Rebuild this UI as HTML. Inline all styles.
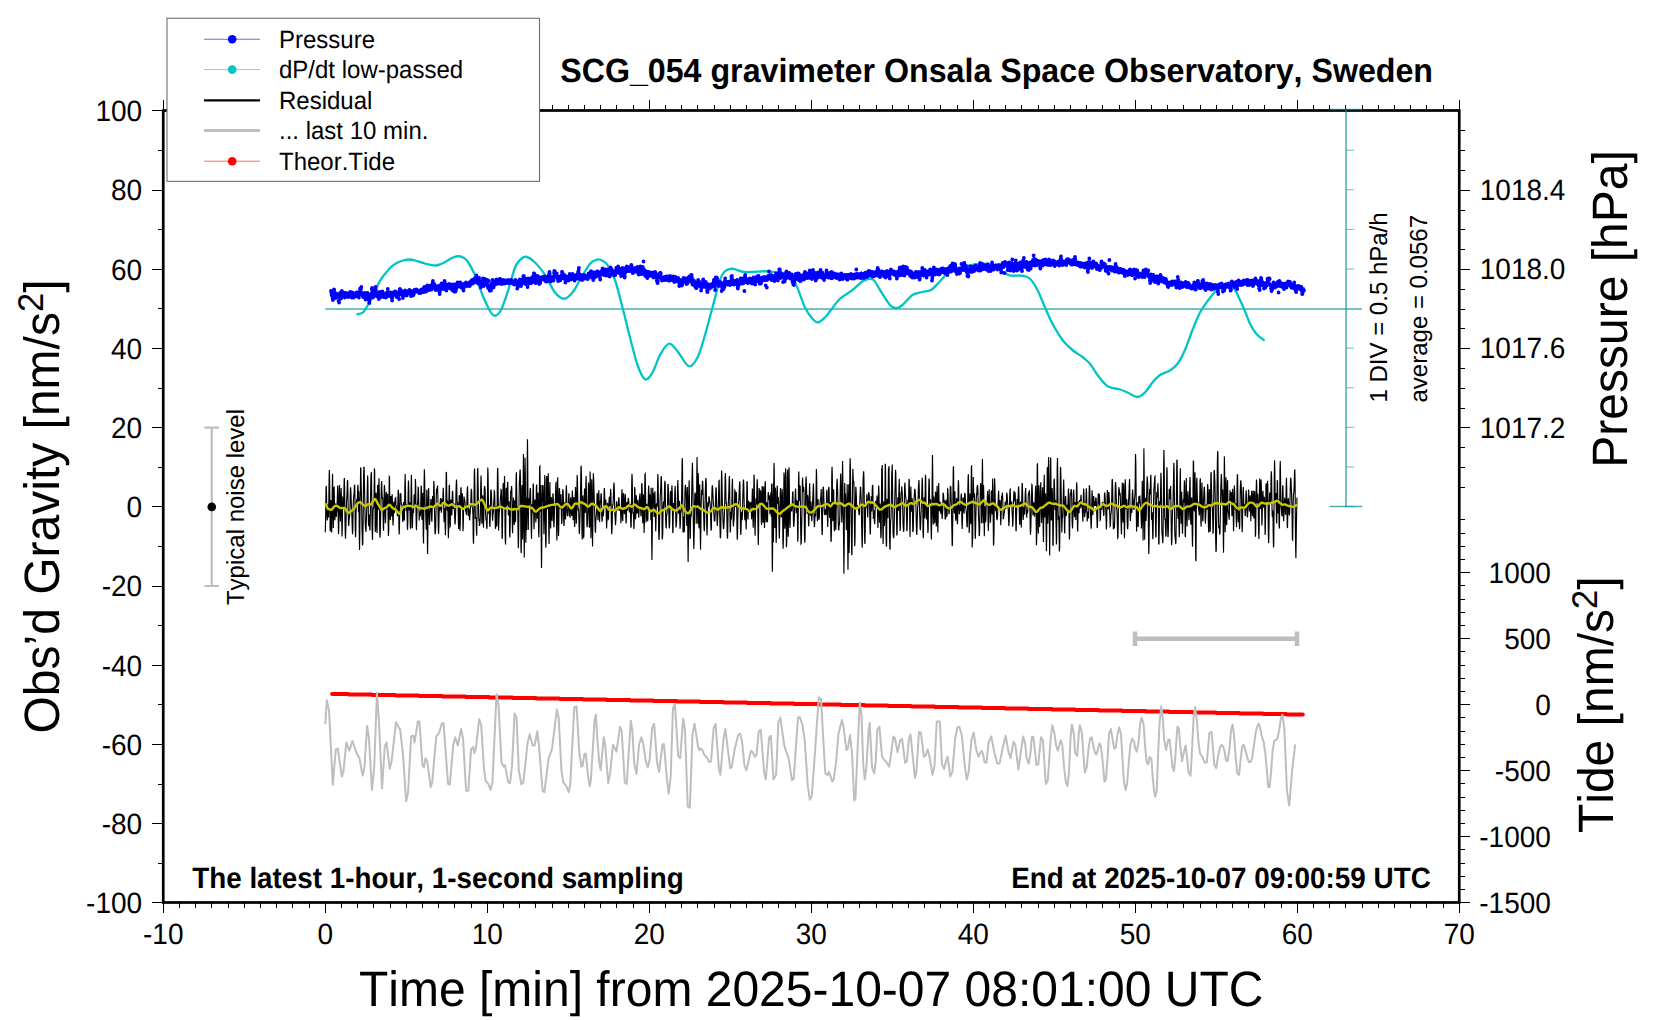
<!DOCTYPE html>
<html lang="en"><head><meta charset="utf-8"><title>SCG_054 gravimeter Onsala Space Observatory, Sweden</title>
<style>html,body{margin:0;padding:0;background:#fff;overflow:hidden}svg{display:block}text{font-family:"Liberation Sans", sans-serif;fill:#000;font-kerning:none;font-variant-ligatures:none;text-rendering:geometricPrecision}</style></head><body>
<svg width="1660" height="1020" viewBox="0 0 1660 1020" role="img" aria-label="SCG_054 gravimeter, latest 1-hour plot">
<rect width="1660" height="1020" fill="#fff"/>
<path d="M325.25,309H1362" stroke="#008b8b" stroke-opacity="0.7" stroke-width="1.5" fill="none"/>
<path d="M357.5,314.2C358,314.08 359.5,313.87 360.5,313.5C361.5,313.13 362.38,313.23 363.5,312C364.62,310.77 366.08,307.93 367.2,306.1C368.32,304.27 369.2,302.8 370.2,301C371.2,299.2 372.2,297.35 373.2,295.3C374.2,293.25 375.2,290.88 376.2,288.7C377.2,286.52 378.2,284.07 379.2,282.2C380.2,280.33 381.2,278.9 382.2,277.5C383.2,276.1 383.9,275.38 385.2,273.8C386.5,272.22 388.37,269.65 390,268C391.63,266.35 392.83,265.15 395,263.9C397.17,262.65 400.5,261.23 403,260.5C405.5,259.77 408,259.5 410,259.5C412,259.5 412.5,259.83 415,260.5C417.5,261.17 421.67,262.67 425,263.5C428.33,264.33 432.33,265.42 435,265.5C437.67,265.58 438.92,264.83 441,264C443.08,263.17 445.5,261.58 447.5,260.5C449.5,259.42 451.12,258.21 453,257.5C454.88,256.79 457.08,256.25 458.75,256.25C460.42,256.25 461.54,256.67 463,257.5C464.46,258.33 465.5,258.33 467.5,261.25C469.5,264.17 472.5,269.38 475,275C477.5,280.62 480,289 482.5,295C485,301 487.92,307.54 490,311C492.08,314.46 493.17,315.92 495,315.75C496.83,315.58 498.92,313.88 501,310C503.08,306.12 505.17,299.58 507.5,292.5C509.83,285.42 512.92,272.92 515,267.5C517.08,262.08 518.17,261.79 520,260C521.83,258.21 523.5,256.33 526,256.75C528.5,257.17 531.83,259.46 535,262.5C538.17,265.54 541.67,270 545,275C548.33,280 551.83,288.54 555,292.5C558.17,296.46 561.08,298.75 564,298.75C566.92,298.75 569.83,295.62 572.5,292.5C575.17,289.38 577.08,284.79 580,280C582.92,275.21 587.08,267.17 590,263.75C592.92,260.33 595.33,259.96 597.5,259.5C599.67,259.04 601.33,260.08 603,261C604.67,261.92 605.5,261.83 607.5,265C609.5,268.17 612.5,272.92 615,280C617.5,287.08 620,297.92 622.5,307.5C625,317.08 627.5,327.92 630,337.5C632.5,347.08 635,358.04 637.5,365C640,371.96 642.5,378 645,379.25C647.5,380.5 650,376.54 652.5,372.5C655,368.46 657.29,359.79 660,355C662.71,350.21 665.83,344.38 668.75,343.75C671.67,343.12 674.17,347.5 677.5,351.25C680.83,355 685.42,365.21 688.75,366.25C692.08,367.29 694.79,362.71 697.5,357.5C700.21,352.29 702.5,343.33 705,335C707.5,326.67 710,316.67 712.5,307.5C715,298.33 717.92,286.04 720,280C722.08,273.96 722.92,273.12 725,271.25C727.08,269.38 729.17,268.62 732.5,268.75C735.83,268.88 739.58,271.58 745,272C750.42,272.42 760,271.25 765,271.25C770,271.25 771.67,271.58 775,272C778.33,272.42 781.67,272 785,273.75C788.33,275.5 791.67,276.88 795,282.5C798.33,288.12 802.08,301.46 805,307.5C807.92,313.54 810.33,316.25 812.5,318.75C814.67,321.25 815.92,322.71 818,322.5C820.08,322.29 823,319.38 825,317.5C827,315.62 827.5,314.38 830,311.25C832.5,308.12 836.25,302.29 840,298.75C843.75,295.21 848.75,292.92 852.5,290C856.25,287.08 859.92,283.08 862.5,281.25C865.08,279.42 866.12,279.21 868,279C869.88,278.79 871.75,278.17 873.75,280C875.75,281.83 877.29,285.83 880,290C882.71,294.17 887.33,301.96 890,305C892.67,308.04 893.92,308.25 896,308.25C898.08,308.25 899.75,307.21 902.5,305C905.25,302.79 909.17,297.17 912.5,295C915.83,292.83 919.42,292.83 922.5,292C925.58,291.17 928.08,291.79 931,290C933.92,288.21 937.25,283.96 940,281.25C942.75,278.54 944.17,275.96 947.5,273.75C950.83,271.54 955.42,269.54 960,268C964.58,266.46 970.42,265.21 975,264.5C979.58,263.79 984.17,263.42 987.5,263.75C990.83,264.08 992.5,265.25 995,266.5C997.5,267.75 1000,269.75 1002.5,271.25C1005,272.75 1006.67,274.75 1010,275.5C1013.33,276.25 1019.17,275.21 1022.5,275.75C1025.83,276.29 1027.5,276.38 1030,278.75C1032.5,281.12 1035,285.21 1037.5,290C1040,294.79 1042.5,301.88 1045,307.5C1047.5,313.12 1049.58,318.33 1052.5,323.75C1055.42,329.17 1059.17,335.62 1062.5,340C1065.83,344.38 1069.17,347.17 1072.5,350C1075.83,352.83 1079.58,354.71 1082.5,357C1085.42,359.29 1087.5,360.75 1090,363.75C1092.5,366.75 1094.83,371.46 1097.5,375C1100.17,378.54 1103.5,382.83 1106,385C1108.5,387.17 1110.17,387.25 1112.5,388C1114.83,388.75 1117.5,388.75 1120,389.5C1122.5,390.25 1124.58,391.25 1127.5,392.5C1130.42,393.75 1134.58,397 1137.5,397C1140.42,397 1142.5,394.92 1145,392.5C1147.5,390.08 1150,385.42 1152.5,382.5C1155,379.58 1157.08,377 1160,375C1162.92,373 1167.08,372.38 1170,370.5C1172.92,368.62 1175,367.17 1177.5,363.75C1180,360.33 1182.5,355.62 1185,350C1187.5,344.38 1190,336.25 1192.5,330C1195,323.75 1197.5,317.29 1200,312.5C1202.5,307.71 1204.58,305.21 1207.5,301.25C1210.42,297.29 1214.75,291.54 1217.5,288.75C1220.25,285.96 1222.08,285.21 1224,284.5C1225.92,283.79 1227.17,283.58 1229,284.5C1230.83,285.42 1233.17,287.42 1235,290C1236.83,292.58 1238.33,296.46 1240,300C1241.67,303.54 1243.33,307.29 1245,311.25C1246.67,315.21 1248.12,320 1250,323.75C1251.88,327.5 1253.96,331.04 1256.25,333.75C1258.54,336.46 1262.5,338.96 1263.75,340" fill="none" stroke="#00c5c5" stroke-width="2.3" stroke-linejoin="round" stroke-linecap="round"/>
<path d="M331,291h.01M331.27,292h.01M331.54,295h.01M331.81,295h.01M332.08,294h.01M332.35,296h.01M332.62,298h.01M332.89,300h.01M333.16,296h.01M333.43,297h.01M333.7,296h.01M333.97,289.5h.01M334.24,290h.01M334.51,293.5h.01M334.78,294h.01M335.06,294.5h.01M335.33,294h.01M335.6,298h.01M335.87,296.5h.01M336.14,293.5h.01M336.41,294.5h.01M336.68,296.5h.01M336.95,296h.01M337.22,296.5h.01M337.49,296h.01M337.76,296h.01M338.03,295h.01M338.3,297h.01M338.57,301h.01M338.84,301.5h.01M339.11,302.5h.01M339.38,296h.01M339.65,294h.01M339.92,293h.01M340.19,296h.01M340.46,296.5h.01M340.73,296.5h.01M341,298.5h.01M341.27,297.5h.01M341.54,295.5h.01M341.81,291h.01M342.08,293h.01M342.35,293h.01M342.63,295h.01M342.9,295.5h.01M343.17,294h.01M343.44,292.5h.01M343.71,293h.01M343.98,296h.01M344.25,296.5h.01M344.52,296.5h.01M344.79,297.5h.01M345.06,294h.01M345.33,294h.01M345.6,293.5h.01M345.87,296h.01M346.14,293h.01M346.41,296.5h.01M346.68,296h.01M346.95,294.5h.01M347.22,295.5h.01M347.49,295h.01M347.76,293.5h.01M348.03,296.5h.01M348.3,297h.01M348.57,296.5h.01M348.84,293.5h.01M349.11,295.5h.01M349.38,296h.01M349.65,295h.01M349.92,292.5h.01M350.2,292h.01M350.47,293h.01M350.74,296.5h.01M351.01,295h.01M351.28,294h.01M351.55,297h.01M351.82,297.5h.01M352.09,292.5h.01M352.36,296.5h.01M352.63,294.5h.01M352.9,295.5h.01M353.17,297h.01M353.44,294.5h.01M353.71,297.5h.01M353.98,296h.01M354.25,293.5h.01M354.52,295.5h.01M354.79,295.5h.01M355.06,294.5h.01M355.33,295.5h.01M355.6,295h.01M355.87,293.5h.01M356.14,296h.01M356.41,293h.01M356.68,292.5h.01M356.95,293h.01M357.22,292.5h.01M357.49,293h.01M357.76,296.5h.01M358.04,294h.01M358.31,296.5h.01M358.58,293.5h.01M358.85,297.5h.01M359.12,292.5h.01M359.39,294h.01M359.66,294.5h.01M359.93,289h.01M360.2,288.5h.01M360.47,290.5h.01M360.74,288.5h.01M361.01,289h.01M361.28,287h.01M361.55,293h.01M361.82,294.5h.01M362.09,293h.01M362.36,295.5h.01M362.63,294h.01M362.9,296.5h.01M363.17,297h.01M363.44,293.5h.01M363.71,293.5h.01M363.98,295h.01M364.25,297h.01M364.52,293h.01M364.79,297.5h.01M365.06,295.5h.01M365.33,295.5h.01M365.61,299.5h.01M365.88,295h.01M366.15,296h.01M366.42,295.5h.01M366.69,296.5h.01M366.96,296.5h.01M367.23,293h.01M367.5,293h.01M367.77,294.5h.01M368.04,296.5h.01M368.31,297.5h.01M368.58,297h.01M368.85,299.5h.01M369.12,302.5h.01M369.39,303h.01M369.66,300h.01M369.93,296h.01M370.2,295.5h.01M370.47,294.5h.01M370.74,295h.01M371.01,296.5h.01M371.28,293.5h.01M371.55,293.5h.01M371.82,289h.01M372.09,288h.01M372.36,291h.01M372.63,293h.01M372.9,297.5h.01M373.18,293h.01M373.45,295h.01M373.72,296.5h.01M373.99,294.5h.01M374.26,295.5h.01M374.53,295h.01M374.8,293.5h.01M375.07,291h.01M375.34,290h.01M375.61,287h.01M375.88,290h.01M376.15,292h.01M376.42,295h.01M376.69,293.5h.01M376.96,295.5h.01M377.23,296.5h.01M377.5,295h.01M377.77,295.5h.01M378.04,296h.01M378.31,297h.01M378.58,295.5h.01M378.85,299h.01M379.12,296.5h.01M379.39,293.5h.01M379.66,292h.01M379.93,294h.01M380.2,295.5h.01M380.47,294h.01M380.74,297h.01M381.02,296h.01M381.29,296h.01M381.56,295h.01M381.83,293h.01M382.1,294.5h.01M382.37,291.5h.01M382.64,292.5h.01M382.91,296.5h.01M383.18,293.5h.01M383.45,295.5h.01M383.72,297h.01M383.99,294.5h.01M384.26,296h.01M384.53,294h.01M384.8,296h.01M385.07,295.5h.01M385.34,295h.01M385.61,293.5h.01M385.88,297.5h.01M386.15,295.5h.01M386.42,296h.01M386.69,293.5h.01M386.96,295h.01M387.23,292.5h.01M387.5,294.5h.01M387.77,289h.01M388.04,295.5h.01M388.31,296h.01M388.59,295h.01M388.86,293.5h.01M389.13,292.5h.01M389.4,293h.01M389.67,295h.01M389.94,293.5h.01M390.21,292.5h.01M390.48,292.5h.01M390.75,294h.01M391.02,294.5h.01M391.29,293.5h.01M391.56,297.5h.01M391.83,296.5h.01M392.1,300.5h.01M392.37,298h.01M392.64,293h.01M392.91,295h.01M393.18,294.5h.01M393.45,295h.01M393.72,295h.01M393.99,293.5h.01M394.26,292h.01M394.53,293.5h.01M394.8,293.5h.01M395.07,291.5h.01M395.34,291.5h.01M395.61,292h.01M395.88,294h.01M396.16,293h.01M396.43,293h.01M396.7,297h.01M396.97,297h.01M397.24,295h.01M397.51,295h.01M397.78,294h.01M398.05,297h.01M398.32,295h.01M398.59,294h.01M398.86,292h.01M399.13,299h.01M399.4,294.5h.01M399.67,289.5h.01M399.94,289h.01M400.21,289.5h.01M400.48,293.5h.01M400.75,293h.01M401.02,294.5h.01M401.29,291.5h.01M401.56,291h.01M401.83,293h.01M402.1,293.5h.01M402.37,293h.01M402.64,296h.01M402.91,298h.01M403.18,296.5h.01M403.45,292h.01M403.72,293.5h.01M404,292.5h.01M404.27,294h.01M404.54,293.5h.01M404.81,293h.01M405.08,290.5h.01M405.35,294.5h.01M405.62,294h.01M405.89,291.5h.01M406.16,292h.01M406.43,295h.01M406.7,295.5h.01M406.97,292.5h.01M407.24,294h.01M407.51,292h.01M407.78,292h.01M408.05,293h.01M408.32,293h.01M408.59,292h.01M408.86,290.5h.01M409.13,291h.01M409.4,290h.01M409.67,292h.01M409.94,293h.01M410.21,290.5h.01M410.48,291h.01M410.75,295h.01M411.02,296h.01M411.29,294h.01M411.57,293h.01M411.84,291.5h.01M412.11,294h.01M412.38,293.5h.01M412.65,295.5h.01M412.92,295h.01M413.19,295h.01M413.46,295h.01M413.73,291h.01M414,293.5h.01M414.27,290h.01M414.54,291h.01M414.81,290h.01M415.08,291.5h.01M415.35,291.5h.01M415.62,290h.01M415.89,291h.01M416.16,289.5h.01M416.43,291h.01M416.7,290.5h.01M416.97,291.5h.01M417.24,291.5h.01M417.51,291h.01M417.78,290.5h.01M418.05,292h.01M418.32,292h.01M418.59,292h.01M418.86,291h.01M419.14,293h.01M419.41,292.5h.01M419.68,292h.01M419.95,290.5h.01M420.22,292.5h.01M420.49,293h.01M420.76,291h.01M421.03,290h.01M421.3,292h.01M421.57,289.5h.01M421.84,292h.01M422.11,292h.01M422.38,289.5h.01M422.65,292h.01M422.92,289h.01M423.19,292h.01M423.46,292h.01M423.73,292h.01M424,288.5h.01M424.27,287h.01M424.54,288h.01M424.81,287.5h.01M425.08,288.5h.01M425.35,288.5h.01M425.62,291h.01M425.89,291.5h.01M426.16,291.5h.01M426.43,290h.01M426.7,287h.01M426.98,288h.01M427.25,285.5h.01M427.52,287h.01M427.79,288.5h.01M428.06,289.5h.01M428.33,289.5h.01M428.6,289.5h.01M428.87,288h.01M429.14,290h.01M429.41,288.5h.01M429.68,287.5h.01M429.95,287h.01M430.22,286h.01M430.49,285.5h.01M430.76,287h.01M431.03,289h.01M431.3,289.5h.01M431.57,289.5h.01M431.84,285h.01M432.11,287h.01M432.38,284.5h.01M432.65,283h.01M432.92,281h.01M433.19,283.5h.01M433.46,287.5h.01M433.73,284.5h.01M434,286h.01M434.27,284h.01M434.55,285h.01M434.82,286h.01M435.09,287h.01M435.36,286h.01M435.63,290h.01M435.9,288.5h.01M436.17,287h.01M436.44,287h.01M436.71,288.5h.01M436.98,287h.01M437.25,287h.01M437.52,286.5h.01M437.79,289.5h.01M438.06,288.5h.01M438.33,286.5h.01M438.6,286h.01M438.87,289h.01M439.14,288h.01M439.41,292h.01M439.68,294h.01M439.95,291.5h.01M440.22,289h.01M440.49,287.5h.01M440.76,285h.01M441.03,288.5h.01M441.3,285h.01M441.57,283.5h.01M441.84,285h.01M442.12,285.5h.01M442.39,285.5h.01M442.66,287h.01M442.93,287h.01M443.2,289h.01M443.47,285h.01M443.74,287h.01M444.01,285h.01M444.28,285.5h.01M444.55,281h.01M444.82,282h.01M445.09,285.5h.01M445.36,286h.01M445.63,287.5h.01M445.9,284.5h.01M446.17,285.5h.01M446.44,290.5h.01M446.71,285h.01M446.98,287.5h.01M447.25,285h.01M447.52,287h.01M447.79,285.5h.01M448.06,288h.01M448.33,286h.01M448.6,286h.01M448.87,286h.01M449.14,284h.01M449.41,287h.01M449.68,288h.01M449.96,287h.01M450.23,285h.01M450.5,284.5h.01M450.77,286h.01M451.04,285.5h.01M451.31,287.5h.01M451.58,285.5h.01M451.85,289.5h.01M452.12,290h.01M452.39,287h.01M452.66,285.5h.01M452.93,284.5h.01M453.2,285.5h.01M453.47,290h.01M453.74,289h.01M454.01,291.5h.01M454.28,289.5h.01M454.55,287.5h.01M454.82,284.5h.01M455.09,285h.01M455.36,291.5h.01M455.63,289h.01M455.9,290.5h.01M456.17,288.5h.01M456.44,285.5h.01M456.71,286h.01M456.98,284h.01M457.25,284.5h.01M457.53,282.5h.01M457.8,283.5h.01M458.07,284.5h.01M458.34,283h.01M458.61,286.5h.01M458.88,284h.01M459.15,284.5h.01M459.42,286h.01M459.69,285h.01M459.96,282.5h.01M460.23,282.5h.01M460.5,284h.01M460.77,284h.01M461.04,285h.01M461.31,287.5h.01M461.58,284h.01M461.85,284h.01M462.12,284.5h.01M462.39,286.5h.01M462.66,284.5h.01M462.93,288h.01M463.2,289h.01M463.47,290.5h.01M463.74,288h.01M464.01,286h.01M464.28,284h.01M464.55,286h.01M464.82,283.5h.01M465.1,284.5h.01M465.37,284h.01M465.64,283.5h.01M465.91,282.5h.01M466.18,284.5h.01M466.45,283h.01M466.72,284.5h.01M466.99,284h.01M467.26,286h.01M467.53,283.5h.01M467.8,284h.01M468.07,285h.01M468.34,284.5h.01M468.61,284h.01M468.88,285.5h.01M469.15,285h.01M469.42,283h.01M469.69,286h.01M469.96,282h.01M470.23,285h.01M470.5,284h.01M470.77,282h.01M471.04,281.5h.01M471.31,283h.01M471.58,280.5h.01M471.85,282.5h.01M472.12,280h.01M472.39,283h.01M472.66,281h.01M472.94,283.5h.01M473.21,282.5h.01M473.48,282.5h.01M473.75,281h.01M474.02,282.5h.01M474.29,279.5h.01M474.56,278.5h.01M474.83,281.5h.01M475.1,281h.01M475.37,281h.01M475.64,280.5h.01M475.91,280.5h.01M476.18,278h.01M476.45,275.5h.01M476.72,277.5h.01M476.99,282h.01M477.26,282.5h.01M477.53,282.5h.01M477.8,280.5h.01M478.07,283.5h.01M478.34,281h.01M478.61,279h.01M478.88,280h.01M479.15,278h.01M479.42,281.5h.01M479.69,281h.01M479.96,283.5h.01M480.23,284.5h.01M480.51,285.5h.01M480.78,287.5h.01M481.05,286.5h.01M481.32,285.5h.01M481.59,284h.01M481.86,283h.01M482.13,281h.01M482.4,281.5h.01M482.67,280.5h.01M482.94,278.5h.01M483.21,281h.01M483.48,285h.01M483.75,286h.01M484.02,285.5h.01M484.29,280.5h.01M484.56,281h.01M484.83,279h.01M485.1,279.5h.01M485.37,283h.01M485.64,281h.01M485.91,284.5h.01M486.18,283.5h.01M486.45,280.5h.01M486.72,281.5h.01M486.99,284h.01M487.26,280h.01M487.53,281.5h.01M487.8,286.5h.01M488.08,288h.01M488.35,285.5h.01M488.62,285.5h.01M488.89,281h.01M489.16,285.5h.01M489.43,286h.01M489.7,290.5h.01M489.97,290.5h.01M490.24,288h.01M490.51,287h.01M490.78,286.5h.01M491.05,290.5h.01M491.32,288h.01M491.59,284h.01M491.86,285.5h.01M492.13,283.5h.01M492.4,285h.01M492.67,280h.01M492.94,284.5h.01M493.21,287.5h.01M493.48,287.5h.01M493.75,286.5h.01M494.02,285h.01M494.29,282h.01M494.56,284h.01M494.83,281.5h.01M495.1,284.5h.01M495.37,283.5h.01M495.64,282.5h.01M495.92,281.5h.01M496.19,284h.01M496.46,279.5h.01M496.73,282.5h.01M497,281.5h.01M497.27,280h.01M497.54,281.5h.01M497.81,283h.01M498.08,282.5h.01M498.35,283.5h.01M498.62,283.5h.01M498.89,282.5h.01M499.16,283h.01M499.43,283h.01M499.7,279h.01M499.97,282h.01M500.24,279h.01M500.51,280h.01M500.78,283.5h.01M501.05,281.5h.01M501.32,283h.01M501.59,284h.01M501.86,282.5h.01M502.13,282.5h.01M502.4,282h.01M502.67,281h.01M502.94,283.5h.01M503.21,280h.01M503.49,282h.01M503.76,282h.01M504.03,283h.01M504.3,283.5h.01M504.57,280.5h.01M504.84,280.5h.01M505.11,282.5h.01M505.38,282h.01M505.65,283h.01M505.92,281h.01M506.19,283h.01M506.46,281h.01M506.73,280.5h.01M507,280.5h.01M507.27,280.5h.01M507.54,280.5h.01M507.81,282h.01M508.08,280h.01M508.35,283h.01M508.62,282h.01M508.89,282h.01M509.16,281.5h.01M509.43,283h.01M509.7,281.5h.01M509.97,282.5h.01M510.24,281.5h.01M510.51,282h.01M510.78,281.5h.01M511.06,280h.01M511.33,281.5h.01M511.6,283h.01M511.87,282h.01M512.14,281.5h.01M512.41,282.5h.01M512.68,283h.01M512.95,281.5h.01M513.22,283h.01M513.49,281.5h.01M513.76,282.5h.01M514.03,284.5h.01M514.3,283h.01M514.57,284h.01M514.84,281.5h.01M515.11,282h.01M515.38,280h.01M515.65,283h.01M515.92,283.5h.01M516.19,281h.01M516.46,282.5h.01M516.73,282h.01M517,282.5h.01M517.27,288.5h.01M517.54,286h.01M517.81,287h.01M518.08,286h.01M518.35,284h.01M518.62,284h.01M518.9,283h.01M519.17,281h.01M519.44,283h.01M519.71,279.5h.01M519.98,281h.01M520.25,281.5h.01M520.52,284h.01M520.79,280.5h.01M521.06,286h.01M521.33,284h.01M521.6,283h.01M521.87,284h.01M522.14,281.5h.01M522.41,281h.01M522.68,279.5h.01M522.95,281.5h.01M523.22,276.5h.01M523.49,279h.01M523.76,276h.01M524.03,277.5h.01M524.3,282h.01M524.57,281.5h.01M524.84,283h.01M525.11,282.5h.01M525.38,279.5h.01M525.65,284h.01M525.92,281.5h.01M526.19,279h.01M526.47,280.5h.01M526.74,280h.01M527.01,279h.01M527.28,279.5h.01M527.55,287h.01M527.82,282h.01M528.09,278.5h.01M528.36,280h.01M528.63,280h.01M528.9,283.5h.01M529.17,283.5h.01M529.44,281.5h.01M529.71,279.5h.01M529.98,282.5h.01M530.25,282.5h.01M530.52,282h.01M530.79,279.5h.01M531.06,282.5h.01M531.33,283h.01M531.6,278h.01M531.87,278.5h.01M532.14,279h.01M532.41,277.5h.01M532.68,282h.01M532.95,276.5h.01M533.22,279.5h.01M533.49,279h.01M533.76,273.5h.01M534.04,273.5h.01M534.31,275h.01M534.58,274h.01M534.85,277.5h.01M535.12,281.5h.01M535.39,280.5h.01M535.66,283h.01M535.93,280h.01M536.2,277.5h.01M536.47,280.5h.01M536.74,278h.01M537.01,278h.01M537.28,277.5h.01M537.55,276h.01M537.82,279h.01M538.09,276.5h.01M538.36,281h.01M538.63,280h.01M538.9,280.5h.01M539.17,284h.01M539.44,281.5h.01M539.71,280h.01M539.98,280h.01M540.25,283h.01M540.52,280.5h.01M540.79,278h.01M541.06,277.5h.01M541.33,277.5h.01M541.6,278.5h.01M541.88,277.5h.01M542.15,277.5h.01M542.42,277.5h.01M542.69,277h.01M542.96,278.5h.01M543.23,279h.01M543.5,279h.01M543.77,279.5h.01M544.04,277.5h.01M544.31,280h.01M544.58,279.5h.01M544.85,276.5h.01M545.12,277h.01M545.39,277.5h.01M545.66,280h.01M545.93,281.5h.01M546.2,280h.01M546.47,281h.01M546.74,281.5h.01M547.01,279h.01M547.28,277h.01M547.55,278h.01M547.82,277.5h.01M548.09,277h.01M548.36,277h.01M548.63,277.5h.01M548.9,274.5h.01M549.17,274h.01M549.45,272h.01M549.72,274h.01M549.99,277.5h.01M550.26,281h.01M550.53,281.5h.01M550.8,279h.01M551.07,278.5h.01M551.34,279h.01M551.61,278h.01M551.88,277.5h.01M552.15,278.5h.01M552.42,277h.01M552.69,279.5h.01M552.96,280.5h.01M553.23,278h.01M553.5,280.5h.01M553.77,276.5h.01M554.04,273h.01M554.31,271h.01M554.58,275h.01M554.85,271.5h.01M555.12,274h.01M555.39,274.5h.01M555.66,275h.01M555.93,275.5h.01M556.2,276h.01M556.47,275.5h.01M556.74,273.5h.01M557.02,278h.01M557.29,277.5h.01M557.56,279h.01M557.83,277.5h.01M558.1,281h.01M558.37,279.5h.01M558.64,280.5h.01M558.91,277.5h.01M559.18,278.5h.01M559.45,280.5h.01M559.72,276.5h.01M559.99,277.5h.01M560.26,276.5h.01M560.53,280h.01M560.8,278.5h.01M561.07,278.5h.01M561.34,278h.01M561.61,275.5h.01M561.88,272h.01M562.15,272h.01M562.42,272.5h.01M562.69,278h.01M562.96,278h.01M563.23,276.5h.01M563.5,277h.01M563.77,275h.01M564.04,278.5h.01M564.31,275h.01M564.58,278h.01M564.86,278.5h.01M565.13,279.5h.01M565.4,282.5h.01M565.67,280h.01M565.94,278.5h.01M566.21,279h.01M566.48,276.5h.01M566.75,279h.01M567.02,280h.01M567.29,278.5h.01M567.56,280h.01M567.83,277h.01M568.1,277h.01M568.37,280.5h.01M568.64,276.5h.01M568.91,276.5h.01M569.18,278.5h.01M569.45,276h.01M569.72,274h.01M569.99,277h.01M570.26,279h.01M570.53,276.5h.01M570.8,279h.01M571.07,279.5h.01M571.34,274.5h.01M571.61,276.5h.01M571.88,275.5h.01M572.15,278h.01M572.43,275h.01M572.7,274h.01M572.97,276.5h.01M573.24,277.5h.01M573.51,277h.01M573.78,277.5h.01M574.05,277h.01M574.32,276h.01M574.59,280.5h.01M574.86,280h.01M575.13,278.5h.01M575.4,277.5h.01M575.67,276h.01M575.94,275.5h.01M576.21,277h.01M576.48,278h.01M576.75,277.5h.01M577.02,274.5h.01M577.29,278.5h.01M577.56,276h.01M577.83,276h.01M578.1,272h.01M578.37,272h.01M578.64,270.5h.01M578.91,268h.01M579.18,276h.01M579.45,274h.01M579.72,279h.01M579.99,278h.01M580.27,276h.01M580.54,277h.01M580.81,275h.01M581.08,276h.01M581.35,277h.01M581.62,279h.01M581.89,275.5h.01M582.16,280h.01M582.43,278.5h.01M582.7,279h.01M582.97,279h.01M583.24,275.5h.01M583.51,275h.01M583.78,275h.01M584.05,275h.01M584.32,276h.01M584.59,276h.01M584.86,275.5h.01M585.13,275.5h.01M585.4,278h.01M585.67,278.5h.01M585.94,277h.01M586.21,277.5h.01M586.48,278.5h.01M586.75,278.5h.01M587.02,277.5h.01M587.29,277.5h.01M587.56,278h.01M587.84,279h.01M588.11,277.5h.01M588.38,275h.01M588.65,273.5h.01M588.92,275h.01M589.19,276h.01M589.46,274.5h.01M589.73,274.5h.01M590,274.5h.01M590.27,274.5h.01M590.54,275.5h.01M590.81,271.5h.01M591.08,271.5h.01M591.35,271.5h.01M591.62,277.5h.01M591.89,274h.01M592.16,275h.01M592.43,277h.01M592.7,278h.01M592.97,275.5h.01M593.24,280h.01M593.51,278.5h.01M593.78,278h.01M594.05,275h.01M594.32,272.5h.01M594.59,274h.01M594.86,277.5h.01M595.13,275h.01M595.41,273h.01M595.68,276.5h.01M595.95,276.5h.01M596.22,272.5h.01M596.49,276h.01M596.76,275h.01M597.03,273.5h.01M597.3,271.5h.01M597.57,271.5h.01M597.84,273h.01M598.11,275.5h.01M598.38,273.5h.01M598.65,275h.01M598.92,273.5h.01M599.19,275h.01M599.46,275.5h.01M599.73,275h.01M600,278.5h.01M600.27,279.5h.01M600.54,275h.01M600.81,273h.01M601.08,271.5h.01M601.35,274.5h.01M601.62,273h.01M601.89,272h.01M602.16,272.5h.01M602.43,269h.01M602.7,268.5h.01M602.97,272.5h.01M603.25,270h.01M603.52,271.5h.01M603.79,274.5h.01M604.06,275h.01M604.33,274h.01M604.6,275h.01M604.87,273.5h.01M605.14,272.5h.01M605.41,273.5h.01M605.68,271h.01M605.95,269.5h.01M606.22,272h.01M606.49,275.5h.01M606.76,271.5h.01M607.03,273.5h.01M607.3,271.5h.01M607.57,271.5h.01M607.84,270.5h.01M608.11,275h.01M608.38,275.5h.01M608.65,274.5h.01M608.92,269.5h.01M609.19,270.5h.01M609.46,270.5h.01M609.73,276.5h.01M610,276h.01M610.27,270.5h.01M610.54,267.5h.01M610.82,269.5h.01M611.09,269.5h.01M611.36,269h.01M611.63,269.5h.01M611.9,273.5h.01M612.17,271h.01M612.44,273.5h.01M612.71,273.5h.01M612.98,271.5h.01M613.25,272.5h.01M613.52,274h.01M613.79,273.5h.01M614.06,273h.01M614.33,275.5h.01M614.6,275h.01M614.87,273.5h.01M615.14,271h.01M615.41,275h.01M615.68,271.5h.01M615.95,273h.01M616.22,268h.01M616.49,268h.01M616.76,270h.01M617.03,269h.01M617.3,270h.01M617.57,269h.01M617.84,267.5h.01M618.11,266.5h.01M618.39,269h.01M618.66,269.5h.01M618.93,271.5h.01M619.2,273h.01M619.47,271h.01M619.74,270h.01M620.01,270.5h.01M620.28,269h.01M620.55,273h.01M620.82,273h.01M621.09,276h.01M621.36,271.5h.01M621.63,274h.01M621.9,269.5h.01M622.17,268.5h.01M622.44,268h.01M622.71,269.5h.01M622.98,269.5h.01M623.25,271.5h.01M623.52,269.5h.01M623.79,269.5h.01M624.06,275.5h.01M624.33,276h.01M624.6,277.5h.01M624.87,276.5h.01M625.14,273h.01M625.41,270.5h.01M625.68,268h.01M625.95,268h.01M626.23,269h.01M626.5,267.5h.01M626.77,266.5h.01M627.04,269h.01M627.31,271h.01M627.58,268.5h.01M627.85,268.5h.01M628.12,267.5h.01M628.39,269.5h.01M628.66,270.5h.01M628.93,271h.01M629.2,268.5h.01M629.47,271h.01M629.74,267h.01M630.01,269.5h.01M630.28,268h.01M630.55,270.5h.01M630.82,268h.01M631.09,270h.01M631.36,265h.01M631.63,266h.01M631.9,268h.01M632.17,271h.01M632.44,271h.01M632.71,273h.01M632.98,273h.01M633.25,271.5h.01M633.52,271.5h.01M633.8,271.5h.01M634.07,271h.01M634.34,272h.01M634.61,269h.01M634.88,270h.01M635.15,268h.01M635.42,271h.01M635.69,270.5h.01M635.96,269.5h.01M636.23,269.5h.01M636.5,271.5h.01M636.77,271h.01M637.04,269.5h.01M637.31,269h.01M637.58,267h.01M637.85,269.5h.01M638.12,270.5h.01M638.39,273.5h.01M638.66,274.5h.01M638.93,272.5h.01M639.2,272.5h.01M639.47,271h.01M639.74,271.5h.01M640.01,270.5h.01M640.28,269.5h.01M640.55,266.5h.01M640.82,268h.01M641.09,273.5h.01M641.37,274h.01M641.64,274h.01M641.91,272.5h.01M642.18,273.5h.01M642.45,269h.01M642.72,267h.01M642.99,268h.01M643.26,268.5h.01M643.53,261.5h.01M643.8,269.5h.01M644.07,271.5h.01M644.34,270h.01M644.61,270.5h.01M644.88,275h.01M645.15,275.5h.01M645.42,276h.01M645.69,274.5h.01M645.96,274h.01M646.23,271.5h.01M646.5,275h.01M646.77,273.5h.01M647.04,274.5h.01M647.31,278h.01M647.58,276.5h.01M647.85,273h.01M648.12,275h.01M648.39,273.5h.01M648.66,272h.01M648.93,276h.01M649.21,274h.01M649.48,275h.01M649.75,272.5h.01M650.02,274.5h.01M650.29,275h.01M650.56,274.5h.01M650.83,275h.01M651.1,275.5h.01M651.37,275.5h.01M651.64,274h.01M651.91,275h.01M652.18,275h.01M652.45,272.5h.01M652.72,275h.01M652.99,274.5h.01M653.26,276.5h.01M653.53,277.5h.01M653.8,276.5h.01M654.07,277h.01M654.34,276h.01M654.61,274h.01M654.88,276h.01M655.15,272h.01M655.42,272.5h.01M655.69,274.5h.01M655.96,273.5h.01M656.23,275.5h.01M656.5,277.5h.01M656.78,280.5h.01M657.05,280.5h.01M657.32,282.5h.01M657.59,283h.01M657.86,281h.01M658.13,277h.01M658.4,276h.01M658.67,275h.01M658.94,274.5h.01M659.21,276.5h.01M659.48,277h.01M659.75,273.5h.01M660.02,273h.01M660.29,274.5h.01M660.56,273h.01M660.83,273.5h.01M661.1,278.5h.01M661.37,279h.01M661.64,278h.01M661.91,280.5h.01M662.18,280h.01M662.45,279.5h.01M662.72,277.5h.01M662.99,278.5h.01M663.26,279h.01M663.53,279h.01M663.8,280h.01M664.07,277.5h.01M664.35,277h.01M664.62,277.5h.01M664.89,277.5h.01M665.16,277h.01M665.43,277h.01M665.7,280h.01M665.97,277.5h.01M666.24,279.5h.01M666.51,276.5h.01M666.78,278h.01M667.05,279h.01M667.32,276.5h.01M667.59,278h.01M667.86,277.5h.01M668.13,278.5h.01M668.4,279.5h.01M668.67,280.5h.01M668.94,279h.01M669.21,280.5h.01M669.48,278h.01M669.75,280.5h.01M670.02,276h.01M670.29,278h.01M670.56,276.5h.01M670.83,277h.01M671.1,277h.01M671.37,278.5h.01M671.64,277.5h.01M671.91,279h.01M672.19,277.5h.01M672.46,279.5h.01M672.73,279.5h.01M673,280.5h.01M673.27,276.5h.01M673.54,277.5h.01M673.81,277.5h.01M674.08,279.5h.01M674.35,282h.01M674.62,281.5h.01M674.89,281h.01M675.16,280h.01M675.43,277h.01M675.7,278h.01M675.97,279.5h.01M676.24,279.5h.01M676.51,280.5h.01M676.78,279h.01M677.05,278.5h.01M677.32,279h.01M677.59,281.5h.01M677.86,280.5h.01M678.13,278h.01M678.4,279.5h.01M678.67,280.5h.01M678.94,282h.01M679.21,286h.01M679.48,284h.01M679.76,285h.01M680.03,280h.01M680.3,281h.01M680.57,282.5h.01M680.84,283h.01M681.11,283h.01M681.38,284.5h.01M681.65,285.5h.01M681.92,284.5h.01M682.19,285h.01M682.46,281.5h.01M682.73,282h.01M683,280h.01M683.27,282h.01M683.54,278h.01M683.81,280h.01M684.08,279.5h.01M684.35,278.5h.01M684.62,279.5h.01M684.89,281.5h.01M685.16,279h.01M685.43,279.5h.01M685.7,281h.01M685.97,278.5h.01M686.24,283h.01M686.51,284h.01M686.78,280.5h.01M687.05,282.5h.01M687.33,283.5h.01M687.6,282.5h.01M687.87,281h.01M688.14,279.5h.01M688.41,279.5h.01M688.68,277.5h.01M688.95,277h.01M689.22,280.5h.01M689.49,276.5h.01M689.76,281h.01M690.03,281.5h.01M690.3,281h.01M690.57,280h.01M690.84,279.5h.01M691.11,275h.01M691.38,275h.01M691.65,275h.01M691.92,277.5h.01M692.19,282h.01M692.46,284.5h.01M692.73,284h.01M693,284.5h.01M693.27,282h.01M693.54,282h.01M693.81,280.5h.01M694.08,281h.01M694.35,282.5h.01M694.62,282h.01M694.89,286h.01M695.17,283h.01M695.44,282.5h.01M695.71,284h.01M695.98,288h.01M696.25,288h.01M696.52,288h.01M696.79,287h.01M697.06,286h.01M697.33,284h.01M697.6,284h.01M697.87,282h.01M698.14,280h.01M698.41,283.5h.01M698.68,282.5h.01M698.95,283h.01M699.22,285h.01M699.49,282h.01M699.76,282.5h.01M700.03,286h.01M700.3,285h.01M700.57,286.5h.01M700.84,287h.01M701.11,290.5h.01M701.38,286h.01M701.65,285h.01M701.92,287.5h.01M702.19,286.5h.01M702.46,284.5h.01M702.74,284.5h.01M703.01,280.5h.01M703.28,279.5h.01M703.55,282.5h.01M703.82,284h.01M704.09,285.5h.01M704.36,286.5h.01M704.63,286.5h.01M704.9,283h.01M705.17,284h.01M705.44,287h.01M705.71,282h.01M705.98,282.5h.01M706.25,284h.01M706.52,286.5h.01M706.79,286h.01M707.06,290.5h.01M707.33,292h.01M707.6,292h.01M707.87,287.5h.01M708.14,288.5h.01M708.41,287.5h.01M708.68,284.5h.01M708.95,287.5h.01M709.22,285.5h.01M709.49,288h.01M709.76,288.5h.01M710.03,286h.01M710.31,286h.01M710.58,286h.01M710.85,285h.01M711.12,287.5h.01M711.39,286.5h.01M711.66,286.5h.01M711.93,284h.01M712.2,284.5h.01M712.47,285h.01M712.74,285h.01M713.01,284.5h.01M713.28,286h.01M713.55,282.5h.01M713.82,280h.01M714.09,282.5h.01M714.36,283.5h.01M714.63,286.5h.01M714.9,286.5h.01M715.17,290h.01M715.44,282.5h.01M715.71,277.5h.01M715.98,281.5h.01M716.25,278h.01M716.52,277.5h.01M716.79,280h.01M717.06,278h.01M717.33,282.5h.01M717.6,283.5h.01M717.87,284.5h.01M718.15,282h.01M718.42,282h.01M718.69,286h.01M718.96,282h.01M719.23,283h.01M719.5,281.5h.01M719.77,283.5h.01M720.04,282.5h.01M720.31,282.5h.01M720.58,284.5h.01M720.85,285.5h.01M721.12,282.5h.01M721.39,284h.01M721.66,291h.01M721.93,286.5h.01M722.2,288h.01M722.47,287.5h.01M722.74,287h.01M723.01,284h.01M723.28,285h.01M723.55,289h.01M723.82,287h.01M724.09,286.5h.01M724.36,287h.01M724.63,284h.01M724.9,281h.01M725.17,278.5h.01M725.44,281.5h.01M725.72,282h.01M725.99,281.5h.01M726.26,282.5h.01M726.53,282.5h.01M726.8,283.5h.01M727.07,283h.01M727.34,284.5h.01M727.61,284.5h.01M727.88,282h.01M728.15,284h.01M728.42,282.5h.01M728.69,284.5h.01M728.96,284h.01M729.23,283.5h.01M729.5,284h.01M729.77,281.5h.01M730.04,285h.01M730.31,282h.01M730.58,284h.01M730.85,283h.01M731.12,282.5h.01M731.39,276.5h.01M731.66,278.5h.01M731.93,276h.01M732.2,279h.01M732.47,281.5h.01M732.74,283h.01M733.01,282h.01M733.29,283h.01M733.56,284.5h.01M733.83,284.5h.01M734.1,281h.01M734.37,281.5h.01M734.64,281h.01M734.91,282h.01M735.18,284h.01M735.45,283h.01M735.72,283.5h.01M735.99,281.5h.01M736.26,284h.01M736.53,282h.01M736.8,280.5h.01M737.07,280h.01M737.34,282.5h.01M737.61,287.5h.01M737.88,288.5h.01M738.15,286.5h.01M738.42,286h.01M738.69,282h.01M738.96,281h.01M739.23,282.5h.01M739.5,284h.01M739.77,282.5h.01M740.04,283.5h.01M740.31,281h.01M740.58,278.5h.01M740.85,283h.01M741.13,281h.01M741.4,280h.01M741.67,282.5h.01M741.94,278.5h.01M742.21,279.5h.01M742.48,283.5h.01M742.75,279h.01M743.02,280.5h.01M743.29,281.5h.01M743.56,283h.01M743.83,279.5h.01M744.1,279.5h.01M744.37,291h.01M744.64,278h.01M744.91,276h.01M745.18,275h.01M745.45,277.5h.01M745.72,282h.01M745.99,279.5h.01M746.26,279.5h.01M746.53,280h.01M746.8,280.5h.01M747.07,282h.01M747.34,281.5h.01M747.61,283h.01M747.88,280h.01M748.15,279.5h.01M748.42,282h.01M748.7,281h.01M748.97,282.5h.01M749.24,279h.01M749.51,281h.01M749.78,278.5h.01M750.05,280.5h.01M750.32,279.5h.01M750.59,279h.01M750.86,279h.01M751.13,279.5h.01M751.4,280.5h.01M751.67,282.5h.01M751.94,283.5h.01M752.21,283.5h.01M752.48,281h.01M752.75,278.5h.01M753.02,278.5h.01M753.29,279h.01M753.56,277.5h.01M753.83,279.5h.01M754.1,279h.01M754.37,278h.01M754.64,281h.01M754.91,282.5h.01M755.18,284.5h.01M755.45,279.5h.01M755.72,280.5h.01M755.99,280.5h.01M756.27,278.5h.01M756.54,277h.01M756.81,277.5h.01M757.08,281h.01M757.35,279h.01M757.62,278.5h.01M757.89,277.5h.01M758.16,276h.01M758.43,276h.01M758.7,277h.01M758.97,278h.01M759.24,279h.01M759.51,283.5h.01M759.78,282h.01M760.05,283.5h.01M760.32,283h.01M760.59,282h.01M760.86,283.5h.01M761.13,281.5h.01M761.4,282h.01M761.67,280h.01M761.94,279h.01M762.21,277.5h.01M762.48,279.5h.01M762.75,280h.01M763.02,278.5h.01M763.29,279.5h.01M763.56,280h.01M763.83,279.5h.01M764.11,277.5h.01M764.38,277.5h.01M764.65,277h.01M764.92,280h.01M765.19,279h.01M765.46,280h.01M765.73,285.5h.01M766,278h.01M766.27,278h.01M766.54,278h.01M766.81,287.5h.01M767.08,280h.01M767.35,279h.01M767.62,277h.01M767.89,278h.01M768.16,276h.01M768.43,276h.01M768.7,278h.01M768.97,271.5h.01M769.24,278.5h.01M769.51,276.5h.01M769.78,275.5h.01M770.05,276.5h.01M770.32,275.5h.01M770.59,275.5h.01M770.86,277.5h.01M771.13,275h.01M771.4,276.5h.01M771.68,280h.01M771.95,278.5h.01M772.22,277.5h.01M772.49,276h.01M772.76,276.5h.01M773.03,279h.01M773.3,278.5h.01M773.57,278h.01M773.84,278h.01M774.11,280h.01M774.38,281h.01M774.65,279.5h.01M774.92,280h.01M775.19,279h.01M775.46,278h.01M775.73,274.5h.01M776,273.5h.01M776.27,278h.01M776.54,276.5h.01M776.81,279h.01M777.08,280h.01M777.35,279h.01M777.62,277h.01M777.89,280.5h.01M778.16,277h.01M778.43,275.5h.01M778.7,278h.01M778.97,273.5h.01M779.25,269.5h.01M779.52,271h.01M779.79,269.5h.01M780.06,272.5h.01M780.33,273h.01M780.6,278h.01M780.87,276h.01M781.14,277h.01M781.41,276.5h.01M781.68,274h.01M781.95,276h.01M782.22,275h.01M782.49,276.5h.01M782.76,276h.01M783.03,282h.01M783.3,276h.01M783.57,275h.01M783.84,274.5h.01M784.11,278h.01M784.38,278.5h.01M784.65,281.5h.01M784.92,280h.01M785.19,278h.01M785.46,278.5h.01M785.73,277.5h.01M786,272.5h.01M786.27,272h.01M786.54,271.5h.01M786.81,276h.01M787.09,277h.01M787.36,277.5h.01M787.63,276h.01M787.9,276h.01M788.17,276.5h.01M788.44,277.5h.01M788.71,276.5h.01M788.98,274h.01M789.25,273h.01M789.52,273.5h.01M789.79,275h.01M790.06,277h.01M790.33,278.5h.01M790.6,278.5h.01M790.87,276.5h.01M791.14,277.5h.01M791.41,277.5h.01M791.68,275h.01M791.95,274.5h.01M792.22,276.5h.01M792.49,282h.01M792.76,281h.01M793.03,282.5h.01M793.3,284.5h.01M793.57,284.5h.01M793.84,285h.01M794.11,281.5h.01M794.38,282h.01M794.66,279.5h.01M794.93,276.5h.01M795.2,277.5h.01M795.47,276.5h.01M795.74,274h.01M796.01,277.5h.01M796.28,277.5h.01M796.55,278h.01M796.82,275.5h.01M797.09,274h.01M797.36,274h.01M797.63,273.5h.01M797.9,279.5h.01M798.17,276.5h.01M798.44,273.5h.01M798.71,277h.01M798.98,274h.01M799.25,275h.01M799.52,277.5h.01M799.79,279.5h.01M800.06,281h.01M800.33,281h.01M800.6,281h.01M800.87,276.5h.01M801.14,278.5h.01M801.41,278h.01M801.68,279h.01M801.95,275.5h.01M802.23,279h.01M802.5,277.5h.01M802.77,278.5h.01M803.04,278h.01M803.31,276h.01M803.58,278.5h.01M803.85,279.5h.01M804.12,278.5h.01M804.39,274.5h.01M804.66,273h.01M804.93,272h.01M805.2,275h.01M805.47,275.5h.01M805.74,278h.01M806.01,277.5h.01M806.28,274h.01M806.55,274h.01M806.82,273.5h.01M807.09,277h.01M807.36,276h.01M807.63,278h.01M807.9,276h.01M808.17,276.5h.01M808.44,275.5h.01M808.71,277.5h.01M808.98,277h.01M809.25,273h.01M809.52,274.5h.01M809.79,270.5h.01M810.07,273h.01M810.34,277.5h.01M810.61,278h.01M810.88,275.5h.01M811.15,278h.01M811.42,276h.01M811.69,277.5h.01M811.96,279h.01M812.23,276h.01M812.5,273.5h.01M812.77,273h.01M813.04,270h.01M813.31,273.5h.01M813.58,273.5h.01M813.85,275h.01M814.12,274.5h.01M814.39,275.5h.01M814.66,277h.01M814.93,273h.01M815.2,276h.01M815.47,278.5h.01M815.74,280.5h.01M816.01,279.5h.01M816.28,279.5h.01M816.55,279h.01M816.82,277h.01M817.09,275.5h.01M817.36,274.5h.01M817.64,276.5h.01M817.91,272.5h.01M818.18,275h.01M818.45,277h.01M818.72,276h.01M818.99,275.5h.01M819.26,276.5h.01M819.53,273h.01M819.8,276.5h.01M820.07,273.5h.01M820.34,275h.01M820.61,270h.01M820.88,275h.01M821.15,272.5h.01M821.42,277.5h.01M821.69,275h.01M821.96,272.5h.01M822.23,272.5h.01M822.5,274.5h.01M822.77,276.5h.01M823.04,278h.01M823.31,276.5h.01M823.58,275.5h.01M823.85,278.5h.01M824.12,280h.01M824.39,277h.01M824.66,276.5h.01M824.93,275h.01M825.21,276.5h.01M825.48,277h.01M825.75,276h.01M826.02,275h.01M826.29,272.5h.01M826.56,270.5h.01M826.83,274h.01M827.1,275.5h.01M827.37,275.5h.01M827.64,276.5h.01M827.91,276h.01M828.18,277.5h.01M828.45,277h.01M828.72,273.5h.01M828.99,274.5h.01M829.26,276.5h.01M829.53,273h.01M829.8,273.5h.01M830.07,277h.01M830.34,277h.01M830.61,276h.01M830.88,278h.01M831.15,273.5h.01M831.42,273h.01M831.69,272h.01M831.96,275h.01M832.23,278h.01M832.5,274.5h.01M832.77,275h.01M833.05,275.5h.01M833.32,275h.01M833.59,274.5h.01M833.86,275h.01M834.13,276.5h.01M834.4,273.5h.01M834.67,277h.01M834.94,274.5h.01M835.21,277h.01M835.48,274h.01M835.75,274.5h.01M836.02,277h.01M836.29,275h.01M836.56,278h.01M836.83,274.5h.01M837.1,276.5h.01M837.37,276h.01M837.64,274.5h.01M837.91,274.5h.01M838.18,278h.01M838.45,275.5h.01M838.72,276h.01M838.99,274.5h.01M839.26,278.5h.01M839.53,279.5h.01M839.8,278h.01M840.07,275h.01M840.34,276.5h.01M840.62,278h.01M840.89,275.5h.01M841.16,278h.01M841.43,273.5h.01M841.7,278h.01M841.97,278h.01M842.24,278h.01M842.51,279h.01M842.78,278h.01M843.05,276h.01M843.32,278h.01M843.59,277h.01M843.86,278h.01M844.13,276.5h.01M844.4,275h.01M844.67,275h.01M844.94,277h.01M845.21,275.5h.01M845.48,277h.01M845.75,276.5h.01M846.02,275h.01M846.29,278h.01M846.56,278h.01M846.83,279h.01M847.1,279.5h.01M847.37,277.5h.01M847.64,279.5h.01M847.91,278h.01M848.19,275h.01M848.46,275h.01M848.73,278h.01M849,277h.01M849.27,278h.01M849.54,276h.01M849.81,275h.01M850.08,276h.01M850.35,276.5h.01M850.62,276h.01M850.89,274h.01M851.16,276h.01M851.43,274.5h.01M851.7,276h.01M851.97,278.5h.01M852.24,275h.01M852.51,277h.01M852.78,278h.01M853.05,275h.01M853.32,275h.01M853.59,278h.01M853.86,278h.01M854.13,278.5h.01M854.4,274.5h.01M854.67,275h.01M854.94,275h.01M855.21,277h.01M855.48,276.5h.01M855.75,277.5h.01M856.03,275.5h.01M856.3,269.5h.01M856.57,274h.01M856.84,276h.01M857.11,277.5h.01M857.38,274h.01M857.65,274h.01M857.92,275h.01M858.19,274.5h.01M858.46,276.5h.01M858.73,277.5h.01M859,276h.01M859.27,276h.01M859.54,274.5h.01M859.81,275.5h.01M860.08,275.5h.01M860.35,276h.01M860.62,275.5h.01M860.89,278h.01M861.16,273.5h.01M861.43,273.5h.01M861.7,277h.01M861.97,277.5h.01M862.24,274h.01M862.51,277h.01M862.78,276h.01M863.05,277h.01M863.32,275h.01M863.6,278h.01M863.87,278h.01M864.14,277h.01M864.41,273.5h.01M864.68,274h.01M864.95,275h.01M865.22,273.5h.01M865.49,273.5h.01M865.76,272.5h.01M866.03,276h.01M866.3,275h.01M866.57,277h.01M866.84,275h.01M867.11,274.5h.01M867.38,274h.01M867.65,276.5h.01M867.92,273.5h.01M868.19,275h.01M868.46,273.5h.01M868.73,271h.01M869,271.5h.01M869.27,274.5h.01M869.54,275h.01M869.81,274h.01M870.08,274h.01M870.35,271.5h.01M870.62,272.5h.01M870.89,275.5h.01M871.17,272h.01M871.44,275h.01M871.71,272.5h.01M871.98,273.5h.01M872.25,272h.01M872.52,276.5h.01M872.79,274h.01M873.06,276.5h.01M873.33,276h.01M873.6,274h.01M873.87,272.5h.01M874.14,272.5h.01M874.41,276h.01M874.68,273.5h.01M874.95,274.5h.01M875.22,275h.01M875.49,275.5h.01M875.76,275h.01M876.03,274.5h.01M876.3,272.5h.01M876.57,271.5h.01M876.84,272.5h.01M877.11,275h.01M877.38,270h.01M877.65,268h.01M877.92,270h.01M878.19,269.5h.01M878.46,271.5h.01M878.73,273h.01M879.01,276h.01M879.28,276.5h.01M879.55,274h.01M879.82,273.5h.01M880.09,277h.01M880.36,272h.01M880.63,275h.01M880.9,274h.01M881.17,272.5h.01M881.44,271.5h.01M881.71,274.5h.01M881.98,271.5h.01M882.25,273h.01M882.52,272.5h.01M882.79,273.5h.01M883.06,274h.01M883.33,273.5h.01M883.6,273h.01M883.87,275h.01M884.14,276.5h.01M884.41,275h.01M884.68,272.5h.01M884.95,272h.01M885.22,273h.01M885.49,276h.01M885.76,277.5h.01M886.03,277h.01M886.3,274h.01M886.58,272h.01M886.85,272h.01M887.12,271h.01M887.39,272.5h.01M887.66,271.5h.01M887.93,274.5h.01M888.2,274.5h.01M888.47,275.5h.01M888.74,276h.01M889.01,276h.01M889.28,272h.01M889.55,276h.01M889.82,278.5h.01M890.09,274h.01M890.36,272h.01M890.63,272h.01M890.9,269.5h.01M891.17,270.5h.01M891.44,271.5h.01M891.71,271h.01M891.98,272.5h.01M892.25,271.5h.01M892.52,271.5h.01M892.79,272.5h.01M893.06,273.5h.01M893.33,272.5h.01M893.6,273.5h.01M893.87,274.5h.01M894.15,271.5h.01M894.42,274h.01M894.69,272.5h.01M894.96,274h.01M895.23,274.5h.01M895.5,273h.01M895.77,275.5h.01M896.04,275h.01M896.31,274h.01M896.58,274.5h.01M896.85,278.5h.01M897.12,276.5h.01M897.39,272h.01M897.66,274h.01M897.93,271.5h.01M898.2,274.5h.01M898.47,271.5h.01M898.74,272h.01M899.01,275.5h.01M899.28,271h.01M899.55,268h.01M899.82,269.5h.01M900.09,267.5h.01M900.36,271.5h.01M900.63,271.5h.01M900.9,273.5h.01M901.17,274h.01M901.44,275h.01M901.71,273.5h.01M901.99,272h.01M902.26,272h.01M902.53,271.5h.01M902.8,270h.01M903.07,266.5h.01M903.34,270h.01M903.61,271h.01M903.88,273.5h.01M904.15,272.5h.01M904.42,275.5h.01M904.69,274.5h.01M904.96,271h.01M905.23,268h.01M905.5,267h.01M905.77,267.5h.01M906.04,270h.01M906.31,268h.01M906.58,272.5h.01M906.85,267.5h.01M907.12,271h.01M907.39,269h.01M907.66,271.5h.01M907.93,273.5h.01M908.2,272h.01M908.47,273h.01M908.74,271h.01M909.01,272.5h.01M909.28,273.5h.01M909.56,274h.01M909.83,273h.01M910.1,275.5h.01M910.37,276h.01M910.64,273.5h.01M910.91,271.5h.01M911.18,275h.01M911.45,272.5h.01M911.72,276h.01M911.99,274.5h.01M912.26,277.5h.01M912.53,274.5h.01M912.8,277h.01M913.07,277h.01M913.34,276.5h.01M913.61,274h.01M913.88,273.5h.01M914.15,275h.01M914.42,274.5h.01M914.69,277.5h.01M914.96,276h.01M915.23,273h.01M915.5,274h.01M915.77,272h.01M916.04,272h.01M916.31,273.5h.01M916.58,274.5h.01M916.85,274h.01M917.13,273h.01M917.4,273.5h.01M917.67,277h.01M917.94,276.5h.01M918.21,273h.01M918.48,273h.01M918.75,272h.01M919.02,274h.01M919.29,276h.01M919.56,279.5h.01M919.83,278.5h.01M920.1,276h.01M920.37,275.5h.01M920.64,274h.01M920.91,273.5h.01M921.18,274.5h.01M921.45,273.5h.01M921.72,273.5h.01M921.99,271h.01M922.26,268h.01M922.53,272h.01M922.8,274h.01M923.07,273.5h.01M923.34,274h.01M923.61,275.5h.01M923.88,271.5h.01M924.15,271.5h.01M924.42,271h.01M924.69,270h.01M924.97,273h.01M925.24,271.5h.01M925.51,274h.01M925.78,272h.01M926.05,273h.01M926.32,273.5h.01M926.59,277.5h.01M926.86,274.5h.01M927.13,274h.01M927.4,271.5h.01M927.67,272h.01M927.94,273.5h.01M928.21,272.5h.01M928.48,274.5h.01M928.75,271h.01M929.02,274h.01M929.29,274.5h.01M929.56,273.5h.01M929.83,271h.01M930.1,269.5h.01M930.37,270h.01M930.64,272.5h.01M930.91,272h.01M931.18,272.5h.01M931.45,272h.01M931.72,275h.01M931.99,280.5h.01M932.26,278.5h.01M932.54,276h.01M932.81,271.5h.01M933.08,273.5h.01M933.35,271h.01M933.62,268.5h.01M933.89,267.5h.01M934.16,270h.01M934.43,272h.01M934.7,274.5h.01M934.97,273h.01M935.24,274h.01M935.51,274h.01M935.78,274h.01M936.05,270.5h.01M936.32,270h.01M936.59,271.5h.01M936.86,269.5h.01M937.13,272h.01M937.4,274h.01M937.67,272.5h.01M937.94,270h.01M938.21,271.5h.01M938.48,272.5h.01M938.75,274.5h.01M939.02,274h.01M939.29,273.5h.01M939.56,272h.01M939.83,274h.01M940.11,273h.01M940.38,270h.01M940.65,272.5h.01M940.92,269h.01M941.19,269.5h.01M941.46,271.5h.01M941.73,269.5h.01M942,270h.01M942.27,268.5h.01M942.54,271h.01M942.81,268.5h.01M943.08,271h.01M943.35,269.5h.01M943.62,272.5h.01M943.89,272.5h.01M944.16,272h.01M944.43,272h.01M944.7,273h.01M944.97,271h.01M945.24,272h.01M945.51,271.5h.01M945.78,269h.01M946.05,270.5h.01M946.32,271h.01M946.59,271h.01M946.86,272h.01M947.13,274.5h.01M947.4,275h.01M947.67,272h.01M947.95,271.5h.01M948.22,270h.01M948.49,269h.01M948.76,268h.01M949.03,268.5h.01M949.3,271.5h.01M949.57,270.5h.01M949.84,267.5h.01M950.11,270.5h.01M950.38,266h.01M950.65,271h.01M950.92,271.5h.01M951.19,268h.01M951.46,270h.01M951.73,268h.01M952,269.5h.01M952.27,264.5h.01M952.54,263.5h.01M952.81,265.5h.01M953.08,270.5h.01M953.35,266h.01M953.62,269.5h.01M953.89,267h.01M954.16,264.5h.01M954.43,265.5h.01M954.7,264h.01M954.97,264.5h.01M955.24,264.5h.01M955.52,267h.01M955.79,271.5h.01M956.06,270.5h.01M956.33,271.5h.01M956.6,270h.01M956.87,274h.01M957.14,269.5h.01M957.41,273.5h.01M957.68,269.5h.01M957.95,270h.01M958.22,273h.01M958.49,273h.01M958.76,272.5h.01M959.03,272.5h.01M959.3,273.5h.01M959.57,268.5h.01M959.84,273h.01M960.11,273h.01M960.38,269h.01M960.65,269h.01M960.92,269.5h.01M961.19,268.5h.01M961.46,264h.01M961.73,268h.01M962,269.5h.01M962.27,269.5h.01M962.54,270h.01M962.81,266.5h.01M963.09,269h.01M963.36,264.5h.01M963.63,267h.01M963.9,265h.01M964.17,263h.01M964.44,263h.01M964.71,270h.01M964.98,269.5h.01M965.25,269h.01M965.52,266.5h.01M965.79,266.5h.01M966.06,266h.01M966.33,268.5h.01M966.6,272h.01M966.87,269h.01M967.14,271h.01M967.41,276h.01M967.68,274.5h.01M967.95,275.5h.01M968.22,276.5h.01M968.49,276h.01M968.76,272h.01M969.03,271h.01M969.3,271h.01M969.57,270.5h.01M969.84,269.5h.01M970.11,266.5h.01M970.38,267h.01M970.65,268.5h.01M970.93,269.5h.01M971.2,271h.01M971.47,269h.01M971.74,272h.01M972.01,270h.01M972.28,270h.01M972.55,267h.01M972.82,267h.01M973.09,271h.01M973.36,271h.01M973.63,271h.01M973.9,268.5h.01M974.17,271h.01M974.44,270h.01M974.71,268.5h.01M974.98,269.5h.01M975.25,266.5h.01M975.52,265.5h.01M975.79,268h.01M976.06,268h.01M976.33,268h.01M976.6,268h.01M976.87,269.5h.01M977.14,267h.01M977.41,269.5h.01M977.68,270h.01M977.95,269.5h.01M978.22,268h.01M978.5,270h.01M978.77,270.5h.01M979.04,268.5h.01M979.31,267.5h.01M979.58,265h.01M979.85,268.5h.01M980.12,263h.01M980.39,270.5h.01M980.66,268h.01M980.93,269.5h.01M981.2,269.5h.01M981.47,267h.01M981.74,269.5h.01M982.01,267.5h.01M982.28,264h.01M982.55,264.5h.01M982.82,264.5h.01M983.09,267.5h.01M983.36,269h.01M983.63,268.5h.01M983.9,266.5h.01M984.17,266h.01M984.44,267.5h.01M984.71,265.5h.01M984.98,268.5h.01M985.25,266.5h.01M985.52,267h.01M985.79,266.5h.01M986.07,267.5h.01M986.34,269.5h.01M986.61,265.5h.01M986.88,265.5h.01M987.15,266.5h.01M987.42,266.5h.01M987.69,264.5h.01M987.96,269.5h.01M988.23,270h.01M988.5,271h.01M988.77,269.5h.01M989.04,267.5h.01M989.31,267.5h.01M989.58,266.5h.01M989.85,267h.01M990.12,268.5h.01M990.39,268.5h.01M990.66,271h.01M990.93,270.5h.01M991.2,269.5h.01M991.47,265.5h.01M991.74,265h.01M992.01,262.5h.01M992.28,264.5h.01M992.55,266h.01M992.82,268.5h.01M993.09,268.5h.01M993.36,268h.01M993.63,269.5h.01M993.91,269.5h.01M994.18,268h.01M994.45,266h.01M994.72,266h.01M994.99,266h.01M995.26,265.5h.01M995.53,267.5h.01M995.8,265.5h.01M996.07,267h.01M996.34,267h.01M996.61,266.5h.01M996.88,266.5h.01M997.15,265.5h.01M997.42,267h.01M997.69,269.5h.01M997.96,267.5h.01M998.23,268.5h.01M998.5,267h.01M998.77,265h.01M999.04,266h.01M999.31,265.5h.01M999.58,267h.01M999.85,267h.01M1000.12,268.5h.01M1000.39,266.5h.01M1000.66,266.5h.01M1000.93,270h.01M1001.2,272.5h.01M1001.48,268h.01M1001.75,265h.01M1002.02,267.5h.01M1002.29,265.5h.01M1002.56,263.5h.01M1002.83,263h.01M1003.1,263.5h.01M1003.37,266.5h.01M1003.64,267h.01M1003.91,265h.01M1004.18,265.5h.01M1004.45,273h.01M1004.72,263.5h.01M1004.99,262h.01M1005.26,265h.01M1005.53,262.5h.01M1005.8,264.5h.01M1006.07,263h.01M1006.34,265h.01M1006.61,265h.01M1006.88,264.5h.01M1007.15,265.5h.01M1007.42,266.5h.01M1007.69,270h.01M1007.96,264h.01M1008.23,266.5h.01M1008.5,266.5h.01M1008.77,263.5h.01M1009.05,262.5h.01M1009.32,268h.01M1009.59,267h.01M1009.86,270h.01M1010.13,270.5h.01M1010.4,264.5h.01M1010.67,264.5h.01M1010.94,263h.01M1011.21,266h.01M1011.48,266.5h.01M1011.75,263h.01M1012.02,267h.01M1012.29,259.5h.01M1012.56,265h.01M1012.83,264h.01M1013.1,266.5h.01M1013.37,270.5h.01M1013.64,271h.01M1013.91,269.5h.01M1014.18,269.5h.01M1014.45,268h.01M1014.72,265h.01M1014.99,265h.01M1015.26,264h.01M1015.53,263h.01M1015.8,260.5h.01M1016.07,263.5h.01M1016.34,266h.01M1016.61,266h.01M1016.89,270.5h.01M1017.16,268h.01M1017.43,269.5h.01M1017.7,270h.01M1017.97,268h.01M1018.24,269.5h.01M1018.51,267.5h.01M1018.78,265.5h.01M1019.05,263.5h.01M1019.32,264h.01M1019.59,264h.01M1019.86,264h.01M1020.13,262.5h.01M1020.4,266h.01M1020.67,267.5h.01M1020.94,266h.01M1021.21,268.5h.01M1021.48,265h.01M1021.75,268.5h.01M1022.02,271h.01M1022.29,266.5h.01M1022.56,265.5h.01M1022.83,263h.01M1023.1,260.5h.01M1023.37,261.5h.01M1023.64,261.5h.01M1023.91,258h.01M1024.18,262.5h.01M1024.46,264h.01M1024.73,263.5h.01M1025,264h.01M1025.27,267h.01M1025.54,266h.01M1025.81,265h.01M1026.08,264h.01M1026.35,262h.01M1026.62,262h.01M1026.89,264.5h.01M1027.16,264.5h.01M1027.43,267h.01M1027.7,269.5h.01M1027.97,267.5h.01M1028.24,266.5h.01M1028.51,266h.01M1028.78,270h.01M1029.05,266.5h.01M1029.32,266h.01M1029.59,265.5h.01M1029.86,264h.01M1030.13,262.5h.01M1030.4,268.5h.01M1030.67,268.5h.01M1030.94,262.5h.01M1031.21,264.5h.01M1031.48,263h.01M1031.75,263h.01M1032.03,265.5h.01M1032.3,261.5h.01M1032.57,263h.01M1032.84,264h.01M1033.11,260h.01M1033.38,261h.01M1033.65,255.5h.01M1033.92,259.5h.01M1034.19,259h.01M1034.46,262.5h.01M1034.73,262h.01M1035,265.5h.01M1035.27,261.5h.01M1035.54,259.5h.01M1035.81,260h.01M1036.08,263h.01M1036.35,264.5h.01M1036.62,265h.01M1036.89,263.5h.01M1037.16,263.5h.01M1037.43,261.5h.01M1037.7,262h.01M1037.97,262h.01M1038.24,261h.01M1038.51,261.5h.01M1038.78,263.5h.01M1039.05,262.5h.01M1039.32,263h.01M1039.59,264.5h.01M1039.87,264.5h.01M1040.14,267.5h.01M1040.41,268.5h.01M1040.68,264.5h.01M1040.95,263.5h.01M1041.22,264h.01M1041.49,263h.01M1041.76,261h.01M1042.03,261h.01M1042.3,262h.01M1042.57,261.5h.01M1042.84,265.5h.01M1043.11,265h.01M1043.38,264.5h.01M1043.65,260h.01M1043.92,262h.01M1044.19,260h.01M1044.46,262h.01M1044.73,262h.01M1045,261h.01M1045.27,260h.01M1045.54,259.5h.01M1045.81,262.5h.01M1046.08,262.5h.01M1046.35,264.5h.01M1046.62,264.5h.01M1046.89,263h.01M1047.16,261.5h.01M1047.44,261h.01M1047.71,261.5h.01M1047.98,261h.01M1048.25,265h.01M1048.52,263.5h.01M1048.79,262h.01M1049.06,259.5h.01M1049.33,260.5h.01M1049.6,261h.01M1049.87,262h.01M1050.14,265h.01M1050.41,262.5h.01M1050.68,264h.01M1050.95,265h.01M1051.22,262h.01M1051.49,262h.01M1051.76,264h.01M1052.03,261h.01M1052.3,261.5h.01M1052.57,262.5h.01M1052.84,261.5h.01M1053.11,260.5h.01M1053.38,264h.01M1053.65,262.5h.01M1053.92,261h.01M1054.19,264h.01M1054.46,264h.01M1054.73,266h.01M1055.01,264.5h.01M1055.28,262h.01M1055.55,263.5h.01M1055.82,263.5h.01M1056.09,264h.01M1056.36,263.5h.01M1056.63,263.5h.01M1056.9,263.5h.01M1057.17,264h.01M1057.44,263h.01M1057.71,262h.01M1057.98,262h.01M1058.25,264.5h.01M1058.52,262.5h.01M1058.79,261.5h.01M1059.06,265.5h.01M1059.33,262.5h.01M1059.6,264.5h.01M1059.87,264h.01M1060.14,264h.01M1060.41,261h.01M1060.68,259h.01M1060.95,256.5h.01M1061.22,261.5h.01M1061.49,259.5h.01M1061.76,263.5h.01M1062.03,261.5h.01M1062.3,265h.01M1062.57,262.5h.01M1062.85,262h.01M1063.12,264.5h.01M1063.39,264.5h.01M1063.66,263.5h.01M1063.93,262h.01M1064.2,262.5h.01M1064.47,262.5h.01M1064.74,261.5h.01M1065.01,263.5h.01M1065.28,261.5h.01M1065.55,262h.01M1065.82,263h.01M1066.09,264h.01M1066.36,265h.01M1066.63,264h.01M1066.9,259.5h.01M1067.17,259.5h.01M1067.44,260h.01M1067.71,259.5h.01M1067.98,260.5h.01M1068.25,259.5h.01M1068.52,259.5h.01M1068.79,262h.01M1069.06,261h.01M1069.33,260.5h.01M1069.6,262.5h.01M1069.87,260.5h.01M1070.14,262h.01M1070.42,262.5h.01M1070.69,263.5h.01M1070.96,262.5h.01M1071.23,264.5h.01M1071.5,261.5h.01M1071.77,260.5h.01M1072.04,260.5h.01M1072.31,260.5h.01M1072.58,261.5h.01M1072.85,261.5h.01M1073.12,264.5h.01M1073.39,260h.01M1073.66,261.5h.01M1073.93,259.5h.01M1074.2,261.5h.01M1074.47,259.5h.01M1074.74,259h.01M1075.01,257h.01M1075.28,259h.01M1075.55,262h.01M1075.82,262h.01M1076.09,264.5h.01M1076.36,263.5h.01M1076.63,263.5h.01M1076.9,264h.01M1077.17,264.5h.01M1077.44,263.5h.01M1077.71,264h.01M1077.98,262.5h.01M1078.26,264.5h.01M1078.53,264h.01M1078.8,265.5h.01M1079.07,263.5h.01M1079.34,264h.01M1079.61,264.5h.01M1079.88,263h.01M1080.15,263h.01M1080.42,266.5h.01M1080.69,265h.01M1080.96,265.5h.01M1081.23,265.5h.01M1081.5,263.5h.01M1081.77,266.5h.01M1082.04,264.5h.01M1082.31,263.5h.01M1082.58,265.5h.01M1082.85,264.5h.01M1083.12,264h.01M1083.39,266h.01M1083.66,264h.01M1083.93,266h.01M1084.2,265h.01M1084.47,266.5h.01M1084.74,267.5h.01M1085.01,264h.01M1085.28,263.5h.01M1085.55,264h.01M1085.83,266h.01M1086.1,266.5h.01M1086.37,266.5h.01M1086.64,263h.01M1086.91,266h.01M1087.18,267h.01M1087.45,265.5h.01M1087.72,270.5h.01M1087.99,272h.01M1088.26,269h.01M1088.53,267h.01M1088.8,262h.01M1089.07,262h.01M1089.34,258.5h.01M1089.61,264.5h.01M1089.88,266h.01M1090.15,264h.01M1090.42,265h.01M1090.69,266.5h.01M1090.96,262.5h.01M1091.23,265.5h.01M1091.5,266h.01M1091.77,267h.01M1092.04,268h.01M1092.31,265h.01M1092.58,264h.01M1092.85,265h.01M1093.12,263.5h.01M1093.4,261.5h.01M1093.67,262.5h.01M1093.94,266.5h.01M1094.21,266.5h.01M1094.48,265.5h.01M1094.75,263.5h.01M1095.02,265.5h.01M1095.29,263.5h.01M1095.56,265h.01M1095.83,263.5h.01M1096.1,263.5h.01M1096.37,264.5h.01M1096.64,265.5h.01M1096.91,269h.01M1097.18,265.5h.01M1097.45,267.5h.01M1097.72,267.5h.01M1097.99,265.5h.01M1098.26,267.5h.01M1098.53,267.5h.01M1098.8,267.5h.01M1099.07,266.5h.01M1099.34,269.5h.01M1099.61,270h.01M1099.88,270h.01M1100.15,267h.01M1100.42,268.5h.01M1100.69,267.5h.01M1100.96,266h.01M1101.24,262.5h.01M1101.51,261.5h.01M1101.78,264h.01M1102.05,267.5h.01M1102.32,267h.01M1102.59,266.5h.01M1102.86,265.5h.01M1103.13,265h.01M1103.4,266.5h.01M1103.67,264.5h.01M1103.94,263.5h.01M1104.21,265h.01M1104.48,265.5h.01M1104.75,265.5h.01M1105.02,264.5h.01M1105.29,267h.01M1105.56,270.5h.01M1105.83,268.5h.01M1106.1,271h.01M1106.37,269h.01M1106.64,270.5h.01M1106.91,270.5h.01M1107.18,268h.01M1107.45,268h.01M1107.72,267h.01M1107.99,269.5h.01M1108.26,269.5h.01M1108.53,273.5h.01M1108.81,269.5h.01M1109.08,267h.01M1109.35,260h.01M1109.62,267h.01M1109.89,268h.01M1110.16,268h.01M1110.43,267h.01M1110.7,269.5h.01M1110.97,268h.01M1111.24,268.5h.01M1111.51,267.5h.01M1111.78,270.5h.01M1112.05,270h.01M1112.32,268.5h.01M1112.59,269h.01M1112.86,270h.01M1113.13,267.5h.01M1113.4,268h.01M1113.67,268h.01M1113.94,270.5h.01M1114.21,270.5h.01M1114.48,271.5h.01M1114.75,270.5h.01M1115.02,270h.01M1115.29,268h.01M1115.56,264h.01M1115.83,266h.01M1116.1,266.5h.01M1116.38,269.5h.01M1116.65,271.5h.01M1116.92,269.5h.01M1117.19,269h.01M1117.46,269h.01M1117.73,270.5h.01M1118,268.5h.01M1118.27,268.5h.01M1118.54,270h.01M1118.81,272.5h.01M1119.08,269.5h.01M1119.35,272.5h.01M1119.62,270.5h.01M1119.89,271h.01M1120.16,271h.01M1120.43,269h.01M1120.7,270.5h.01M1120.97,270.5h.01M1121.24,270h.01M1121.51,272h.01M1121.78,269.5h.01M1122.05,269.5h.01M1122.32,272h.01M1122.59,272.5h.01M1122.86,270h.01M1123.13,273h.01M1123.4,270.5h.01M1123.67,270h.01M1123.94,271h.01M1124.22,270.5h.01M1124.49,271.5h.01M1124.76,276h.01M1125.03,271h.01M1125.3,273h.01M1125.57,274h.01M1125.84,274h.01M1126.11,271.5h.01M1126.38,271.5h.01M1126.65,273.5h.01M1126.92,272h.01M1127.19,273.5h.01M1127.46,274.5h.01M1127.73,275h.01M1128,273.5h.01M1128.27,271.5h.01M1128.54,273h.01M1128.81,273.5h.01M1129.08,272.5h.01M1129.35,273.5h.01M1129.62,270h.01M1129.89,270.5h.01M1130.16,269.5h.01M1130.43,270.5h.01M1130.7,272.5h.01M1130.97,274.5h.01M1131.24,273h.01M1131.51,273h.01M1131.79,275h.01M1132.06,272h.01M1132.33,273.5h.01M1132.6,273h.01M1132.87,275h.01M1133.14,272.5h.01M1133.41,274.5h.01M1133.68,271h.01M1133.95,269.5h.01M1134.22,271.5h.01M1134.49,273.5h.01M1134.76,273h.01M1135.03,278.5h.01M1135.3,273h.01M1135.57,274.5h.01M1135.84,273h.01M1136.11,270h.01M1136.38,271.5h.01M1136.65,271.5h.01M1136.92,272h.01M1137.19,270.5h.01M1137.46,272.5h.01M1137.73,276.5h.01M1138,275.5h.01M1138.27,275h.01M1138.54,277h.01M1138.81,277h.01M1139.08,276h.01M1139.36,273.5h.01M1139.63,276.5h.01M1139.9,274.5h.01M1140.17,274h.01M1140.44,275.5h.01M1140.71,275.5h.01M1140.98,274.5h.01M1141.25,275h.01M1141.52,275.5h.01M1141.79,276.5h.01M1142.06,274.5h.01M1142.33,277h.01M1142.6,274.5h.01M1142.87,276h.01M1143.14,272h.01M1143.41,270.5h.01M1143.68,272.5h.01M1143.95,274h.01M1144.22,275.5h.01M1144.49,276.5h.01M1144.76,277h.01M1145.03,275h.01M1145.3,273.5h.01M1145.57,274.5h.01M1145.84,269.5h.01M1146.11,271.5h.01M1146.38,271.5h.01M1146.65,273.5h.01M1146.92,273.5h.01M1147.2,274.5h.01M1147.47,275h.01M1147.74,272.5h.01M1148.01,271h.01M1148.28,270.5h.01M1148.55,275.5h.01M1148.82,276.5h.01M1149.09,275h.01M1149.36,275h.01M1149.63,278h.01M1149.9,280.5h.01M1150.17,283h.01M1150.44,282.5h.01M1150.71,275h.01M1150.98,274.5h.01M1151.25,275h.01M1151.52,276.5h.01M1151.79,275.5h.01M1152.06,276h.01M1152.33,279h.01M1152.6,276h.01M1152.87,276.5h.01M1153.14,275h.01M1153.41,275h.01M1153.68,277h.01M1153.95,281h.01M1154.22,278.5h.01M1154.49,278h.01M1154.77,278.5h.01M1155.04,282h.01M1155.31,279h.01M1155.58,281h.01M1155.85,280h.01M1156.12,278.5h.01M1156.39,277.5h.01M1156.66,276.5h.01M1156.93,278h.01M1157.2,276.5h.01M1157.47,279.5h.01M1157.74,282h.01M1158.01,282.5h.01M1158.28,283.5h.01M1158.55,280.5h.01M1158.82,279.5h.01M1159.09,277.5h.01M1159.36,279.5h.01M1159.63,280.5h.01M1159.9,279.5h.01M1160.17,276h.01M1160.44,275h.01M1160.71,277h.01M1160.98,276.5h.01M1161.25,280h.01M1161.52,277.5h.01M1161.79,281.5h.01M1162.06,281h.01M1162.34,279h.01M1162.61,278h.01M1162.88,280h.01M1163.15,279h.01M1163.42,281.5h.01M1163.69,278.5h.01M1163.96,280h.01M1164.23,278.5h.01M1164.5,282.5h.01M1164.77,282.5h.01M1165.04,279h.01M1165.31,281h.01M1165.58,282h.01M1165.85,279h.01M1166.12,280h.01M1166.39,283.5h.01M1166.66,282.5h.01M1166.93,284h.01M1167.2,282h.01M1167.47,282.5h.01M1167.74,286.5h.01M1168.01,283.5h.01M1168.28,287h.01M1168.55,284.5h.01M1168.82,285.5h.01M1169.09,284h.01M1169.36,283.5h.01M1169.63,284h.01M1169.9,282.5h.01M1170.18,283.5h.01M1170.45,283h.01M1170.72,283.5h.01M1170.99,283.5h.01M1171.26,283h.01M1171.53,284.5h.01M1171.8,285h.01M1172.07,281.5h.01M1172.34,282.5h.01M1172.61,282.5h.01M1172.88,283h.01M1173.15,283.5h.01M1173.42,284h.01M1173.69,284h.01M1173.96,283h.01M1174.23,281.5h.01M1174.5,282h.01M1174.77,283h.01M1175.04,281.5h.01M1175.31,282.5h.01M1175.58,285h.01M1175.85,284h.01M1176.12,285.5h.01M1176.39,287.5h.01M1176.66,285h.01M1176.93,282.5h.01M1177.2,282.5h.01M1177.47,281h.01M1177.75,277h.01M1178.02,282h.01M1178.29,280h.01M1178.56,284.5h.01M1178.83,284h.01M1179.1,285.5h.01M1179.37,286h.01M1179.64,288h.01M1179.91,287.5h.01M1180.18,284h.01M1180.45,286h.01M1180.72,283.5h.01M1180.99,284.5h.01M1181.26,282.5h.01M1181.53,285h.01M1181.8,283h.01M1182.07,285.5h.01M1182.34,287h.01M1182.61,286.5h.01M1182.88,286h.01M1183.15,285.5h.01M1183.42,285.5h.01M1183.69,286h.01M1183.96,284.5h.01M1184.23,285h.01M1184.5,283h.01M1184.77,284h.01M1185.04,283.5h.01M1185.32,284h.01M1185.59,282h.01M1185.86,283h.01M1186.13,283.5h.01M1186.4,287h.01M1186.67,285h.01M1186.94,284h.01M1187.21,284h.01M1187.48,286.5h.01M1187.75,283h.01M1188.02,283.5h.01M1188.29,283h.01M1188.56,284.5h.01M1188.83,284h.01M1189.1,284.5h.01M1189.37,287.5h.01M1189.64,287h.01M1189.91,286.5h.01M1190.18,286h.01M1190.45,286h.01M1190.72,287.5h.01M1190.99,287.5h.01M1191.26,287.5h.01M1191.53,288.5h.01M1191.8,288.5h.01M1192.07,287h.01M1192.34,287.5h.01M1192.61,286.5h.01M1192.88,286h.01M1193.16,288h.01M1193.43,285h.01M1193.7,285.5h.01M1193.97,286h.01M1194.24,282.5h.01M1194.51,286.5h.01M1194.78,284.5h.01M1195.05,286.5h.01M1195.32,289.5h.01M1195.59,287.5h.01M1195.86,289.5h.01M1196.13,287.5h.01M1196.4,284.5h.01M1196.67,286.5h.01M1196.94,286.5h.01M1197.21,284h.01M1197.48,283.5h.01M1197.75,281h.01M1198.02,281h.01M1198.29,285.5h.01M1198.56,283.5h.01M1198.83,284h.01M1199.1,284h.01M1199.37,286h.01M1199.64,288h.01M1199.91,284.5h.01M1200.18,286.5h.01M1200.45,285.5h.01M1200.73,288h.01M1201,286.5h.01M1201.27,287.5h.01M1201.54,286h.01M1201.81,285.5h.01M1202.08,284h.01M1202.35,281h.01M1202.62,286.5h.01M1202.89,281h.01M1203.16,280h.01M1203.43,282h.01M1203.7,282.5h.01M1203.97,287.5h.01M1204.24,287.5h.01M1204.51,287h.01M1204.78,288.5h.01M1205.05,285.5h.01M1205.32,289.5h.01M1205.59,290h.01M1205.86,286.5h.01M1206.13,288.5h.01M1206.4,285.5h.01M1206.67,288h.01M1206.94,283.5h.01M1207.21,285.5h.01M1207.48,285h.01M1207.75,287.5h.01M1208.02,285.5h.01M1208.3,285h.01M1208.57,288.5h.01M1208.84,287h.01M1209.11,286.5h.01M1209.38,284.5h.01M1209.65,288h.01M1209.92,287h.01M1210.19,284h.01M1210.46,288.5h.01M1210.73,288h.01M1211,288h.01M1211.27,289.5h.01M1211.54,289h.01M1211.81,289h.01M1212.08,286.5h.01M1212.35,289h.01M1212.62,285h.01M1212.89,285h.01M1213.16,286.5h.01M1213.43,287.5h.01M1213.7,288.5h.01M1213.97,288.5h.01M1214.24,287.5h.01M1214.51,286.5h.01M1214.78,287h.01M1215.05,286h.01M1215.32,287.5h.01M1215.59,285h.01M1215.86,287h.01M1216.14,287h.01M1216.41,287.5h.01M1216.68,286h.01M1216.95,288h.01M1217.22,286.5h.01M1217.49,287.5h.01M1217.76,292h.01M1218.03,291h.01M1218.3,294h.01M1218.57,287h.01M1218.84,286h.01M1219.11,284.5h.01M1219.38,284.5h.01M1219.65,287.5h.01M1219.92,285.5h.01M1220.19,285h.01M1220.46,285h.01M1220.73,287h.01M1221,285h.01M1221.27,286h.01M1221.54,283.5h.01M1221.81,287.5h.01M1222.08,287h.01M1222.35,286.5h.01M1222.62,286.5h.01M1222.89,291.5h.01M1223.16,290h.01M1223.43,288.5h.01M1223.71,285.5h.01M1223.98,287h.01M1224.25,290.5h.01M1224.52,286h.01M1224.79,285h.01M1225.06,288h.01M1225.33,286h.01M1225.6,285h.01M1225.87,284.5h.01M1226.14,284.5h.01M1226.41,286.5h.01M1226.68,284.5h.01M1226.95,285.5h.01M1227.22,285h.01M1227.49,284h.01M1227.76,285.5h.01M1228.03,285.5h.01M1228.3,286h.01M1228.57,287h.01M1228.84,283.5h.01M1229.11,285h.01M1229.38,285.5h.01M1229.65,285h.01M1229.92,284h.01M1230.19,287.5h.01M1230.46,290.5h.01M1230.73,290.5h.01M1231,289.5h.01M1231.28,284.5h.01M1231.55,283.5h.01M1231.82,281.5h.01M1232.09,284.5h.01M1232.36,284h.01M1232.63,285h.01M1232.9,282.5h.01M1233.17,285.5h.01M1233.44,285.5h.01M1233.71,286h.01M1233.98,284.5h.01M1234.25,286h.01M1234.52,287h.01M1234.79,285.5h.01M1235.06,284.5h.01M1235.33,283.5h.01M1235.6,285h.01M1235.87,284h.01M1236.14,282h.01M1236.41,282.5h.01M1236.68,285.5h.01M1236.95,283.5h.01M1237.22,289h.01M1237.49,286h.01M1237.76,285.5h.01M1238.03,283h.01M1238.3,281h.01M1238.57,280.5h.01M1238.84,282.5h.01M1239.12,284.5h.01M1239.39,284h.01M1239.66,282.5h.01M1239.93,281.5h.01M1240.2,284h.01M1240.47,282h.01M1240.74,282.5h.01M1241.01,285h.01M1241.28,282h.01M1241.55,283h.01M1241.82,282.5h.01M1242.09,283h.01M1242.36,283h.01M1242.63,282h.01M1242.9,283h.01M1243.17,284.5h.01M1243.44,283.5h.01M1243.71,280.5h.01M1243.98,281h.01M1244.25,282.5h.01M1244.52,281.5h.01M1244.79,283h.01M1245.06,282.5h.01M1245.33,281h.01M1245.6,283.5h.01M1245.87,282h.01M1246.14,282.5h.01M1246.41,282.5h.01M1246.69,280h.01M1246.96,280.5h.01M1247.23,280.5h.01M1247.5,285h.01M1247.77,280h.01M1248.04,281h.01M1248.31,283.5h.01M1248.58,284h.01M1248.85,284.5h.01M1249.12,285h.01M1249.39,282h.01M1249.66,283.5h.01M1249.93,284h.01M1250.2,281h.01M1250.47,284h.01M1250.74,282h.01M1251.01,284h.01M1251.28,281.5h.01M1251.55,284h.01M1251.82,281h.01M1252.09,280.5h.01M1252.36,282.5h.01M1252.63,283h.01M1252.9,286h.01M1253.17,285.5h.01M1253.44,282.5h.01M1253.71,281.5h.01M1253.98,282h.01M1254.26,283.5h.01M1254.53,282.5h.01M1254.8,281h.01M1255.07,280.5h.01M1255.34,278.5h.01M1255.61,279h.01M1255.88,280h.01M1256.15,283.5h.01M1256.42,281h.01M1256.69,283h.01M1256.96,283h.01M1257.23,282h.01M1257.5,281h.01M1257.77,284h.01M1258.04,283h.01M1258.31,281.5h.01M1258.58,285.5h.01M1258.85,286h.01M1259.12,288.5h.01M1259.39,286.5h.01M1259.66,290h.01M1259.93,286h.01M1260.2,284h.01M1260.47,281.5h.01M1260.74,280.5h.01M1261.01,278h.01M1261.28,278.5h.01M1261.55,280.5h.01M1261.82,282h.01M1262.1,283.5h.01M1262.37,282.5h.01M1262.64,285h.01M1262.91,282.5h.01M1263.18,284h.01M1263.45,285h.01M1263.72,286h.01M1263.99,288.5h.01M1264.26,287h.01M1264.53,287.5h.01M1264.8,287.5h.01M1265.07,286h.01M1265.34,287.5h.01M1265.61,286.5h.01M1265.88,284h.01M1266.15,283h.01M1266.42,285h.01M1266.69,285.5h.01M1266.96,284h.01M1267.23,282.5h.01M1267.5,279h.01M1267.77,281h.01M1268.04,278.5h.01M1268.31,281.5h.01M1268.58,283h.01M1268.85,280h.01M1269.12,279h.01M1269.39,278.5h.01M1269.67,279h.01M1269.94,284.5h.01M1270.21,285h.01M1270.48,285h.01M1270.75,286h.01M1271.02,288.5h.01M1271.29,289h.01M1271.56,291h.01M1271.83,288h.01M1272.1,289.5h.01M1272.37,287.5h.01M1272.64,285h.01M1272.91,286.5h.01M1273.18,285.5h.01M1273.45,282.5h.01M1273.72,284h.01M1273.99,284h.01M1274.26,285.5h.01M1274.53,286.5h.01M1274.8,287.5h.01M1275.07,286h.01M1275.34,285h.01M1275.61,283.5h.01M1275.88,285h.01M1276.15,286h.01M1276.42,286h.01M1276.69,286.5h.01M1276.96,283h.01M1277.24,285.5h.01M1277.51,285.5h.01M1277.78,282h.01M1278.05,284h.01M1278.32,285h.01M1278.59,292.5h.01M1278.86,285h.01M1279.13,285h.01M1279.4,281h.01M1279.67,284.5h.01M1279.94,286h.01M1280.21,285h.01M1280.48,283.5h.01M1280.75,283h.01M1281.02,283.5h.01M1281.29,286h.01M1281.56,286.5h.01M1281.83,285h.01M1282.1,283.5h.01M1282.37,284.5h.01M1282.64,287h.01M1282.91,286.5h.01M1283.18,286h.01M1283.45,287h.01M1283.72,284.5h.01M1283.99,289h.01M1284.26,287h.01M1284.53,285.5h.01M1284.8,285h.01M1285.08,283.5h.01M1285.35,284h.01M1285.62,284.5h.01M1285.89,287h.01M1286.16,285.5h.01M1286.43,287.5h.01M1286.7,286h.01M1286.97,284.5h.01M1287.24,285.5h.01M1287.51,284.5h.01M1287.78,283h.01M1288.05,281.5h.01M1288.32,282.5h.01M1288.59,283.5h.01M1288.86,282.5h.01M1289.13,283.5h.01M1289.4,283.5h.01M1289.67,282h.01M1289.94,282h.01M1290.21,284.5h.01M1290.48,286h.01M1290.75,285.5h.01M1291.02,285.5h.01M1291.29,287.5h.01M1291.56,286h.01M1291.83,285.5h.01M1292.1,285.5h.01M1292.37,284.5h.01M1292.65,286h.01M1292.92,287h.01M1293.19,288h.01M1293.46,286.5h.01M1293.73,287.5h.01M1294,288h.01M1294.27,282.5h.01M1294.54,285.5h.01M1294.81,286.5h.01M1295.08,286h.01M1295.35,288h.01M1295.62,291h.01M1295.89,291h.01M1296.16,292h.01M1296.43,288h.01M1296.7,287.5h.01M1296.97,288.5h.01M1297.24,287.5h.01M1297.51,288h.01M1297.78,286h.01M1298.05,288.5h.01M1298.32,287h.01M1298.59,288h.01M1298.86,288h.01M1299.13,286.5h.01M1299.4,286.5h.01M1299.67,286.5h.01M1299.94,289h.01M1300.22,287.5h.01M1300.49,288.5h.01M1300.76,289h.01M1301.03,288.5h.01M1301.3,287h.01M1301.57,290.5h.01M1301.84,291h.01M1302.11,294h.01M1302.38,294h.01M1302.65,292.5h.01M1302.92,291.5h.01M1303.19,289h.01M1303.46,290h.01M1303.73,290.5h.01M1304,290.5h.01" fill="none" stroke="#0000ff" stroke-width="3.8" stroke-linecap="round"/>
<path d="M325.25,532.35L325.52,523.65L325.79,503.95L326.06,487.57L326.33,485.83L326.6,497.19L326.87,515.34L327.14,520.45L327.41,518.39L327.68,505.64L327.95,504.59L328.22,514.24L328.49,517.51L328.76,507.94L329.03,483.36L329.3,470L329.57,477.5L329.84,504.28L330.11,529.75L330.38,531.4L330.65,512.63L330.92,499.9L331.19,510.33L331.46,525.62L331.73,532.58L332,513.15L332.27,487.55L332.54,473.65L332.81,488.87L333.08,516.72L333.35,528.06L333.62,509L333.89,487.71L334.16,487.45L334.43,503.32L334.7,518.92L334.97,520.34L335.24,510.35L335.51,505.73L335.78,503.44L336.05,507.96L336.32,517.05L336.59,512.58L336.86,510.67L337.13,504.27L337.4,495.42L337.67,485.47L337.94,494.27L338.21,519.77L338.48,534.1L338.75,530.79L339.02,507.05L339.29,487.81L339.56,484.98L339.83,497.97L340.1,514.28L340.37,521.5L340.64,510.33L340.91,496.43L341.18,488.1L341.45,499.11L341.72,520.86L341.99,536.53L342.26,529.17L342.53,510.42L342.8,497.75L343.07,498.17L343.34,508.82L343.61,504.56L343.88,492.71L344.15,479.76L344.42,478.03L344.69,493.61L344.96,519.25L345.23,533.19L345.5,538.63L345.77,531.49L346.04,521.12L346.31,507.59L346.58,500.3L346.85,498.06L347.12,491.02L347.39,481.41L347.66,480.18L347.93,493.31L348.2,510.13L348.47,523.77L348.74,526.02L349.01,521.44L349.28,517.74L349.55,517.03L349.82,512.18L350.09,504.73L350.36,489.8L350.63,487.28L350.9,491.06L351.17,500.1L351.44,506.47L351.71,511.78L351.98,518.37L352.25,528L352.52,534.28L352.79,529.77L353.06,512.88L353.33,502.34L353.6,497.76L353.87,494.78L354.14,491.96L354.41,485.89L354.68,484.68L354.95,497.68L355.22,526.48L355.49,537.34L355.76,533.78L356.03,516.49L356.3,503.41L356.57,500.33L356.84,500.8L357.11,504.88L357.38,499.77L357.65,487.95L357.92,484.79L358.19,492.24L358.46,512.2L358.73,491.25L359,502.14L359.27,532.64L359.54,550.06L359.81,532.64L360.08,502.14L360.35,491.25L360.62,467.54L360.89,468.14L361.16,484.07L361.43,494.84L361.7,508.2L361.97,527.33L362.24,536.63L362.51,545.42L362.78,544.14L363.05,527.98L363.32,502.73L363.59,476.74L363.86,467.3L364.13,467.28L364.4,482.01L364.67,494.96L364.94,510.42L365.21,521.65L365.48,527.74L365.75,530.04L366.02,531.99L366.29,521.73L366.56,513.28L366.83,506.46L367.1,500.04L367.37,483.72L367.64,475.48L367.91,482.74L368.18,504.32L368.45,523.03L368.72,526.22L368.99,520.33L369.26,514.53L369.53,520.76L369.8,530.45L370.07,529.16L370.34,513.51L370.61,492.58L370.88,477.84L371.15,473.01L371.42,472.77L371.69,490.64L371.96,521L372.23,533.45L372.5,540.03L372.77,526.08L373.04,510.07L373.31,507.03L373.58,507.66L373.85,506.63L374.12,491.53L374.39,468.39L374.66,470.24L374.93,499.11L375.2,530.02L375.47,532.01L375.74,513.44L376.01,492.68L376.28,494.5L376.55,516.61L376.82,529.4L377.09,532.96L377.36,506.92L377.63,484.77L377.9,492.77L378.17,504.91L378.44,509.75L378.71,491.12L378.98,478.32L379.25,491.12L379.52,513.1L379.79,534.39L380.06,537.81L380.33,530.35L380.6,517.24L380.87,510.08L381.14,494.13L381.41,484.93L381.68,481.12L381.95,491.95L382.22,498.45L382.49,497.07L382.76,498.97L383.03,511.65L383.3,527.26L383.57,530.72L383.84,517.49L384.11,497.61L384.38,484.99L384.65,487.72L384.92,505.72L385.19,518.06L385.46,523.17L385.73,514.92L386,495.84L386.27,491.71L386.54,503.48L386.81,509.21L387.08,508.36L387.35,498.63L387.62,493.8L387.89,503.7L388.16,522.69L388.43,536.08L388.7,529.95L388.97,503.13L389.24,476.33L389.51,476.61L389.78,499.94L390.05,519.13L390.32,519.97L390.59,504.74L390.86,495.99L391.13,504.33L391.4,516.4L391.67,515.75L391.94,498.28L392.21,494.22L392.48,505.17L392.75,519.31L393.02,525.48L393.29,519.57L393.56,506.86L393.83,501.77L394.1,508.17L394.37,513.07L394.64,510.66L394.91,502.89L395.18,497.72L395.45,498.29L395.72,497.91L395.99,504.89L396.26,505.88L396.53,507.54L396.8,509.1L397.07,508.85L397.34,516.24L397.61,515.11L397.88,502.41L398.15,489.66L398.42,492.61L398.69,508.57L398.96,529.08L399.23,534.41L399.5,525.3L399.77,506.53L400.04,493.15L400.31,495.42L400.58,496.47L400.85,493.18L401.12,502.46L401.39,505.16L401.66,504.21L401.93,504.94L402.2,507.9L402.47,516.88L402.74,521.94L403.01,519.63L403.28,510.4L403.55,502.53L403.82,502.51L404.09,519.37L404.36,520.58L404.63,503.34L404.9,484.71L405.17,474.02L405.44,487.94L405.71,501.15L405.98,507.85L406.25,511.03L406.52,505.12L406.79,504.35L407.06,514.57L407.33,527.79L407.6,529.85L407.87,520.57L408.14,493.29L408.41,480.51L408.68,486.06L408.95,501.71L409.22,510.51L409.49,508.38L409.76,502.16L410.03,511.71L410.3,525.36L410.57,528.62L410.84,515.09L411.11,488.8L411.38,474.82L411.65,488.28L411.92,508.76L412.19,528.24L412.46,526.24L412.73,515.79L413,509.54L413.27,512.31L413.54,512.32L413.81,504.29L414.08,495.61L414.35,494.43L414.62,500.01L414.89,504.37L415.16,495.25L415.43,479.08L415.7,485.38L415.97,509.43L416.24,526.33L416.51,530.3L416.78,518.63L417.05,509.56L417.32,504.16L417.59,503.6L417.86,499.16L418.13,487.54L418.4,487.84L418.67,497.44L418.94,510.01L419.21,520.61L419.48,513.66L419.75,511.27L420.02,515.37L420.29,516.35L420.56,513.77L420.83,501.13L421.1,485.72L421.37,486.84L421.64,505.8L421.91,519.8L422.18,515.8L422.45,497.38L422.72,492.71L422.99,511.83L423.26,536.61L423.53,543.4L423.8,518.8L424.07,486.29L424.34,469.25L424.61,476.74L424.88,493.93L425.15,504.92L425.42,507.29L425.69,511.71L425.96,521.79L426.23,529.66L426.5,528.62L426.77,489.87L427.04,501.75L427.31,535.01L427.58,554.02L427.85,535.01L428.12,501.75L428.39,489.87L428.66,488.21L428.93,501.58L429.2,516.62L429.47,524.97L429.74,521.21L430.01,514.01L430.28,512.54L430.55,506.95L430.82,499.64L431.09,499.64L431.36,508L431.63,519.34L431.9,521.73L432.17,511.52L432.44,498.52L432.71,495.95L432.98,499.66L433.25,507.8L433.52,498.15L433.79,480.93L434.06,485.12L434.33,498.18L434.6,515.93L434.87,529.95L435.14,534.41L435.41,531.54L435.68,528.54L435.95,514.41L436.22,498.97L436.49,489.66L436.76,489.01L437.03,492.82L437.3,487.08L437.57,485.64L437.84,494.94L438.11,515.86L438.38,532.43L438.65,533.8L438.92,523.67L439.19,509.8L439.46,503.15L439.73,510.22L440,509.81L440.27,502.36L440.54,498.04L440.81,501.84L441.08,506.87L441.35,512.6L441.62,509.83L441.89,498.67L442.16,500.73L442.43,500.18L442.7,502.18L442.97,495.58L443.24,487.83L443.51,494.82L443.78,513.25L444.05,521.22L444.32,520.9L444.59,508.28L444.86,508.4L445.13,525.82L445.4,535.33L445.67,526.08L445.94,496.28L446.21,472.05L446.48,472.73L446.75,492.01L447.02,506.39L447.29,510.83L447.56,500.34L447.83,503.91L448.1,524.23L448.37,538.16L448.64,529L448.91,500.17L449.18,485.72L449.45,484.83L449.72,509.51L449.99,526.87L450.26,526.39L450.53,512.84L450.8,499.49L451.07,501.11L451.34,511.78L451.61,515.34L451.88,514.59L452.15,499.61L452.42,490.8L452.69,491.79L452.96,499.55L453.23,508.95L453.5,505.48L453.77,503.99L454.04,503.93L454.31,508.91L454.58,513.66L454.85,522.73L455.12,524.5L455.39,518.79L455.66,510.66L455.93,494.51L456.2,485.39L456.47,479.43L456.74,485.29L457.01,499.08L457.28,505.63L457.55,501.71L457.82,504.07L458.09,506.72L458.36,520.95L458.63,528.98L458.9,514.32L459.17,497.14L459.44,495.16L459.71,512.27L459.98,530.82L460.25,524.3L460.52,504.1L460.79,488.45L461.06,487.38L461.33,497.22L461.6,507.72L461.87,502.37L462.14,493.35L462.41,494.53L462.68,508.69L462.95,531.2L463.22,527.48L463.49,514.73L463.76,502.74L464.03,496.56L464.3,498.5L464.57,499.75L464.84,500.71L465.11,504.37L465.38,506.92L465.65,511.81L465.92,510.27L466.19,512.62L466.46,514.91L466.73,508.54L467,495.55L467.27,489.27L467.54,486.27L467.81,495.78L468.08,513.41L468.35,515.94L468.62,512.24L468.89,508.17L469.16,511.75L469.43,517.83L469.7,520.32L469.97,515.03L470.24,512.26L470.51,505.64L470.78,505.12L471.05,492.88L471.32,489.5L471.59,489.84L471.86,500.14L472.13,507.22L472.4,507.45L472.67,509.31L472.94,515.51L473.21,537.57L473.48,543.62L473.75,534.34L474.02,497.59L474.29,472.38L474.56,468.48L474.83,483.45L475.1,504.96L475.37,518.94L475.64,517.26L475.91,517.6L476.18,517.53L476.45,531.46L476.72,535.62L476.99,519.52L477.26,494.34L477.53,468.81L477.8,468.66L478.07,483.86L478.34,499.34L478.61,513.66L478.88,520.86L479.15,518.4L479.42,525.86L479.69,525.28L479.96,522.9L480.23,520.5L480.5,506.27L480.77,483.4L481.04,475.52L481.31,485.74L481.58,506.03L481.85,523.8L482.12,516.51L482.39,502.87L482.66,495.18L482.93,499.43L483.2,522.7L483.47,527.68L483.74,519.6L484.01,505.05L484.28,489.26L484.55,486.05L484.82,487.27L485.09,489.68L485.36,503.64L485.63,514.34L485.9,518.44L486.17,520.37L486.44,521.12L486.71,528.14L486.98,528.84L487.25,516.52L487.52,491.45L487.79,467.42L488.06,474.22L488.33,495.56L488.6,506.1L488.87,513.89L489.14,505.35L489.41,511.4L489.68,524.2L489.95,527.07L490.22,518.68L490.49,504.26L490.76,490.72L491.03,489.65L491.3,491.86L491.57,498.75L491.84,506.76L492.11,510.35L492.38,517.53L492.65,520.6L492.92,514.53L493.19,514.22L493.46,508.75L493.73,503.1L494,498.83L494.27,491.03L494.54,491.56L494.81,498.36L495.08,511.64L495.35,527.56L495.62,528.75L495.89,507.8L496.16,506.49L496.43,516.36L496.7,526.34L496.97,524.69L497.24,497.03L497.51,470.48L497.78,467.79L498.05,482.68L498.32,509.17L498.59,530.61L498.86,521.89L499.13,515.02L499.4,511.24L499.67,509.32L499.94,507.92L500.21,501.87L500.48,497.15L500.75,495.55L501.02,489.58L501.29,489.91L501.56,497.97L501.83,519.97L502.1,538.93L502.37,536.5L502.64,514.36L502.91,492.78L503.18,483.04L503.45,493.82L503.72,508.14L503.99,502.62L504.26,488.04L504.53,476L504.8,492.67L505.07,531.68L505.34,541.88L505.61,544.45L505.88,511.86L506.15,487.89L506.42,494.22L506.69,505.28L506.96,504.78L507.23,493.25L507.5,483.28L507.77,481.77L508.04,497.12L508.31,514.09L508.58,515.4L508.85,505.31L509.12,501.21L509.39,515.45L509.66,534.73L509.93,537.47L510.2,524.27L510.47,504.29L510.74,490.66L511.01,491.22L511.28,490.73L511.55,486.04L511.82,489.03L512.09,507.48L512.36,525.96L512.63,533.26L512.9,517.43L513.17,504.89L513.44,497.72L513.71,507.98L513.98,522.03L514.25,524.96L514.52,509.4L514.79,500.28L515.06,508.61L515.33,522.29L515.6,519.75L515.87,492.45L516.14,476.08L516.41,472.38L516.68,491.36L516.95,508.7L517.22,508.39L517.49,507.96L517.76,512.21L518.03,533.05L518.3,548.14L518.57,539.54L518.84,519.98L519.11,497.71L519.38,482.47L519.65,479.06L519.92,471.7L520.19,469.64L520.46,479L520.73,518.63L521,550.11L521.27,553.14L521.54,522.91L521.81,488.16L522.08,484.98L522.35,512.38L522.62,539.52L522.89,525.01L523.16,484.76L523.43,454.04L523.7,471.96L523.97,529.33L524.24,557.51L524.51,533.06L524.78,488.77L525.05,457.49L525.32,474.76L525.59,521.41L525.86,542.73L526.13,523.69L526.4,497.19L526.67,530.06L526.94,513.23L527.21,466.11L527.48,439.18L527.75,466.11L528.02,513.23L528.29,530.06L528.56,498.39L528.83,503.68L529.1,502.73L529.37,505.43L529.64,501.31L529.91,493.37L530.18,488.77L530.45,488.09L530.72,500.23L530.99,515.64L531.26,531.09L531.53,538.94L531.8,523.09L532.07,504.06L532.34,513.22L532.61,506.13L532.88,500.64L533.15,483.73L533.42,484.33L533.69,510.16L533.96,529.22L534.23,521.89L534.5,512.26L534.77,500.24L535.04,499.61L535.31,505.18L535.58,509.42L535.85,522.58L536.12,508.58L536.39,485.94L536.66,484.48L536.93,498.22L537.2,518.66L537.47,515.02L537.74,503.24L538.01,492.79L538.28,509.73L538.55,529.69L538.82,537.32L539.09,528.46L539.36,494.15L539.63,466.66L539.9,466.22L540.17,486.97L540.44,511.72L540.71,485.02L540.98,500.36L541.25,543.33L541.52,567.88L541.79,543.33L542.06,500.36L542.33,485.02L542.6,502.01L542.87,487.11L543.14,485.38L543.41,502.18L543.68,519.64L543.95,534.2L544.22,521.59L544.49,491.35L544.76,475.11L545.03,479.3L545.3,508.83L545.57,539.91L545.84,547.72L546.11,539.85L546.38,509.94L546.65,477.87L546.92,475.96L547.19,490.68L547.46,508.95L547.73,507.06L548,486.22L548.27,473.21L548.54,502.97L548.81,535.06L549.08,544.07L549.35,523.03L549.62,492.94L549.89,481.98L550.16,498.98L550.43,522.31L550.7,528.37L550.97,509.17L551.24,497.01L551.51,498.63L551.78,512.43L552.05,521.07L552.32,516.76L552.59,504.48L552.86,494.12L553.13,493.38L553.4,504.31L553.67,522.17L553.94,527.53L554.21,522.1L554.48,509.58L554.75,504.5L555.02,503.73L555.29,502.87L555.56,493.22L555.83,483.21L556.1,482.78L556.37,502.5L556.64,532L556.91,540.57L557.18,518.73L557.45,488.41L557.72,477.23L557.99,493.97L558.26,522.22L558.53,535.93L558.8,527.25L559.07,503.89L559.34,488.18L559.61,490.03L559.88,503.33L560.15,508.62L560.42,503.33L560.69,497.86L560.96,494.16L561.23,506.74L561.5,518.46L561.77,523.89L562.04,519.91L562.31,506.87L562.58,493.34L562.85,489.34L563.12,490.82L563.39,499.75L563.66,518.05L563.93,525.91L564.2,522.59L564.47,509.2L564.74,502.37L565.01,503.86L565.28,513.74L565.55,519.42L565.82,508.32L566.09,490.82L566.36,485.19L566.63,491.7L566.9,507.51L567.17,513.94L567.44,516.25L567.71,513.82L567.98,514.3L568.25,509.38L568.52,500.26L568.79,493.97L569.06,493.36L569.33,504.86L569.6,515.67L569.87,516.78L570.14,517.03L570.41,505.31L570.68,497.36L570.95,499.4L571.22,506.3L571.49,513.65L571.76,516.01L572.03,502.51L572.3,490.42L572.57,495.54L572.84,506.82L573.11,520.32L573.38,513.03L573.65,499.44L573.92,497.11L574.19,507.7L574.46,525.31L574.73,527L575,514.49L575.27,495.51L575.54,487.11L575.81,494.17L576.08,516.1L576.35,523.78L576.62,515.43L576.89,493.24L577.16,474.92L577.43,478.43L577.7,494.89L577.97,507.53L578.24,511.06L578.51,508.39L578.78,512.87L579.05,525.34L579.32,533.91L579.59,529.56L579.86,520.21L580.13,514.08L580.4,498.89L580.67,484.21L580.94,466.86L581.21,466.58L581.48,476.48L581.75,508.84L582.02,535.57L582.29,539.55L582.56,512.51L582.83,495.39L583.1,499.3L583.37,521.68L583.64,538.28L583.91,534.69L584.18,508.95L584.45,490.34L584.72,488.63L584.99,499.04L585.26,513.06L585.53,503.99L585.8,486.16L586.07,476.04L586.34,486.28L586.61,505.88L586.88,524.92L587.15,527.18L587.42,523.29L587.69,518.56L587.96,510.75L588.23,497.11L588.5,482.53L588.77,486.88L589.04,507.12L589.31,527.62L589.58,526.26L589.85,493.12L590.12,471.56L590.39,481.76L590.66,517.09L590.93,538.23L591.2,519.45L591.47,492.2L591.74,479.14L592.01,502.76L592.28,529.75L592.55,546.61L592.82,527.73L593.09,492.04L593.36,473.35L593.63,478.46L593.9,487.31L594.17,495.89L594.44,505.57L594.71,512.24L594.98,523.43L595.25,530.39L595.52,532.85L595.79,521.63L596.06,518.2L596.33,514.94L596.6,512.03L596.87,501.6L597.14,492.96L597.41,494.87L597.68,508.29L597.95,520.25L598.22,513.95L598.49,499.3L598.76,490.3L599.03,496.56L599.3,513.81L599.57,521.91L599.84,513.57L600.11,505.37L600.38,500.48L600.65,502.42L600.92,494.69L601.19,493.27L601.46,498.59L601.73,515.84L602,521.7L602.27,520.02L602.54,509.71L602.81,507.8L603.08,507.68L603.35,516.29L603.62,512.4L603.89,502.41L604.16,491.36L604.43,488.11L604.7,496.95L604.97,507.21L605.24,507.15L605.51,503.23L605.78,499.56L606.05,505.71L606.32,517.26L606.59,528.51L606.86,522.14L607.13,511.76L607.4,503.44L607.67,503.58L607.94,517.04L608.21,519.32L608.48,518.85L608.75,509.98L609.02,500.43L609.29,496.89L609.56,497.87L609.83,506.06L610.1,502.86L610.37,495.43L610.64,488.77L610.91,492.9L611.18,510.82L611.45,525.36L611.72,534.17L611.99,531.35L612.26,520.48L612.53,504.62L612.8,506.03L613.07,503.31L613.34,497.35L613.61,489.09L613.88,482.45L614.15,484.71L614.42,494.36L614.69,508.75L614.96,516.04L615.23,518.99L615.5,525.16L615.77,522.03L616.04,515.57L616.31,507.39L616.58,501.26L616.85,502.64L617.12,510.1L617.39,507.59L617.66,506.64L617.93,510.54L618.2,505.66L618.47,503.61L618.74,497.23L619.01,498.69L619.28,504.28L619.55,508.2L619.82,510.82L620.09,509.35L620.36,507.7L620.63,512.94L620.9,523.16L621.17,518.82L621.44,505.51L621.71,495.55L621.98,489.37L622.25,502.07L622.52,519.22L622.79,521.1L623.06,506.43L623.33,493.16L623.6,494.32L623.87,503.01L624.14,511.94L624.41,514.15L624.68,508.23L624.95,498.23L625.22,493.69L625.49,498.6L625.76,514.44L626.03,523.49L626.3,520.85L626.57,510.87L626.84,502.1L627.11,503.24L627.38,509.71L627.65,509.91L627.92,504.27L628.19,498.48L628.46,498.61L628.73,500.92L629,505.01L629.27,510.68L629.54,512.53L629.81,507.58L630.08,504.88L630.35,504.14L630.62,517.83L630.89,527.66L631.16,526.73L631.43,511.56L631.7,485.44L631.97,473.69L632.24,478.84L632.51,497.99L632.78,511.87L633.05,514L633.32,512.23L633.59,518.41L633.86,528.97L634.13,525.37L634.4,508.09L634.67,486.95L634.94,489.16L635.21,504.12L635.48,519.34L635.75,516.46L636.02,504.62L636.29,495.3L636.56,499.23L636.83,509.47L637.1,512.97L637.37,512.7L637.64,505.88L637.91,499.8L638.18,505.76L638.45,510.78L638.72,517.75L638.99,513.38L639.26,507.74L639.53,496.85L639.8,495.35L640.07,493.2L640.34,501.99L640.61,509.97L640.88,515.55L641.15,515.71L641.42,502.7L641.69,484.53L641.96,483.19L642.23,491.95L642.5,512.22L642.77,523.13L643.04,507.81L643.31,494.34L643.58,500.53L643.85,517.14L644.12,532.92L644.39,524.03L644.66,496.05L644.93,474.06L645.2,473.66L645.47,488.08L645.74,507L646.01,522.53L646.28,518.17L646.55,507.85L646.82,503.77L647.09,506.92L647.36,517.96L647.63,521.09L647.9,519.06L648.17,504.39L648.44,490.98L648.71,485.64L648.98,493.16L649.25,506.77L649.52,508.88L649.79,505.63L650.06,495.16L650.33,494.56L650.6,506.27L650.87,520.2L651.14,487.79L651.41,501.15L651.68,538.58L651.95,559.96L652.22,538.58L652.49,501.15L652.76,487.79L653.03,506.75L653.3,494.27L653.57,492.72L653.84,503.91L654.11,516.91L654.38,510.41L654.65,500.94L654.92,491.27L655.19,505.11L655.46,520.65L655.73,531.21L656,523.91L656.27,506.15L656.54,503.28L656.81,504.29L657.08,506.99L657.35,500.75L657.62,480.84L657.89,473.99L658.16,482.76L658.43,504.54L658.7,531.01L658.97,540.06L659.24,536.72L659.51,526.95L659.78,511.68L660.05,500.66L660.32,494.94L660.59,491.49L660.86,483.87L661.13,476.15L661.4,477.27L661.67,490.42L661.94,514.74L662.21,539.46L662.48,537.59L662.75,533.29L663.02,512.61L663.29,502.75L663.56,501.76L663.83,508.37L664.1,506.97L664.37,496.88L664.64,485.19L664.91,480.83L665.18,483.06L665.45,503.34L665.72,520.28L665.99,527.32L666.26,527.64L666.53,516.57L666.8,514.2L667.07,513.87L667.34,508.94L667.61,500.29L667.88,483.93L668.15,484.87L668.42,489.67L668.69,503.57L668.96,518.91L669.23,527.06L669.5,528.32L669.77,521.33L670.04,506.66L670.31,494.09L670.58,491.02L670.85,498.8L671.12,507.11L671.39,505.69L671.66,492.82L671.93,485.27L672.2,491.89L672.47,512.67L672.74,533.07L673.01,530.88L673.28,513.45L673.55,502.93L673.82,504.6L674.09,510.27L674.36,509.26L674.63,499.72L674.9,489.6L675.17,486.04L675.44,496.22L675.71,514.39L675.98,527.45L676.25,525.92L676.52,521.77L676.79,515.45L677.06,513.31L677.33,502.13L677.6,486.19L677.87,480.05L678.14,490.78L678.41,502.89L678.68,513.75L678.95,512.49L679.22,500.96L679.49,501.79L679.76,519.17L680.03,528.76L680.3,526.33L680.57,519.12L680.84,509.95L681.11,512.35L681.38,508.92L681.65,494.31L681.92,476.65L682.19,458.15L682.46,461.79L682.73,497.46L683,531.75L683.27,531.85L683.54,516.39L683.81,518.51L684.08,531.26L684.35,531.96L684.62,521.23L684.89,494.71L685.16,487.33L685.43,484.88L685.7,487.42L685.97,491.64L686.24,500.66L686.51,517.77L686.78,525.86L687.05,524.65L687.32,487.1L687.59,500.96L687.86,539.76L688.13,561.94L688.4,539.76L688.67,500.96L688.94,487.1L689.21,480.39L689.48,500.66L689.75,527.8L690.02,538.41L690.29,538.26L690.56,522.23L690.83,513.76L691.1,516.9L691.37,513.83L691.64,497.74L691.91,484.28L692.18,470.04L692.45,462.82L692.72,479.52L692.99,494.16L693.26,517.17L693.53,535.82L693.8,548.97L694.07,540.57L694.34,525.13L694.61,503.61L694.88,494.34L695.15,494.86L695.42,501.76L695.69,506.37L695.96,492.32L696.23,523.83L696.5,511.45L696.77,476.8L697.04,457L697.31,476.8L697.58,511.45L697.85,523.83L698.12,473.07L698.39,478.58L698.66,511.61L698.93,528.36L699.2,518.21L699.47,492.03L699.74,484.19L700.01,506.58L700.28,535.96L700.55,549.73L700.82,532.73L701.09,507.65L701.36,496.82L701.63,490.04L701.9,495.31L702.17,490.11L702.44,480.81L702.71,481.95L702.98,489.08L703.25,500.69L703.52,508.39L703.79,519.42L704.06,528.45L704.33,531.31L704.6,524.04L704.87,510.03L705.14,499.63L705.41,489.05L705.68,479.59L705.95,478.02L706.22,482.38L706.49,501.94L706.76,527.59L707.03,535.45L707.3,525.78L707.57,510.05L707.84,502.28L708.11,505.91L708.38,506.76L708.65,502.38L708.92,496.29L709.19,497.41L709.46,498.52L709.73,501.73L710,502.7L710.27,505.38L710.54,513.99L710.81,524.83L711.08,530.57L711.35,529.65L711.62,510.59L711.89,493.41L712.16,486.02L712.43,485.39L712.7,489.87L712.97,496.1L713.24,500.99L713.51,505.28L713.78,513.3L714.05,515.38L714.32,521.51L714.59,518.89L714.86,521.55L715.13,514.45L715.4,506.6L715.67,494.74L715.94,487.32L716.21,488.18L716.48,498.51L716.75,510.6L717.02,519.34L717.29,525.93L717.56,520.75L717.83,514.72L718.1,510.09L718.37,503.28L718.64,492.87L718.91,480.83L719.18,480.59L719.45,496.35L719.72,515.26L719.99,526.97L720.26,537.59L720.53,537.69L720.8,531.83L721.07,508.4L721.34,486.22L721.61,470.59L721.88,476.47L722.15,490.92L722.42,506.08L722.69,507.9L722.96,519.49L723.23,524.77L723.5,529.13L723.77,528.1L724.04,523.57L724.31,517.11L724.58,509.76L724.85,495.83L725.12,477.64L725.39,473.06L725.66,481.61L725.93,495.76L726.2,503.92L726.47,502.57L726.74,511.05L727.01,525.1L727.28,537.45L727.55,538.59L727.82,527.75L728.09,511.52L728.36,501.76L728.63,497.13L728.9,489.68L729.17,478.87L729.44,476.11L729.71,492.68L729.98,517.43L730.25,532.41L730.52,528.65L730.79,514.37L731.06,511.85L731.33,519.48L731.6,514.55L731.87,503.35L732.14,486.86L732.41,478.75L732.68,490.93L732.95,511.16L733.22,523.43L733.49,526.53L733.76,521.28L734.03,520.07L734.3,513.34L734.57,500.44L734.84,490.49L735.11,491.01L735.38,498L735.65,507.07L735.92,505.29L736.19,492L736.46,493.99L736.73,507.95L737,529.86L737.27,539.75L737.54,536.03L737.81,518.64L738.08,510.01L738.35,505.53L738.62,501.63L738.89,499.59L739.16,493.02L739.43,485.97L739.7,481.21L739.97,484.91L740.24,504.76L740.51,529.21L740.78,534.97L741.05,530.81L741.32,517.7L741.59,511.67L741.86,514.78L742.13,520.1L742.4,515.55L742.67,504.51L742.94,493.1L743.21,484.13L743.48,479.54L743.75,483.45L744.02,496.48L744.29,507.6L744.56,514.9L744.83,520.16L745.1,513.5L745.37,508.05L745.64,509.97L745.91,522.47L746.18,529.57L746.45,518.33L746.72,496.79L746.99,481.24L747.26,482.46L747.53,500.93L747.8,518.07L748.07,519.41L748.34,506.56L748.61,500.83L748.88,503.67L749.15,506.26L749.42,510.02L749.69,508.53L749.96,503.5L750.23,503.8L750.5,502.78L750.77,502.52L751.04,504.59L751.31,511.39L751.58,519.2L751.85,513.27L752.12,498.63L752.39,488.43L752.66,501.95L752.93,518.46L753.2,527.62L753.47,518.25L753.74,492.26L754.01,474.47L754.28,480.03L754.55,503.11L754.82,526.67L755.09,535.78L755.36,522.45L755.63,510.91L755.9,499.62L756.17,498.13L756.44,504.59L756.71,497.93L756.98,484.69L757.25,479.2L757.52,487.84L757.79,511.37L758.06,535.3L758.33,545.02L758.6,529.07L758.87,502.71L759.14,487.93L759.41,492.42L759.68,504.44L759.95,503.85L760.22,499.36L760.49,491.28L760.76,491.72L761.03,506.98L761.3,521.39L761.57,525.02L761.84,504.45L762.11,486.25L762.38,487.39L762.65,502.77L762.92,522.55L763.19,521.13L763.46,498.6L763.73,486.55L764,498.63L764.27,522.52L764.54,527.88L764.81,508.01L765.08,483.34L765.35,481.32L765.62,496.74L765.89,518.7L766.16,522.4L766.43,512.63L766.7,502.28L766.97,508.08L767.24,518.75L767.51,522.33L767.78,511.35L768.05,495.54L768.32,492.09L768.59,495.92L768.86,499.17L769.13,499.05L769.4,495.17L769.67,503.38L769.94,514.29L770.21,512.3L770.48,506.7L770.75,493.67L771.02,494.05L771.29,516.81L771.56,483.63L771.83,499.97L772.1,545.7L772.37,571.84L772.64,545.7L772.91,499.97L773.18,483.63L773.45,542.37L773.72,484.77L773.99,463.07L774.26,469.83L774.53,506.55L774.8,528.03L775.07,513.65L775.34,487.51L775.61,493L775.88,522.72L776.15,542.95L776.42,536.42L776.69,512.41L776.96,491.12L777.23,485.63L777.5,494.79L777.77,503.68L778.04,501.26L778.31,497.03L778.58,502.97L778.85,513L779.12,533.94L779.39,538.58L779.66,524.18L779.93,506.92L780.2,495.43L780.47,487.98L780.74,495.58L781.01,506.8L781.28,517.41L781.55,515.58L781.82,499.7L782.09,488.74L782.36,493.52L782.63,513.82L782.9,542.56L783.17,548.84L783.44,535.79L783.71,501.06L783.98,472.46L784.25,476.07L784.52,504.89L784.79,528.68L785.06,524.17L785.33,495.58L785.6,468.23L785.87,476.6L786.14,513.36L786.41,547.29L786.68,543.54L786.95,530.99L787.22,490.58L787.49,469.77L787.76,495.59L788.03,529.88L788.3,536.65L788.57,506.05L788.84,469.63L789.11,467.44L789.38,493.23L789.65,520.15L789.92,527.84L790.19,523.9L790.46,508.3L790.73,505.02L791,511.59L791.27,507.78L791.54,509.85L791.81,510.21L792.08,507.65L792.35,499.92L792.62,492.2L792.89,491.97L793.16,502.96L793.43,520.65L793.7,526.99L793.97,525.14L794.24,519.03L794.51,513.78L794.78,505.81L795.05,499.01L795.32,492.19L795.59,488.54L795.86,499.05L796.13,509.51L796.4,513.22L796.67,511.84L796.94,501.17L797.21,501.53L797.48,522.2L797.75,541.75L798.02,537.06L798.29,509.51L798.56,478.51L798.83,471.45L799.1,488.84L799.37,501.03L799.64,499.06L799.91,485.48L800.18,486.85L800.45,508.93L800.72,532.8L800.99,543.72L801.26,543.28L801.53,534.82L801.8,519.97L802.07,503.46L802.34,483.42L802.61,477.64L802.88,486.53L803.15,491.81L803.42,490.98L803.69,486.69L803.96,491.57L804.23,516.08L804.5,536.05L804.77,542.74L805.04,538.78L805.31,518.86L805.58,495.75L805.85,480.84L806.12,476.62L806.39,483.63L806.66,492.98L806.93,507.31L807.2,513.77L807.47,507.92L807.74,494.99L808.01,497.97L808.28,508.4L808.55,524.89L808.82,526.28L809.09,513.93L809.36,492.92L809.63,483.16L809.9,493.03L810.17,510.09L810.44,515.71L810.71,507.65L810.98,501.48L811.25,508.55L811.52,518.04L811.79,521.17L812.06,517.55L812.33,511.83L812.6,503.13L812.87,496.27L813.14,488.79L813.41,483.58L813.68,493.66L813.95,514.42L814.22,524.68L814.49,527.1L814.76,521.62L815.03,513.77L815.3,515.63L815.57,516.4L815.84,508.07L816.11,489.28L816.38,468.95L816.65,475.15L816.92,497.68L817.19,515.2L817.46,521.12L817.73,508.87L818,498.94L818.27,504.36L818.54,514.88L818.81,518.83L819.08,519.79L819.35,515.5L819.62,509.18L819.89,506.08L820.16,500.57L820.43,499.59L820.7,497.46L820.97,494.9L821.24,488.93L821.51,504.75L821.78,523.62L822.05,535.06L822.32,532.71L822.59,509.21L822.86,491.98L823.13,486.66L823.4,487.43L823.67,491.23L823.94,500.86L824.21,509.33L824.48,514.21L824.75,514.45L825.02,511.16L825.29,510.38L825.56,509.31L825.83,511.87L826.1,514.94L826.37,504.77L826.64,491.37L826.91,489.77L827.18,503.54L827.45,518.66L827.72,527L827.99,517.55L828.26,506.58L828.53,489.71L828.8,486.74L829.07,488.68L829.34,505.63L829.61,517.87L829.88,516.14L830.15,505.35L830.42,502.02L830.69,523.82L830.96,541.73L831.23,540.87L831.5,525.81L831.77,476.24L832.04,466.74L832.31,474.77L832.58,512.9L832.85,521.22L833.12,512.4L833.39,489.82L833.66,490.01L833.93,508.97L834.2,529.39L834.47,531.28L834.74,515.08L835.01,503.7L835.28,502.48L835.55,519.94L835.82,529.9L836.09,518.55L836.36,503.08L836.63,489.43L836.9,482.35L837.17,478.73L837.44,484.21L837.71,493.23L837.98,503.89L838.25,522.16L838.52,529.75L838.79,529.9L839.06,526.52L839.33,524.38L839.6,522.79L839.87,513.21L840.14,494.7L840.41,482.05L840.68,473.5L840.95,481.14L841.22,492.1L841.49,510.47L841.76,522.44L842.03,511.05L842.3,479.18L842.57,460.96L842.84,479.18L843.11,511.05L843.38,522.44L843.65,546.89L843.92,573.82L844.19,546.89L844.46,499.77L844.73,482.94L845,504.48L845.27,493.34L845.54,494.3L845.81,502.81L846.08,517.77L846.35,530.25L846.62,526.05L846.89,509.74L847.16,484.32L847.43,500.16L847.7,544.52L847.97,569.86L848.24,544.52L848.51,500.16L848.78,484.32L849.05,552.98L849.32,544.15L849.59,512.74L849.86,471.1L850.13,458.2L850.4,467.38L850.67,494.91L850.94,505.3L851.21,522.23L851.48,539.59L851.75,555.26L852.02,553.69L852.29,524.32L852.56,487.8L852.83,468.77L853.1,474.96L853.37,482.03L853.64,480.86L853.91,483.01L854.18,497.46L854.45,524.48L854.72,546.2L854.99,541.66L855.26,514.62L855.53,497.89L855.8,486.87L856.07,489.22L856.34,496.49L856.61,504.1L856.88,508.6L857.15,506.05L857.42,505.1L857.69,508.56L857.96,507.25L858.23,508.28L858.5,509.39L858.77,511.22L859.04,514.12L859.31,515.12L859.58,510.07L859.85,499.75L860.12,493.73L860.39,486.68L860.66,487.59L860.93,493.48L861.2,499.49L861.47,515.16L861.74,530.24L862.01,542.47L862.28,547.65L862.55,531.71L862.82,503.25L863.09,481.3L863.36,474.34L863.63,471.33L863.9,476.42L864.17,493.39L864.44,523.4L864.71,542.01L864.98,543.91L865.25,528.04L865.52,508.98L865.79,504.64L866.06,507.58L866.33,505.67L866.6,500.56L866.87,494.4L867.14,500.18L867.41,510.92L867.68,517.51L867.95,510.42L868.22,502.38L868.49,493.15L868.76,492.37L869.03,494.12L869.3,496.01L869.57,502.51L869.84,520.47L870.11,532L870.38,534.58L870.65,519.82L870.92,504.11L871.19,496.17L871.46,505.32L871.73,511.52L872,506.47L872.27,488.61L872.54,484.93L872.81,485.7L873.08,503.9L873.35,518.2L873.62,518.02L873.89,510.39L874.16,511.04L874.43,522.55L874.7,524.23L874.97,516.99L875.24,506.33L875.51,503.63L875.78,500.7L876.05,503.98L876.32,507.8L876.59,505.91L876.86,498.46L877.13,495.48L877.4,506.73L877.67,520.35L877.94,527.92L878.21,513.89L878.48,491.86L878.75,485.57L879.02,494.37L879.29,513.78L879.56,522.79L879.83,515.79L880.1,503.48L880.37,511.75L880.64,529.83L880.91,538.17L881.18,534.57L881.45,501.13L881.72,468.32L881.99,469.51L882.26,465.08L882.53,493L882.8,529.58L883.07,543.93L883.34,531.13L883.61,513.24L883.88,501.54L884.15,516.94L884.42,525.88L884.69,520.28L884.96,490.81L885.23,464.45L885.5,464.67L885.77,493.07L886.04,535.23L886.31,546.48L886.58,545.8L886.85,515.4L887.12,498.81L887.39,500.37L887.66,512.38L887.93,518.22L888.2,497.81L888.47,468.98L888.74,469.15L889.01,465.98L889.28,492.64L889.55,534.97L889.82,548.87L890.09,549.03L890.36,532.11L890.63,520.85L890.9,519.18L891.17,511.82L891.44,494.7L891.71,473.5L891.98,470.28L892.25,464.54L892.52,486.08L892.79,511.02L893.06,533.11L893.33,536.14L893.6,538.1L893.87,536.38L894.14,525.95L894.41,515.43L894.68,504.22L894.95,491.57L895.22,482.11L895.49,469.71L895.76,472.58L896.03,483.14L896.3,502.74L896.57,521.15L896.84,535.52L897.11,533.85L897.38,516.7L897.65,503.66L897.92,497.19L898.19,505.67L898.46,510.85L898.73,498.8L899,485.98L899.27,478.77L899.54,493.77L899.81,520.46L900.08,531.05L900.35,527.45L900.62,511.54L900.89,498.29L901.16,492.52L901.43,493.93L901.7,486.28L901.97,489.6L902.24,492.83L902.51,503.39L902.78,511.19L903.05,523.42L903.32,528.89L903.59,531.79L903.86,530.1L904.13,518.62L904.4,498.6L904.67,485.5L904.94,482.64L905.21,489.31L905.48,494.92L905.75,497.44L906.02,498.93L906.29,506.61L906.56,519.78L906.83,531.11L907.1,530.26L907.37,517.97L907.64,504.93L907.91,499.85L908.18,503.73L908.45,505.6L908.72,493.86L908.99,478.98L909.26,479.95L909.53,498.43L909.8,527.01L910.07,536.89L910.34,516.75L910.61,494.31L910.88,486.42L911.15,499.39L911.42,511.78L911.69,505.42L911.96,498.16L912.23,499.13L912.5,512.67L912.77,531.41L913.04,532.05L913.31,527.35L913.58,513.23L913.85,504.1L914.12,498.41L914.39,493.3L914.66,489.93L914.93,488.78L915.2,491.86L915.47,496.78L915.74,502.69L916.01,508.33L916.28,522.18L916.55,532.75L916.82,534.85L917.09,527.27L917.36,515.91L917.63,506.1L917.9,505.39L918.17,496.33L918.44,487.69L918.71,483.19L918.98,479.95L919.25,489.72L919.52,510.8L919.79,517.78L920.06,527.4L920.33,530.28L920.6,526.47L920.87,518.53L921.14,511.39L921.41,504.16L921.68,498.81L921.95,485.66L922.22,477.82L922.49,482.62L922.76,505.23L923.03,532.22L923.3,538.11L923.57,529.35L923.84,506.61L924.11,497.31L924.38,507.86L924.65,518.46L924.92,511.92L925.19,489.92L925.46,474.85L925.73,478.63L926,501.03L926.27,516.53L926.54,519.32L926.81,509.42L927.08,504.08L927.35,509.99L927.62,523.36L927.89,532.87L928.16,529.41L928.43,510.13L928.7,490.65L928.97,478.43L929.24,480.96L929.51,496.74L929.78,502.73L930.05,503.26L930.32,500.07L930.59,499.37L930.86,515.26L931.13,529.84L931.4,539.57L931.67,524.52L931.94,511.65L932.21,475.61L932.48,455.02L932.75,475.61L933.02,511.65L933.29,524.52L933.56,503.32L933.83,496.62L934.1,502.76L934.37,512.46L934.64,523.12L934.91,520.95L935.18,503.62L935.45,491.75L935.72,492.44L935.99,509.23L936.26,526.39L936.53,524.31L936.8,502.76L937.07,485.78L937.34,492.68L937.61,521.51L937.88,532.47L938.15,518.31L938.42,495.34L938.69,483.03L938.96,495.94L939.23,509.23L939.5,511.15L939.77,505.27L940.04,501.49L940.31,503.62L940.58,511.81L940.85,512.9L941.12,512.36L941.39,504.37L941.66,507.05L941.93,515.56L942.2,518.96L942.47,514.82L942.74,510.55L943.01,494.25L943.28,492.71L943.55,495.15L943.82,499.29L944.09,502.39L944.36,500.69L944.63,501.07L944.9,514.32L945.17,519.42L945.44,518.8L945.71,508.28L945.98,499.68L946.25,502.33L946.52,508.5L946.79,516.29L947.06,515.87L947.33,502.84L947.6,488.81L947.87,489.14L948.14,495.4L948.41,509.92L948.68,508.16L948.95,514.24L949.22,512.94L949.49,507.35L949.76,506.35L950.03,500.69L950.3,485.93L950.57,486.65L950.84,486.92L951.11,497.82L951.38,506.98L951.65,518.9L951.92,532.12L952.19,546.17L952.46,543.87L952.73,518.38L953,490.36L953.27,467.96L953.54,466.36L953.81,492.4L954.08,511.68L954.35,513.33L954.62,500.01L954.89,491.16L955.16,502.35L955.43,513.78L955.7,520.64L955.97,518.69L956.24,507.92L956.51,498.79L956.78,499.01L957.05,511.91L957.32,524.08L957.59,523.27L957.86,507.21L958.13,489.57L958.4,480.19L958.67,485.78L958.94,506.42L959.21,513.76L959.48,513.75L959.75,505.3L960.02,506.9L960.29,510.77L960.56,510.41L960.83,503.44L961.1,495.4L961.37,493.56L961.64,503.26L961.91,521.73L962.18,529.02L962.45,522.34L962.72,510.74L962.99,498.15L963.26,497.57L963.53,505.24L963.8,512L964.07,512.45L964.34,507.17L964.61,492.9L964.88,494.45L965.15,493.71L965.42,500.38L965.69,507.85L965.96,509.04L966.23,511.02L966.5,514.65L966.77,522.24L967.04,526.46L967.31,527.26L967.58,510.71L967.85,490.69L968.12,477.34L968.39,474.28L968.66,493.8L968.93,517.75L969.2,532.9L969.47,528.14L969.74,502.12L970.01,493.4L970.28,498.24L970.55,520.83L970.82,524.12L971.09,497.47L971.36,467.97L971.63,465.37L971.9,504.28L972.17,547.45L972.44,540.6L972.71,538.68L972.98,495.9L973.25,477.11L973.52,486.73L973.79,497.48L974.06,495.66L974.33,493.06L974.6,499.6L974.87,519.57L975.14,535.91L975.41,538.85L975.68,525.17L975.95,513.18L976.22,500.25L976.49,493.72L976.76,495.32L977.03,487.41L977.3,486.39L977.57,484.82L977.84,488.95L978.11,500.76L978.38,512.04L978.65,519.33L978.92,524.49L979.19,535.55L979.46,535.62L979.73,525.69L980,508L980.27,492.34L980.54,483.3L980.81,483.91L981.08,488.61L981.35,489.79L981.62,523.13L981.89,511.25L982.16,477.99L982.43,458.98L982.7,477.99L982.97,511.25L983.24,523.13L983.51,485.17L983.78,492.01L984.05,517.14L984.32,536.27L984.59,523.44L984.86,510.44L985.13,506.18L985.4,513.3L985.67,522.16L985.94,517.77L986.21,504.08L986.48,501.62L986.75,502.57L987.02,502.22L987.29,498.99L987.56,490.97L987.83,500.8L988.1,524.94L988.37,530.96L988.64,516.91L988.91,495.92L989.18,489.25L989.45,500.24L989.72,507.03L989.99,513.66L990.26,521.98L990.53,521.52L990.8,513.99L991.07,500.19L991.34,490.43L991.61,496.26L991.88,509.51L992.15,514.53L992.42,494.86L992.69,478.59L992.96,490.77L993.23,521.73L993.5,545.82L993.77,542.25L994.04,531.06L994.31,495.55L994.58,478.24L994.85,483.84L995.12,496.6L995.39,507.63L995.66,511.26L995.93,509.25L996.2,506.58L996.47,512.16L996.74,518.97L997.01,519.47L997.28,518.75L997.55,516.32L997.82,508.53L998.09,503.1L998.36,495.39L998.63,490.87L998.9,499.95L999.17,508.91L999.44,507.07L999.71,503.89L999.98,500.05L1000.25,504.03L1000.52,517.98L1000.79,525.24L1001.06,517.83L1001.33,504.73L1001.6,495.68L1001.87,497.11L1002.14,495.49L1002.41,492.65L1002.68,497.47L1002.95,506.49L1003.22,518.62L1003.49,518.5L1003.76,516.16L1004.03,514.02L1004.3,513.41L1004.57,510.79L1004.84,508.56L1005.11,502.88L1005.38,501.79L1005.65,508.85L1005.92,507.65L1006.19,507.15L1006.46,498.89L1006.73,492.64L1007,494.15L1007.27,497.21L1007.54,502.4L1007.81,504.23L1008.08,508.33L1008.35,511.51L1008.62,520.93L1008.89,526.17L1009.16,521.42L1009.43,509.65L1009.7,495.69L1009.97,489.84L1010.24,489.38L1010.51,499.05L1010.78,504.85L1011.05,504.22L1011.32,504.53L1011.59,501.64L1011.86,507.15L1012.13,512.71L1012.4,516.61L1012.67,526.64L1012.94,523.78L1013.21,516.69L1013.48,501.56L1013.75,494.7L1014.02,490.78L1014.29,498.31L1014.56,501.41L1014.83,495.59L1015.1,492.36L1015.37,498.33L1015.64,514.29L1015.91,530.16L1016.18,531.23L1016.45,518.01L1016.72,508.46L1016.99,500.07L1017.26,498.94L1017.53,504.38L1017.8,505.84L1018.07,499.73L1018.34,490.49L1018.61,486.41L1018.88,491.44L1019.15,504.89L1019.42,518.12L1019.69,524.74L1019.96,515.23L1020.23,505.59L1020.5,501.44L1020.77,508.21L1021.04,522.54L1021.31,527.43L1021.58,514.73L1021.85,493.95L1022.12,482.99L1022.39,484.16L1022.66,496.47L1022.93,516.6L1023.2,520.03L1023.47,513.53L1023.74,508.48L1024.01,507.09L1024.28,514.54L1024.55,513.25L1024.82,507.79L1025.09,497.88L1025.36,491.83L1025.63,487.99L1025.9,495.71L1026.17,507.07L1026.44,516.04L1026.71,516.56L1026.98,509.72L1027.25,512.22L1027.52,512.5L1027.79,511.49L1028.06,501.77L1028.33,494.72L1028.6,493.77L1028.87,492.45L1029.14,491.27L1029.41,491.03L1029.68,496.2L1029.95,510.81L1030.22,528.55L1030.49,534.7L1030.76,529.94L1031.03,520.5L1031.3,506.56L1031.57,495.03L1031.84,484.64L1032.11,484.99L1032.38,492.15L1032.65,507.12L1032.92,515.32L1033.19,512.8L1033.46,509.21L1033.73,502.19L1034,507.84L1034.27,513.33L1034.54,516.58L1034.81,509.66L1035.08,500.7L1035.35,494.29L1035.62,485.71L1035.89,495.9L1036.16,520.94L1036.43,545.35L1036.7,538.48L1036.97,493.96L1037.24,464.96L1037.51,463.29L1037.78,490.53L1038.05,528.7L1038.32,533.81L1038.59,503.91L1038.86,485.35L1039.13,493.52L1039.4,516.89L1039.67,527.11L1039.94,516.58L1040.21,502.25L1040.48,487.92L1040.75,482.2L1041.02,495.56L1041.29,508.47L1041.56,523.03L1041.83,517.55L1042.1,508.47L1042.37,491.37L1042.64,487.31L1042.91,500.81L1043.18,531.18L1043.45,542L1043.72,521.14L1043.99,485.27L1044.26,474.73L1044.53,492.8L1044.8,517.5L1045.07,516.07L1045.34,496.87L1045.61,493.6L1045.88,504.4L1046.15,532.69L1046.42,551.24L1046.69,537.47L1046.96,496.01L1047.23,468.73L1047.5,466.94L1047.77,523.83L1048.04,511.45L1048.31,476.8L1048.58,457L1048.85,476.8L1049.12,511.45L1049.39,523.83L1049.66,555.49L1049.93,530.54L1050.2,481.97L1050.47,458.75L1050.74,457.62L1051.01,488.91L1051.28,520.38L1051.55,519.33L1051.82,503.43L1052.09,488.09L1052.36,492.62L1052.63,514.15L1052.9,545.83L1053.17,544.44L1053.44,522.61L1053.71,500.07L1053.98,480.76L1054.25,478.68L1054.52,486.69L1054.79,498.23L1055.06,509.87L1055.33,507.48L1055.6,499.93L1055.87,517.35L1056.14,529.18L1056.41,544.52L1056.68,538.39L1056.95,497.65L1057.22,466.48L1057.49,458.04L1057.76,476.8L1058.03,506.63L1058.3,520.14L1058.57,515.78L1058.84,517.65L1059.11,533.05L1059.38,551.49L1059.65,547.42L1059.92,526.63L1060.19,490.21L1060.46,466.92L1060.73,468.54L1061,482.15L1061.27,499.08L1061.54,518.49L1061.81,532.47L1062.08,524.01L1062.35,516.11L1062.62,516.39L1062.89,509.39L1063.16,501.14L1063.43,488.5L1063.7,479.62L1063.97,492.36L1064.24,514.95L1064.51,531.05L1064.78,533.43L1065.05,515.09L1065.32,499.13L1065.59,496L1065.86,500.14L1066.13,515.17L1066.4,515.77L1066.67,508.85L1066.94,507.91L1067.21,504.73L1067.48,508.79L1067.75,509.76L1068.02,502.39L1068.29,491.4L1068.56,488.5L1068.83,500.35L1069.1,524.86L1069.37,539.4L1069.64,534.9L1069.91,514.08L1070.18,496.95L1070.45,493.94L1070.72,494L1070.99,490.6L1071.26,489.16L1071.53,491.35L1071.8,502.45L1072.07,520.68L1072.34,525.92L1072.61,528.43L1072.88,518.33L1073.15,507.24L1073.42,493.84L1073.69,489.54L1073.96,496.19L1074.23,511.38L1074.5,517.21L1074.77,509L1075.04,502.3L1075.31,503.07L1075.58,511.22L1075.85,519.95L1076.12,509.82L1076.39,492.74L1076.66,482.35L1076.93,486.83L1077.2,508.54L1077.47,528.99L1077.74,531.52L1078.01,514.45L1078.28,502.65L1078.55,501.58L1078.82,509.17L1079.09,513.32L1079.36,504.39L1079.63,500.06L1079.9,503.51L1080.17,508.52L1080.44,505.49L1080.71,499.73L1080.98,494.8L1081.25,499.25L1081.52,505.54L1081.79,506.4L1082.06,505.85L1082.33,510.11L1082.6,516.41L1082.87,521.7L1083.14,512.56L1083.41,495.37L1083.68,488.52L1083.95,492.82L1084.22,506.22L1084.49,517.04L1084.76,516.46L1085.03,511.73L1085.3,512.87L1085.57,511.22L1085.84,503.84L1086.11,493.62L1086.38,488.34L1086.65,495.63L1086.92,510.87L1087.19,521.48L1087.46,517.98L1087.73,512.33L1088,511.64L1088.27,516L1088.54,518.38L1088.81,510.02L1089.08,495.84L1089.35,485.24L1089.62,486.62L1089.89,493.49L1090.16,505.36L1090.43,509.3L1090.7,516.41L1090.97,525.28L1091.24,528.82L1091.51,519.94L1091.78,502.37L1092.05,490.19L1092.32,495.93L1092.59,508.23L1092.86,515.07L1093.13,509.56L1093.4,499.19L1093.67,496.1L1093.94,500.11L1094.21,505.03L1094.48,505.35L1094.75,502.9L1095.02,502.36L1095.29,505.96L1095.56,500.66L1095.83,497.95L1096.1,498.1L1096.37,502.3L1096.64,511.53L1096.91,518.29L1097.18,528.1L1097.45,526.63L1097.72,515.38L1097.99,499.98L1098.26,493.41L1098.53,496.4L1098.8,504.32L1099.07,501.85L1099.34,493.77L1099.61,498L1099.88,508.09L1100.15,520.1L1100.42,519.62L1100.69,512.41L1100.96,506.29L1101.23,506.89L1101.5,509.15L1101.77,509.19L1102.04,505.39L1102.31,502.79L1102.58,502.52L1102.85,504.7L1103.12,506.3L1103.39,511.01L1103.66,516L1103.93,514.53L1104.2,504.79L1104.47,494.01L1104.74,492.54L1105.01,495.85L1105.28,500.97L1105.55,506.83L1105.82,513.02L1106.09,519.23L1106.36,529.46L1106.63,524.08L1106.9,508.54L1107.17,494.32L1107.44,490.14L1107.71,497.55L1107.98,506.88L1108.25,509.57L1108.52,499.41L1108.79,492.12L1109.06,494.82L1109.33,499.69L1109.6,510.57L1109.87,517.29L1110.14,526.34L1110.41,525.91L1110.68,518.45L1110.95,513.45L1111.22,512.64L1111.49,508.41L1111.76,497.57L1112.03,481.55L1112.3,478.94L1112.57,482.72L1112.84,499.21L1113.11,519.55L1113.38,529.34L1113.65,524.59L1113.92,523.93L1114.19,522.82L1114.46,528.55L1114.73,517.54L1115,502.14L1115.27,486.67L1115.54,481.94L1115.81,484.72L1116.08,491.91L1116.35,500.71L1116.62,508.5L1116.89,509.87L1117.16,515.03L1117.43,527.64L1117.7,537.82L1117.97,537.31L1118.24,524.55L1118.51,500.99L1118.78,487.15L1119.05,488.4L1119.32,490.06L1119.59,492.39L1119.86,495.5L1120.13,493.08L1120.4,499.47L1120.67,508.21L1120.94,517.7L1121.21,527.74L1121.48,534.43L1121.75,511.07L1122.02,492.55L1122.29,482.41L1122.56,497.52L1122.83,519.21L1123.1,522.4L1123.37,504.43L1123.64,483.25L1123.91,491.65L1124.18,520.18L1124.45,538.34L1124.72,522.73L1124.99,491.1L1125.26,479.23L1125.53,485.51L1125.8,502.02L1126.07,509.25L1126.34,504.26L1126.61,499.07L1126.88,501.23L1127.15,521.48L1127.42,527.72L1127.69,529.1L1127.96,524.89L1128.23,509.34L1128.5,500.99L1128.77,497.3L1129.04,490.95L1129.31,483.42L1129.58,479.08L1129.85,495.43L1130.12,516.83L1130.39,520.87L1130.66,515.89L1130.93,512.06L1131.2,508.51L1131.47,512.13L1131.74,512.94L1132.01,510.09L1132.28,495.2L1132.55,489.46L1132.82,493.19L1133.09,501.09L1133.36,505.28L1133.63,505.6L1133.9,509.86L1134.17,507.66L1134.44,499.07L1134.71,497.05L1134.98,493.61L1135.25,477.77L1135.52,454.08L1135.79,461.1L1136.06,484.73L1136.33,516.8L1136.6,531.56L1136.87,512.53L1137.14,502.32L1137.41,504.87L1137.68,515.97L1137.95,527.07L1138.22,526.03L1138.49,512.08L1138.76,496.29L1139.03,500.17L1139.3,503.53L1139.57,498.27L1139.84,495.5L1140.11,500.09L1140.38,504.68L1140.65,508.47L1140.92,511.32L1141.19,519.5L1141.46,528.37L1141.73,522.06L1142,500.49L1142.27,480.82L1142.54,492.09L1142.81,520.03L1143.08,540.56L1143.35,524.36L1143.62,486.23L1143.89,448.38L1144.16,470.65L1144.43,505.07L1144.7,539.68L1144.97,518.1L1145.24,498.71L1145.51,497.87L1145.78,511.37L1146.05,520.86L1146.32,513.51L1146.59,499.47L1146.86,485.43L1147.13,476.39L1147.4,479.39L1147.67,482.39L1147.94,493.62L1148.21,508.27L1148.48,532.2L1148.75,554.09L1149.02,546.61L1149.29,519.87L1149.56,489.9L1149.83,489.28L1150.1,494.56L1150.37,486.99L1150.64,476.68L1150.91,474.76L1151.18,495.53L1151.45,518.49L1151.72,519.77L1151.99,512.1L1152.26,515.27L1152.53,527.24L1152.8,539.22L1153.07,535.84L1153.34,517.78L1153.61,499.48L1153.88,488.86L1154.15,486.84L1154.42,482.33L1154.69,476.93L1154.96,476.48L1155.23,498.35L1155.5,520.22L1155.77,537.41L1156.04,536.04L1156.31,517.38L1156.58,498.71L1156.85,492.08L1157.12,494.55L1157.39,497.41L1157.66,489.31L1157.93,483.37L1158.2,491.47L1158.47,517.91L1158.74,544.04L1159.01,544.04L1159.28,527.43L1159.55,502.68L1159.82,501L1160.09,505.94L1160.36,501.54L1160.63,487.18L1160.9,472.83L1161.17,477.37L1161.44,497.2L1161.71,521.5L1161.98,534.02L1162.25,536.01L1162.52,538.68L1162.79,543.25L1163.06,537.02L1163.33,507.8L1163.6,472.7L1163.87,449.97L1164.14,459.87L1164.41,491.05L1164.68,516.24L1164.95,519.92L1165.22,519.11L1165.49,527.58L1165.76,535.78L1166.03,536.45L1166.3,523.33L1166.57,495.61L1166.84,467.23L1167.11,470.72L1167.38,505.85L1167.65,528.33L1167.92,537.1L1168.19,536.14L1168.46,524.64L1168.73,509.6L1169,495.65L1169.27,488.71L1169.54,492.63L1169.81,498.7L1170.08,498.85L1170.35,492.3L1170.62,485.93L1170.89,500.78L1171.16,520.74L1171.43,540.81L1171.7,545.17L1171.97,536.12L1172.24,523.1L1172.51,511.12L1172.78,506.7L1173.05,501.64L1173.32,488.63L1173.59,475.62L1173.86,462.77L1174.13,470.19L1174.4,499.09L1174.67,526.07L1174.94,535.96L1175.21,537.99L1175.48,540.45L1175.75,544.26L1176.02,539.38L1176.29,513.67L1176.56,483.07L1176.83,460.31L1177.1,459.77L1177.37,483.48L1177.64,507.76L1177.91,518.75L1178.18,517.59L1178.45,507.14L1178.72,508.93L1178.99,526.38L1179.26,537.28L1179.53,532.58L1179.8,506.33L1180.07,480.09L1180.34,468.18L1180.61,492.79L1180.88,512.69L1181.15,523.64L1181.42,506.02L1181.69,491.65L1181.96,502.3L1182.23,522.96L1182.5,533.72L1182.77,524.52L1183.04,508.32L1183.31,499.27L1183.58,502.44L1183.85,502.2L1184.12,490.57L1184.39,480.41L1184.66,484.46L1184.93,511.46L1185.2,535.9L1185.47,537.15L1185.74,514.34L1186.01,489.14L1186.28,477.89L1186.55,496.21L1186.82,518.9L1187.09,526.46L1187.36,511.36L1187.63,496.56L1187.9,491.16L1188.17,495.39L1188.44,504.98L1188.71,515.18L1188.98,520.17L1189.25,514.66L1189.52,497.58L1189.79,480.79L1190.06,477.06L1190.33,497.86L1190.6,517.15L1190.87,524.63L1191.14,512.99L1191.41,499.74L1191.68,497.39L1191.95,515.38L1192.22,533.87L1192.49,546.69L1192.76,533.11L1193.03,492.61L1193.3,460.58L1193.57,461.52L1193.84,486.93L1194.11,509.61L1194.38,511.48L1194.65,492.19L1194.92,472.23L1195.19,482.35L1195.46,525.82L1195.73,560.09L1196,561.01L1196.27,519.01L1196.54,485.08L1196.81,477.8L1197.08,488.17L1197.35,498.53L1197.62,503.21L1197.89,502.14L1198.16,504.28L1198.43,508.06L1198.7,510.02L1198.97,511.64L1199.24,515.39L1199.51,514.76L1199.78,496.86L1200.05,480.53L1200.32,478.35L1200.59,500.44L1200.86,522.3L1201.13,526.63L1201.4,508L1201.67,491.47L1201.94,482.52L1202.21,495.68L1202.48,508.85L1202.75,521.41L1203.02,519.59L1203.29,509.87L1203.56,500.92L1203.83,494.23L1204.1,488.16L1204.37,486.81L1204.64,492.41L1204.91,506.41L1205.18,519.98L1205.45,523.69L1205.72,516.67L1205.99,509.65L1206.26,504.41L1206.53,506L1206.8,509.74L1207.07,508.35L1207.34,494.93L1207.61,484.07L1207.88,486.57L1208.15,507.19L1208.42,526.06L1208.69,532.52L1208.96,511.31L1209.23,491.21L1209.5,489.18L1209.77,513.66L1210.04,531.97L1210.31,529.11L1210.58,502.19L1210.85,474.41L1211.12,471.97L1211.39,483.37L1211.66,494.77L1211.93,502.27L1212.2,506.9L1212.47,511.53L1212.74,522.04L1213.01,532.72L1213.28,532.24L1213.55,512.97L1213.82,489.53L1214.09,470.85L1214.36,470.7L1214.63,475.65L1214.9,483.06L1215.17,494.2L1215.44,518.5L1215.71,540.64L1215.98,551.96L1216.25,550.26L1216.52,534.15L1216.79,512.28L1217.06,488.78L1217.33,465.45L1217.6,451.19L1217.87,452.81L1218.14,480.02L1218.41,508.25L1218.68,527.07L1218.95,528.15L1219.22,525.65L1219.49,530.22L1219.76,534.8L1220.03,531.65L1220.3,519.23L1220.57,502.36L1220.84,485.96L1221.11,479.27L1221.38,473.93L1221.65,480.68L1221.92,494.08L1222.19,502.87L1222.46,497.89L1222.73,489.46L1223,503.79L1223.27,535.76L1223.54,552.86L1223.81,525.06L1224.08,488.42L1224.35,456.38L1224.62,468.65L1224.89,513.2L1225.16,532.25L1225.43,521.12L1225.7,494.12L1225.97,477.36L1226.24,505L1226.51,522.88L1226.78,525.25L1227.05,508.43L1227.32,482.45L1227.59,480.14L1227.86,497.17L1228.13,510.84L1228.4,513.26L1228.67,514.61L1228.94,517.13L1229.21,519.71L1229.48,510.31L1229.75,498.43L1230.02,490.32L1230.29,494.55L1230.56,503.1L1230.83,500.27L1231.1,493.43L1231.37,492.18L1231.64,503.93L1231.91,516.1L1232.18,514.75L1232.45,496.91L1232.72,488.73L1232.99,499.68L1233.26,515.24L1233.53,531.15L1233.8,523.12L1234.07,497.86L1234.34,485.61L1234.61,489.86L1234.88,502.82L1235.15,509.56L1235.42,507.05L1235.69,503.37L1235.96,510.12L1236.23,519.82L1236.5,527.21L1236.77,519.73L1237.04,489.65L1237.31,474.76L1237.58,474.76L1237.85,495.49L1238.12,518.65L1238.39,522.12L1238.66,515.72L1238.93,510.91L1239.2,519.97L1239.47,529.15L1239.74,525.68L1240.01,508.09L1240.28,490.53L1240.55,482.43L1240.82,480.29L1241.09,483.39L1241.36,489.2L1241.63,506.21L1241.9,522.17L1242.17,532.14L1242.44,526.4L1242.71,509.63L1242.98,492.74L1243.25,487.12L1243.52,493.83L1243.79,503.57L1244.06,508.97L1244.33,507.62L1244.6,504.38L1244.87,507.11L1245.14,515.46L1245.41,516.08L1245.68,503.25L1245.95,493.56L1246.22,490.22L1246.49,497.3L1246.76,505.76L1247.03,511.83L1247.3,516.93L1247.57,516.93L1247.84,510.72L1248.11,502.98L1248.38,495.85L1248.65,489.49L1248.92,498.4L1249.19,506.57L1249.46,511.56L1249.73,502.92L1250,495.42L1250.27,498.17L1250.54,511.54L1250.81,521.22L1251.08,509.38L1251.35,498.65L1251.62,490.78L1251.89,496.39L1252.16,511.8L1252.43,516.16L1252.7,509.69L1252.97,493.93L1253.24,490.45L1253.51,503.3L1253.78,518.29L1254.05,517.76L1254.32,503.51L1254.59,491.07L1254.86,493.57L1255.13,518.13L1255.4,536.69L1255.67,533.82L1255.94,510.31L1256.21,489.69L1256.48,479.6L1256.75,485.83L1257.02,496.87L1257.29,503.28L1257.56,499.44L1257.83,493.77L1258.1,498.86L1258.37,519.11L1258.64,533.14L1258.91,539.02L1259.18,527.44L1259.45,493.24L1259.72,478.48L1259.99,486.58L1260.26,506.7L1260.53,509.01L1260.8,490.36L1261.07,479.52L1261.34,485.76L1261.61,507.91L1261.88,525.52L1262.15,520.8L1262.42,504.86L1262.69,492.85L1262.96,490.7L1263.23,497.94L1263.5,505.4L1263.77,507.79L1264.04,502.21L1264.31,496.84L1264.58,501.79L1264.85,516.74L1265.12,534.98L1265.39,531.06L1265.66,509.46L1265.93,486.53L1266.2,483.21L1266.47,492.33L1266.74,501.82L1267.01,500.69L1267.28,488.54L1267.55,480.86L1267.82,486.33L1268.09,509.08L1268.36,534.38L1268.63,543.22L1268.9,536.02L1269.17,516.35L1269.44,498.01L1269.71,492.61L1269.98,494.33L1270.25,502.01L1270.52,503.96L1270.79,495.86L1271.06,477.5L1271.33,471.25L1271.6,476.86L1271.87,497.43L1272.14,515.04L1272.41,517.29L1272.68,510.39L1272.95,512.47L1273.22,533.92L1273.49,547.46L1273.76,545.66L1274.03,511.47L1274.3,477.25L1274.57,460.37L1274.84,471.73L1275.11,494.47L1275.38,503.24L1275.65,495.39L1275.92,492.95L1276.19,504.49L1276.46,520.49L1276.73,523.38L1277,504.02L1277.27,480.05L1277.54,483.22L1277.81,502.51L1278.08,513.61L1278.35,505.54L1278.62,499.46L1278.89,511.24L1279.16,526.06L1279.43,528.56L1279.7,504.04L1279.97,471.88L1280.24,460.97L1280.51,473.12L1280.78,495.04L1281.05,506.84L1281.32,509.46L1281.59,512.39L1281.86,516.17L1282.13,515.55L1282.4,500.11L1282.67,485.94L1282.94,485.4L1283.21,502.48L1283.48,518.82L1283.75,521.16L1284.02,511.04L1284.29,503.33L1284.56,498.83L1284.83,499.36L1285.1,503.71L1285.37,513.76L1285.64,514.11L1285.91,504.14L1286.18,486.15L1286.45,477.86L1286.72,488.88L1286.99,510.72L1287.26,526.73L1287.53,528.08L1287.8,513.69L1288.07,500.32L1288.34,498.18L1288.61,503.58L1288.88,509.73L1289.15,514.46L1289.42,515.42L1289.69,512.05L1289.96,501.91L1290.23,490.05L1290.5,481.3L1290.77,477.65L1291.04,480.96L1291.31,488.68L1291.58,493.81L1291.85,503.63L1292.12,519.46L1292.39,539.34L1292.66,539.82L1292.93,521.69L1293.2,502.38L1293.47,494.15L1293.74,493.01L1294.01,490.46L1294.28,481.69L1294.55,470.82L1294.82,469.48L1295.09,481.83L1295.36,518.92L1295.63,548.18L1295.9,558.32L1296.17,540.7L1296.44,521.58L1296.71,507.78L1296.98,497.64" fill="none" stroke="#000" stroke-width="1.15" stroke-linejoin="miter" stroke-miterlimit="4"/>
<path d="M325.25,503.23L326.6,506.04L327.95,509.14L329.3,509.14L330.65,509.86L332,509.55L333.35,507.64L334.7,506.03L336.05,505.6L337.4,506.06L338.75,507.08L340.1,507.83L341.45,508.09L342.8,507.88L344.15,507.91L345.5,509.03L346.85,511.28L348.2,512.89L349.55,512.57L350.9,511.2L352.25,510.3L353.6,509.2L354.95,507.31L356.3,504.99L357.65,503.23L359,502.24L360.35,502.24L361.7,503.46L363.05,504.81L364.4,505.7L365.75,505.71L367.1,504.59L368.45,504.04L369.8,504.71L371.15,504.14L372.5,502.32L373.85,499.97L375.2,498.96L376.55,501.12L377.9,503.85L379.25,505.99L380.6,508.41L381.95,510.1L383.3,509.02L384.65,508.11L386,507.74L387.35,506.41L388.7,504.71L390.05,504.96L391.4,506.5L392.75,508.27L394.1,508.87L395.45,509.58L396.8,511.12L398.15,512.82L399.5,513.85L400.85,511.09L402.2,508.59L403.55,506.81L404.9,506.82L406.25,506.14L407.6,505.55L408.95,505.84L410.3,506L411.65,506.17L413,506.84L414.35,506.64L415.7,505.75L417.05,506.49L418.4,508.04L419.75,508.31L421.1,508.06L422.45,508.34L423.8,508.68L425.15,508.57L426.5,507.83L427.85,507.33L429.2,506.89L430.55,506.48L431.9,506.81L433.25,507.17L434.6,506.33L435.95,504.72L437.3,503.61L438.65,504.34L440,505.9L441.35,505.54L442.7,503.46L444.05,502.56L445.4,503.75L446.75,505.16L448.1,505.59L449.45,505.6L450.8,504.68L452.15,504.23L453.5,505.36L454.85,506.65L456.2,506.8L457.55,506.38L458.9,506.2L460.25,506.65L461.6,508.24L462.95,509.08L464.3,508.13L465.65,506.87L467,506.54L468.35,506.03L469.7,504.93L471.05,504.16L472.4,504.11L473.75,504.45L475.1,504.83L476.45,504.23L477.8,502.89L479.15,501.36L480.5,500.3L481.85,499.53L483.2,501.55L484.55,504.36L485.9,507.58L487.25,510.45L488.6,509.88L489.95,508.33L491.3,507.46L492.65,507.63L494,508.1L495.35,508L496.7,507.85L498.05,507.37L499.4,506.74L500.75,506.58L502.1,507.24L503.45,508.04L504.8,508.42L506.15,508.39L507.5,507.92L508.85,508.47L510.2,509.13L511.55,509.51L512.9,509.5L514.25,509L515.6,509.11L516.95,509.48L518.3,508.57L519.65,506.78L521,505.93L522.35,505.96L523.7,506.17L525.05,506.46L526.4,506.62L527.75,506.73L529.1,507.17L530.45,507.68L531.8,507.8L533.15,508.97L534.5,511.21L535.85,511.66L537.2,510.73L538.55,509.39L539.9,508.25L541.25,507.71L542.6,507.56L543.95,507.3L545.3,506.86L546.65,506.29L548,505.85L549.35,505.49L550.7,505.11L552.05,504.85L553.4,504.82L554.75,504.55L556.1,504.1L557.45,504.06L558.8,505.11L560.15,506.73L561.5,507.58L562.85,506.89L564.2,505.46L565.55,504.32L566.9,503.74L568.25,504.3L569.6,506.33L570.95,508.26L572.3,507.82L573.65,505.33L575,503.6L576.35,503.55L577.7,503.84L579.05,503.2L580.4,502.37L581.75,502.39L583.1,503.14L584.45,503.84L585.8,504.67L587.15,506.04L588.5,506.59L589.85,505.35L591.2,503.95L592.55,503.76L593.9,504.66L595.25,505.22L596.6,506.33L597.95,508.24L599.3,510.25L600.65,511.27L602,509.25L603.35,507.14L604.7,506.54L606.05,506.02L607.4,507.28L608.75,509.62L610.1,510.57L611.45,509.78L612.8,509.72L614.15,510.9L615.5,510.01L616.85,508.59L618.2,507.42L619.55,507.32L620.9,508.24L622.25,508.68L623.6,508.56L624.95,508.25L626.3,507.53L627.65,506.02L629,505.33L630.35,506.09L631.7,506.72L633.05,505.64L634.4,504.45L635.75,505.07L637.1,506.26L638.45,507.32L639.8,507.94L641.15,508.04L642.5,508.54L643.85,509.23L645.2,508.53L646.55,506.9L647.9,507.51L649.25,510.1L650.6,511.45L651.95,510.66L653.3,509.68L654.65,510.18L656,511.74L657.35,513.27L658.7,513.38L660.05,512.19L661.4,510.55L662.75,510.27L664.1,509.81L665.45,508.82L666.8,508.02L668.15,506.72L669.5,506.32L670.85,507.61L672.2,509.15L673.55,509.87L674.9,510.44L676.25,510.54L677.6,509.68L678.95,508.5L680.3,506.91L681.65,505.33L683,507.18L684.35,510.18L685.7,511.84L687.05,513.01L688.4,513.3L689.75,511.92L691.1,509.4L692.45,506.97L693.8,506.11L695.15,506.42L696.5,506.61L697.85,506.5L699.2,507.64L700.55,508.81L701.9,509.54L703.25,509.75L704.6,510.68L705.95,511.8L707.3,512.6L708.65,512.3L710,511.83L711.35,511.01L712.7,508.96L714.05,507.71L715.4,508.35L716.75,509.37L718.1,509.52L719.45,508.62L720.8,507.46L722.15,507.13L723.5,507.48L724.85,507.69L726.2,507.67L727.55,507.31L728.9,507.28L730.25,507.25L731.6,506.29L732.95,505.51L734.3,504.9L735.65,504.17L737,504.49L738.35,505.56L739.7,507.3L741.05,508.49L742.4,508.51L743.75,508.44L745.1,508.9L746.45,509.2L747.8,509.71L749.15,511.11L750.5,511.03L751.85,509.63L753.2,508.8L754.55,509.08L755.9,509.11L757.25,507.94L758.6,506.03L759.95,504.17L761.3,503.7L762.65,504.33L764,505.84L765.35,507.61L766.7,508.69L768.05,508.86L769.4,508.72L770.75,508.46L772.1,508.41L773.45,508.61L774.8,509.79L776.15,511.33L777.5,512.73L778.85,513.73L780.2,513.66L781.55,512.34L782.9,510.75L784.25,510.06L785.6,509.12L786.95,507.93L788.3,506.91L789.65,506.03L791,505.01L792.35,504.42L793.7,505.13L795.05,506.17L796.4,506.53L797.75,506.64L799.1,506.91L800.45,506.71L801.8,506.37L803.15,506.65L804.5,506.61L805.85,507.21L807.2,509.6L808.55,511.69L809.9,512.3L811.25,512.59L812.6,511.72L813.95,510.45L815.3,508.96L816.65,507.37L818,506.11L819.35,505.89L820.7,506.28L822.05,506.06L823.4,505.29L824.75,504.98L826.1,504.48L827.45,503.94L828.8,505.04L830.15,506.44L831.5,505.43L832.85,503.36L834.2,502.75L835.55,503.12L836.9,503.67L838.25,503.74L839.6,503.15L840.95,503.24L842.3,504.41L843.65,505.5L845,505.8L846.35,504.97L847.7,503.81L849.05,503.53L850.4,504.38L851.75,505.5L853.1,506.86L854.45,508.21L855.8,508.63L857.15,508.26L858.5,507.23L859.85,505.9L861.2,504.69L862.55,504.65L863.9,505.7L865.25,505.84L866.6,503.64L867.95,501.68L869.3,501.9L870.65,502.58L872,502.52L873.35,502.72L874.7,503.95L876.05,505.64L877.4,507.24L878.75,508.79L880.1,509.71L881.45,509.34L882.8,508.47L884.15,507.15L885.5,506.36L886.85,505.83L888.2,505.33L889.55,504.83L890.9,504.87L892.25,505.73L893.6,506.81L894.95,507.19L896.3,506.35L897.65,505.37L899,505.08L900.35,504.45L901.7,502.95L903.05,503.19L904.4,505.08L905.75,505.76L907.1,505.24L908.45,504.78L909.8,503.49L911.15,503.11L912.5,503.69L913.85,503.91L915.2,502.81L916.55,501.3L917.9,500.33L919.25,499.9L920.6,500.52L921.95,502.32L923.3,502.74L924.65,502.7L926,504.04L927.35,505.72L928.7,505.94L930.05,505.23L931.4,504.38L932.75,504.03L934.1,504.27L935.45,504.01L936.8,503.93L938.15,504.83L939.5,505.39L940.85,504.77L942.2,504.2L943.55,504.27L944.9,504.97L946.25,506.72L947.6,507.87L948.95,508.45L950.3,508.23L951.65,507.31L953,505.88L954.35,504.89L955.7,504.77L957.05,504.01L958.4,502.52L959.75,501.7L961.1,502.09L962.45,503.11L963.8,504.16L965.15,504.63L966.5,504.55L967.85,503.9L969.2,502.99L970.55,502.53L971.9,501.97L973.25,501.81L974.6,502.69L975.95,503.21L977.3,503.72L978.65,504.31L980,504.25L981.35,502.61L982.7,501.17L984.05,500.2L985.4,501.71L986.75,503.53L988.1,504.58L989.45,504.78L990.8,504.3L992.15,503.43L993.5,503.54L994.85,504.63L996.2,505.51L997.55,506.53L998.9,508.32L1000.25,509.54L1001.6,509.69L1002.95,508.57L1004.3,507.52L1005.65,506.69L1007,506.31L1008.35,506.38L1009.7,505.94L1011.05,505.83L1012.4,505.27L1013.75,505.42L1015.1,506.37L1016.45,506.62L1017.8,506.05L1019.15,505.93L1020.5,505.8L1021.85,505.1L1023.2,504.32L1024.55,503.53L1025.9,503.65L1027.25,505.43L1028.6,506.39L1029.95,506.73L1031.3,507.1L1032.65,507.78L1034,509.74L1035.35,511.62L1036.7,511.9L1038.05,510.66L1039.4,508.84L1040.75,507.71L1042.1,507.62L1043.45,506.92L1044.8,505.6L1046.15,504.57L1047.5,503.48L1048.85,502.58L1050.2,502.69L1051.55,503.4L1052.9,503.85L1054.25,503.68L1055.6,503.7L1056.95,504.42L1058.3,504.93L1059.65,505.1L1061,505.59L1062.35,505.5L1063.7,505.99L1065.05,507.64L1066.4,509.4L1067.75,510.86L1069.1,511.94L1070.45,511.23L1071.8,509.31L1073.15,507.03L1074.5,505.8L1075.85,506.11L1077.2,506.31L1078.55,504.89L1079.9,502.98L1081.25,502.3L1082.6,503.58L1083.95,504.24L1085.3,504.29L1086.65,504.7L1088,506.13L1089.35,507.2L1090.7,507.46L1092.05,508.5L1093.4,509.95L1094.75,510.34L1096.1,508.87L1097.45,507.45L1098.8,507.46L1100.15,507.02L1101.5,505.23L1102.85,504.17L1104.2,504.69L1105.55,505.57L1106.9,505.98L1108.25,505.51L1109.6,504.34L1110.95,503.7L1112.3,503.86L1113.65,504.91L1115,505.57L1116.35,505.5L1117.7,505.93L1119.05,507.18L1120.4,507.56L1121.75,506.93L1123.1,505.99L1124.45,505.85L1125.8,506.7L1127.15,507.38L1128.5,506.86L1129.85,506.18L1131.2,505.86L1132.55,506.32L1133.9,506.71L1135.25,506.69L1136.6,507.06L1137.95,509L1139.3,510.61L1140.65,508.97L1142,506.73L1143.35,505.02L1144.7,503.49L1146.05,502.9L1147.4,502.96L1148.75,504.14L1150.1,504.87L1151.45,505.05L1152.8,506.08L1154.15,506.32L1155.5,505.78L1156.85,506.21L1158.2,506.91L1159.55,506.81L1160.9,506.47L1162.25,506.66L1163.6,507.01L1164.95,506.85L1166.3,506.31L1167.65,506.46L1169,507.74L1170.35,508.88L1171.7,508.79L1173.05,507.29L1174.4,506.34L1175.75,506.19L1177.1,505.98L1178.45,505.83L1179.8,506.3L1181.15,507.61L1182.5,508.95L1183.85,508.88L1185.2,507.73L1186.55,506.86L1187.9,506.47L1189.25,506.42L1190.6,506.09L1191.95,505.15L1193.3,504.24L1194.65,503.58L1196,503.91L1197.35,504.36L1198.7,504.47L1200.05,505.01L1201.4,506.3L1202.75,506.97L1204.1,507.01L1205.45,507.26L1206.8,506.66L1208.15,505.41L1209.5,505.17L1210.85,505.74L1212.2,505.24L1213.55,503.8L1214.9,503.3L1216.25,503.29L1217.6,503.24L1218.95,503.65L1220.3,504.04L1221.65,504L1223,503.77L1224.35,504.2L1225.7,504.61L1227.05,503.82L1228.4,502.2L1229.75,501.86L1231.1,503.1L1232.45,503.74L1233.8,504.2L1235.15,506.05L1236.5,507.82L1237.85,508.56L1239.2,508.5L1240.55,507.81L1241.9,507.37L1243.25,507.61L1244.6,507.72L1245.95,506.52L1247.3,504.66L1248.65,503.3L1250,502.62L1251.35,502.63L1252.7,502.9L1254.05,503.81L1255.4,505.47L1256.75,506.47L1258.1,506.22L1259.45,504.69L1260.8,503.04L1262.15,502.76L1263.5,503.2L1264.85,503.54L1266.2,503.58L1267.55,503.48L1268.9,503.53L1270.25,503.12L1271.6,502.66L1272.95,502.68L1274.3,502.16L1275.65,501.26L1277,500.81L1278.35,501.24L1279.7,502.9L1281.05,503.78L1282.4,504.69L1283.75,504.63L1285.1,504.34L1286.45,505.03L1287.8,505.58L1289.15,506.06L1290.5,506.18L1291.85,506.59L1293.2,506.88L1294.55,506.3L1295.9,505.52L1297.25,505.14" fill="none" stroke="#c8c800" stroke-width="2.4" stroke-linejoin="round"/>
<path d="M332.1,694H348.28M348.55,694.5H371.75M372.02,695H395.21M395.48,695.5H418.68M418.95,696H442.14M442.41,696.5H465.61M465.88,697H489.07M489.34,697.5H512.54M512.81,698H536M536.27,698.5H559.47M559.74,699H582.93M583.2,699.5H606.4M606.67,700H629.86M630.13,700.5H653.06M653.33,701H676.52M676.79,701.5H699.99M700.26,702H723.45M723.72,702.5H746.92M747.19,703H770.38M770.65,703.5H793.85M794.12,704H817.32M817.58,704.5H840.78M841.05,705H864.25M864.52,705.5H887.71M887.98,706H911.18M911.45,706.5H934.64M934.91,707H958.11M958.38,707.5H981.57M981.84,708H1004.77M1005.04,708.5H1028.23M1028.5,709H1051.7M1051.97,709.5H1075.16M1075.43,710H1098.63M1098.9,710.5H1122.09M1122.36,711H1145.56M1145.83,711.5H1169.02M1169.29,712H1192.49M1192.76,712.5H1215.95M1216.22,713H1239.42M1239.69,713.5H1262.88M1263.15,714H1286.35M1286.62,714.5H1302.8" fill="none" stroke="#ff0000" stroke-width="4" stroke-linecap="round"/>
<path d="M325.27,724.43L326.78,700.33L329.04,710.12L332.8,784.67L335.81,749.28L337.77,748.52L341.84,776.39L343.34,771.87L346.36,742.5L349.37,750.78L352.38,740.99L356.9,753.8L359.46,758.31L362.62,775.63L364.43,767.35L367.14,725.93L368.95,737.98L371.96,789.94L374.22,767.35L376.93,692.8L378.73,717.65L382.05,788.43L384.76,746.27L386.57,742.5L389.73,768.86L391.54,761.33L396.05,722.17L400.12,729.7L402.83,752.29L406.14,801.23L408.1,792.2L411.11,736.48L413.37,735.72L414.58,742.5L417.89,721.42L419.4,721.42L422.41,765.09L423.92,767.35L425.42,758.31L427.23,761.33L430.69,786.93L432.2,782.41L436.27,736.48L439.28,732.71L441.69,723.67L443.49,722.92L448.01,783.92L449.82,784.67L453.28,744.76L455.24,737.23L457.8,745.51L461.11,728.95L463.07,738.73L466.08,790.69L468.34,790.69L471.05,749.28L473.31,747.02L474.37,753.04L475.87,748.52L479.19,719.16L481.14,725.18L484.16,770.36L485.66,780.9L488.37,783.92L490.48,789.94L492.44,782.41L496.51,694.31L498.46,704.1L501.48,762.08L503.43,766.6L504.94,765.09L508.25,782.41L510.06,783.16L512.02,765.84L514.58,713.43L516.54,717.65L518.8,770.36L521.36,784.22L523.31,782.41L527.53,743.25L529.64,734.22L532.65,745.51L534.61,745.51L537.32,731.2L539.13,747.77L542.59,790.69L544.4,792.2L548.61,758.31L551.93,749.28L556.9,709.37L558.7,717.65L561.42,770.36L563.22,782.41L566.23,786.17L568.8,792.2L570.24,783.92L574.31,707.11L576.57,706.36L579.28,752.29L581.39,766.6L582.59,765.84L584.4,753.8L585.9,753.8L587.86,774.88L589.67,786.17L590.87,780.15L594.64,719.16L595.84,714.64L597.65,743.25L599.46,764.34L600.66,770.36L603.67,737.23L605.18,744.76L608.19,783.16L610.15,773.37L613.01,744.76L616.48,751.54L619.94,726.69L621.75,731.2L624.76,782.41L626.72,783.92L630.78,720.66L632.29,729.7L634.25,763.58L636.51,774.13L639.07,744.76L641.33,737.23L643.13,743.25L645.84,761.33L647.8,767.35L649.61,759.82L652.17,728.19L654.13,723.67L657.14,762.83L659.1,771.87L662.41,744.76L663.92,744.01L666.93,779.4L668.73,793.7L670.69,776.39L672.95,708.61L674.91,704.1L678.22,756.05L680.18,758.31L683.19,718.4L685,729.7L687.71,806.51L689.82,807.71L692.53,734.22L694.49,723.67L698.25,747.77L699.31,750.03L700.81,748.52L702.32,750.03L704.58,755.3L707.59,758.31L709.1,762.08L711.05,761.33L713.61,728.19L715.57,723.67L718.89,768.86L720.39,774.88L723.4,740.24L725.36,728.95L730.18,768.1L731.69,767.35L734.7,749.28L738.16,734.97L739.97,733.46L741.93,740.24L744.49,765.84L746.45,770.36L750.96,750.78L752.77,752.29L754.73,756.81L756.54,754.55L758.8,731.2L760.75,729.7L764.07,771.87L765.87,779.4L769.04,737.98L770.84,735.72L773.55,779.4L776.11,774.88L778.37,722.17L780.33,717.65L784.4,746.27L788.61,758.31L791.93,780.15L793.73,778.64L797.95,717.65L799.76,716.9L802.47,725.18L804.73,740.24L807.74,785.42L809.79,799.73L811.75,795.96L814.76,755.3L817.32,717.65L818.83,697.32L821.08,699.58L823.34,740.24L825.3,773.37L827.56,774.88L828.92,771.87L832.38,781.66L833.89,778.64L836.14,761.33L838.4,734.22L841.87,719.91L843.67,727.44L846.39,750.03L847.89,748.52L850,734.97L851.96,752.29L854.22,800.48L855.42,798.98L857.98,740.24L859.79,702.59L861.45,714.64L863.25,764.34L864.76,779.4L866.27,768.86L868.52,731.2L869.73,722.92L871.99,767.35L874.25,773.37L875.75,761.33L877.26,729.7L879.37,726.69L882.08,756.81L884.04,759.82L885.84,761.33L889.16,766.6L891.11,753.8L893.37,736.48L894.88,737.98L897.59,752.29L900.15,740.24L902.11,738.73L905.12,762.83L906.93,761.33L908.73,740.24L910.39,734.22L912.65,755.3L914.91,777.89L916.42,771.87L918.98,731.96L920.93,732.71L923.95,756.81L925.75,755.3L927.71,749.28L929.52,756.81L932.53,774.88L934.49,765.84L936.75,721.42L939.76,721.42L942.02,764.34L944.13,768.86L945.78,762.08L947.59,756.81L950.3,776.39L952.41,771.87L955.12,738.73L957.38,727.44L959.34,726.69L961.9,735.72L964.91,767.35L966.87,779.4L968.67,771.87L971.39,740.24L973.64,732.41L976.2,749.28L978.46,756.81L981.48,750.78L982.98,753.8L984.49,762.08L986.45,762.83L988.7,741.75L991.27,736.48L994.28,752.29L997.29,763.58L999.55,763.58L1001.81,752.29L1005.57,735.72L1008.58,752.29L1010.54,758.31L1013.55,741.75L1015.36,744.76L1018.37,769.61L1020.33,755.3L1023.19,736.48L1025.15,743.25L1026.66,758.31L1028.61,763.58L1030.42,753.8L1031.93,736.48L1033.43,737.23L1036.45,765.09L1038.25,764.34L1040.96,737.23L1042.92,740.24L1045.78,783.92L1047.74,780.9L1050.54,740.24L1052.35,725.18L1054.31,732.71L1056.27,746.27L1057.77,750.78L1060.78,740.24L1062.29,744.76L1064.1,767.35L1065.9,782.41L1067.41,786.17L1068.92,773.37L1070.57,737.23L1071.93,724.43L1073.89,734.22L1075.09,753.04L1077.2,756.05L1078.86,732.71L1079.91,725.18L1081.87,732.71L1083.67,758.31L1084.88,772.62L1086.69,767.35L1088.49,749.28L1090,738.73L1091.66,737.23L1093.46,746.27L1094.97,753.04L1096.48,754.55L1099.49,743.25L1100.99,746.27L1102.95,764.34L1104.46,781.66L1105.96,779.4L1107.77,755.3L1108.98,734.22L1110.78,728.95L1112.29,737.23L1114.1,748.52L1115.75,747.77L1117.56,734.22L1119.07,727.44L1121.02,734.22L1122.53,759.82L1123.89,780.9L1125.54,789.94L1127.05,783.92L1129.16,758.31L1130.36,744.76L1132.17,738.73L1134.13,741.75L1135.18,748.52L1136.69,751.54L1138.64,741.75L1140.15,723.67L1141.66,717.65L1143.61,724.43L1145.12,746.27L1146.63,762.08L1148.13,764.34L1149.64,756.81L1151.45,759.07L1152.65,776.39L1154.16,791.45L1155.21,796.72L1156.72,790.69L1157.92,758.31L1159.43,725.18L1161.23,706.36L1162.74,717.65L1164.25,740.24L1166.05,750.03L1168.01,740.24L1169.52,739.49L1171.02,752.29L1172.53,767.35L1174.04,771.11L1175.54,753.8L1177.35,726.69L1178.86,728.19L1180.36,747.02L1182.02,761.33L1183.83,752.29L1185.63,745.51L1187.14,758.31L1188.64,772.62L1190.6,775.63L1192.11,747.77L1193.61,717.65L1195.12,707.11L1196.93,720.66L1198.43,741.75L1200.09,753.8L1202.65,757.56L1204.91,762.83L1206.87,762.08L1207.92,749.28L1209.43,732.71L1211.69,731.96L1212.89,747.77L1214.4,765.09L1216.2,768.1L1218.01,756.81L1219.97,747.77L1221.48,744.76L1222.98,746.27L1224.49,750.78L1225.99,760.57L1227.5,761.33L1229.46,749.28L1230.96,731.2L1232.47,724.43L1233.98,734.22L1235.48,755.3L1237.29,773.37L1239.1,774.88L1240.75,758.31L1242.26,746.27L1243.77,744.76L1245.57,750.78L1247.53,758.31L1249.04,762.08L1250.54,762.08L1252.05,758.31L1253.86,746.27L1255.66,732.71L1256.87,727.44L1258.67,723.67L1260.18,728.19L1261.69,735.72L1263.64,741.75L1265.45,754.55L1267.11,773.37L1268.16,786.93L1269.67,786.93L1271.17,770.36L1272.68,750.78L1274.19,740.99L1275.69,740.24L1277.65,737.98L1279.46,728.19L1280.96,717.65L1282.47,714.64L1284.28,728.19L1285.48,755.3L1286.99,791.45L1289.25,805.6L1292.3,769L1295.2,744.3" fill="none" stroke="#bebebe" stroke-width="2" stroke-linejoin="round"/>
<path d="M1135,638.8H1297" stroke="#bebebe" stroke-width="4.5" fill="none"/>
<path d="M1135,631.5V646M1297,631.5V646" stroke="#bebebe" stroke-width="4.5" fill="none"/>
<path d="M211.75,427.5V586" stroke="#bebebe" stroke-width="2.2" fill="none"/>
<path d="M204.5,427.6H219M204.5,586H219" stroke="#bebebe" stroke-width="2.2" fill="none"/>
<circle cx="211.75" cy="506.9" r="4.3" fill="#000"/>
<text transform="translate(244.4,507) rotate(-90) scale(1,1.03)" font-size="24" text-anchor="middle">Typical noise level</text>
<text transform="translate(1386.8,402.5) rotate(-90) scale(1,1.03)" font-size="24">1 DIV = 0.5 hPa/h</text>
<text transform="translate(1427.3,402.5) rotate(-90) scale(1,1.03)" font-size="24">average = 0.0567</text>
<rect x="163.25" y="110.5" width="1296" height="792" fill="none" stroke="#000" stroke-width="2.7"/>
<path d="M163.25,902.5v10.8M163.25,110.5v-10.8M179.45,902.5v5.6M179.45,110.5v-5.6M195.65,902.5v5.6M195.65,110.5v-5.6M211.85,902.5v5.6M211.85,110.5v-5.6M228.05,902.5v5.6M228.05,110.5v-5.6M244.25,902.5v5.6M244.25,110.5v-5.6M260.45,902.5v5.6M260.45,110.5v-5.6M276.65,902.5v5.6M276.65,110.5v-5.6M292.85,902.5v5.6M292.85,110.5v-5.6M309.05,902.5v5.6M309.05,110.5v-5.6M325.25,902.5v10.8M325.25,110.5v-10.8M341.45,902.5v5.6M341.45,110.5v-5.6M357.65,902.5v5.6M357.65,110.5v-5.6M373.85,902.5v5.6M373.85,110.5v-5.6M390.05,902.5v5.6M390.05,110.5v-5.6M406.25,902.5v5.6M406.25,110.5v-5.6M422.45,902.5v5.6M422.45,110.5v-5.6M438.65,902.5v5.6M438.65,110.5v-5.6M454.85,902.5v5.6M454.85,110.5v-5.6M471.05,902.5v5.6M471.05,110.5v-5.6M487.25,902.5v10.8M487.25,110.5v-10.8M503.45,902.5v5.6M503.45,110.5v-5.6M519.65,902.5v5.6M519.65,110.5v-5.6M535.85,902.5v5.6M535.85,110.5v-5.6M552.05,902.5v5.6M552.05,110.5v-5.6M568.25,902.5v5.6M568.25,110.5v-5.6M584.45,902.5v5.6M584.45,110.5v-5.6M600.65,902.5v5.6M600.65,110.5v-5.6M616.85,902.5v5.6M616.85,110.5v-5.6M633.05,902.5v5.6M633.05,110.5v-5.6M649.25,902.5v10.8M649.25,110.5v-10.8M665.45,902.5v5.6M665.45,110.5v-5.6M681.65,902.5v5.6M681.65,110.5v-5.6M697.85,902.5v5.6M697.85,110.5v-5.6M714.05,902.5v5.6M714.05,110.5v-5.6M730.25,902.5v5.6M730.25,110.5v-5.6M746.45,902.5v5.6M746.45,110.5v-5.6M762.65,902.5v5.6M762.65,110.5v-5.6M778.85,902.5v5.6M778.85,110.5v-5.6M795.05,902.5v5.6M795.05,110.5v-5.6M811.25,902.5v10.8M811.25,110.5v-10.8M827.45,902.5v5.6M827.45,110.5v-5.6M843.65,902.5v5.6M843.65,110.5v-5.6M859.85,902.5v5.6M859.85,110.5v-5.6M876.05,902.5v5.6M876.05,110.5v-5.6M892.25,902.5v5.6M892.25,110.5v-5.6M908.45,902.5v5.6M908.45,110.5v-5.6M924.65,902.5v5.6M924.65,110.5v-5.6M940.85,902.5v5.6M940.85,110.5v-5.6M957.05,902.5v5.6M957.05,110.5v-5.6M973.25,902.5v10.8M973.25,110.5v-10.8M989.45,902.5v5.6M989.45,110.5v-5.6M1005.65,902.5v5.6M1005.65,110.5v-5.6M1021.85,902.5v5.6M1021.85,110.5v-5.6M1038.05,902.5v5.6M1038.05,110.5v-5.6M1054.25,902.5v5.6M1054.25,110.5v-5.6M1070.45,902.5v5.6M1070.45,110.5v-5.6M1086.65,902.5v5.6M1086.65,110.5v-5.6M1102.85,902.5v5.6M1102.85,110.5v-5.6M1119.05,902.5v5.6M1119.05,110.5v-5.6M1135.25,902.5v10.8M1135.25,110.5v-10.8M1151.45,902.5v5.6M1151.45,110.5v-5.6M1167.65,902.5v5.6M1167.65,110.5v-5.6M1183.85,902.5v5.6M1183.85,110.5v-5.6M1200.05,902.5v5.6M1200.05,110.5v-5.6M1216.25,902.5v5.6M1216.25,110.5v-5.6M1232.45,902.5v5.6M1232.45,110.5v-5.6M1248.65,902.5v5.6M1248.65,110.5v-5.6M1264.85,902.5v5.6M1264.85,110.5v-5.6M1281.05,902.5v5.6M1281.05,110.5v-5.6M1297.25,902.5v10.8M1297.25,110.5v-10.8M1313.45,902.5v5.6M1313.45,110.5v-5.6M1329.65,902.5v5.6M1329.65,110.5v-5.6M1345.85,902.5v5.6M1345.85,110.5v-5.6M1362.05,902.5v5.6M1362.05,110.5v-5.6M1378.25,902.5v5.6M1378.25,110.5v-5.6M1394.45,902.5v5.6M1394.45,110.5v-5.6M1410.65,902.5v5.6M1410.65,110.5v-5.6M1426.85,902.5v5.6M1426.85,110.5v-5.6M1443.05,902.5v5.6M1443.05,110.5v-5.6M1459.25,902.5v10.8M1459.25,110.5v-10.8M163.25,902.8h-10.8M163.25,863.2h-5.6M163.25,823.6h-10.8M163.25,784h-5.6M163.25,744.4h-10.8M163.25,704.8h-5.6M163.25,665.2h-10.8M163.25,625.6h-5.6M163.25,586h-10.8M163.25,546.4h-5.6M163.25,506.8h-10.8M163.25,467.2h-5.6M163.25,427.6h-10.8M163.25,388h-5.6M163.25,348.4h-10.8M163.25,308.8h-5.6M163.25,269.2h-10.8M163.25,229.6h-5.6M163.25,190h-10.8M163.25,150.4h-5.6M163.25,110.8h-10.8M1459.25,130.8h5.6M1459.25,150.6h5.6M1459.25,170.4h5.6M1459.25,190.2h10.8M1459.25,210h5.6M1459.25,229.8h5.6M1459.25,249.6h5.6M1459.25,269.4h10.8M1459.25,289.2h5.6M1459.25,309h5.6M1459.25,328.8h5.6M1459.25,348.6h10.8M1459.25,368.4h5.6M1459.25,388.2h5.6M1459.25,408h5.6M1459.25,427.8h10.8M1459.25,447.6h5.6M1459.25,467.4h5.6M1459.25,487.2h5.6M1459.25,902.6h10.8M1459.25,889.4h5.6M1459.25,876.2h5.6M1459.25,863h5.6M1459.25,849.8h5.6M1459.25,836.6h10.8M1459.25,823.4h5.6M1459.25,810.2h5.6M1459.25,797h5.6M1459.25,783.8h5.6M1459.25,770.6h10.8M1459.25,757.4h5.6M1459.25,744.2h5.6M1459.25,731h5.6M1459.25,717.8h5.6M1459.25,704.6h10.8M1459.25,691.4h5.6M1459.25,678.2h5.6M1459.25,665h5.6M1459.25,651.8h5.6M1459.25,638.6h10.8M1459.25,625.4h5.6M1459.25,612.2h5.6M1459.25,599h5.6M1459.25,585.8h5.6M1459.25,572.6h10.8M1459.25,559.4h5.6M1459.25,546.2h5.6M1459.25,533h5.6M1459.25,519.8h5.6" fill="none" stroke="#000" stroke-width="1" shape-rendering="crispEdges"/>
<g stroke="#008b8b" stroke-opacity="0.7" stroke-width="1.5" fill="none">
<path d="M1346,109.6V506.6"/>
<path d="M1329.6,109.6H1362.3"/>
<path d="M1329.6,506.6H1362.3"/>
<path d="M1346,506.6h8.2M1346,467h8.2M1346,427.4h8.2M1346,387.8h8.2M1346,348.2h8.2M1346,269h8.2M1346,229.4h8.2M1346,189.8h8.2M1346,150.2h8.2" stroke-width="0.8"/>
</g>
<text transform="translate(163.25,944.3) scale(1,1.05)" font-size="28" text-anchor="middle">-10</text>
<text transform="translate(325.25,944.3) scale(1,1.05)" font-size="28" text-anchor="middle">0</text>
<text transform="translate(487.25,944.3) scale(1,1.05)" font-size="28" text-anchor="middle">10</text>
<text transform="translate(649.25,944.3) scale(1,1.05)" font-size="28" text-anchor="middle">20</text>
<text transform="translate(811.25,944.3) scale(1,1.05)" font-size="28" text-anchor="middle">30</text>
<text transform="translate(973.25,944.3) scale(1,1.05)" font-size="28" text-anchor="middle">40</text>
<text transform="translate(1135.25,944.3) scale(1,1.05)" font-size="28" text-anchor="middle">50</text>
<text transform="translate(1297.25,944.3) scale(1,1.05)" font-size="28" text-anchor="middle">60</text>
<text transform="translate(1459.25,944.3) scale(1,1.05)" font-size="28" text-anchor="middle">70</text>
<text transform="translate(142.1,913.1) scale(1,1.05)" font-size="28" text-anchor="end">-100</text>
<text transform="translate(142.1,833.9) scale(1,1.05)" font-size="28" text-anchor="end">-80</text>
<text transform="translate(142.1,754.7) scale(1,1.05)" font-size="28" text-anchor="end">-60</text>
<text transform="translate(142.1,675.5) scale(1,1.05)" font-size="28" text-anchor="end">-40</text>
<text transform="translate(142.1,596.3) scale(1,1.05)" font-size="28" text-anchor="end">-20</text>
<text transform="translate(142.1,517.1) scale(1,1.05)" font-size="28" text-anchor="end">0</text>
<text transform="translate(142.1,437.9) scale(1,1.05)" font-size="28" text-anchor="end">20</text>
<text transform="translate(142.1,358.7) scale(1,1.05)" font-size="28" text-anchor="end">40</text>
<text transform="translate(142.1,279.5) scale(1,1.05)" font-size="28" text-anchor="end">60</text>
<text transform="translate(142.1,200.3) scale(1,1.05)" font-size="28" text-anchor="end">80</text>
<text transform="translate(142.1,121.1) scale(1,1.05)" font-size="28" text-anchor="end">100</text>
<text transform="translate(1479.8,199.9) scale(1,1.05)" font-size="28">1018.4</text>
<text transform="translate(1479.8,279.1) scale(1,1.05)" font-size="28">1018.0</text>
<text transform="translate(1479.8,358.3) scale(1,1.05)" font-size="28">1017.6</text>
<text transform="translate(1479.8,437.5) scale(1,1.05)" font-size="28">1017.2</text>
<text transform="translate(1550.9,583.2) scale(1,1.05)" font-size="28" text-anchor="end">1000</text>
<text transform="translate(1550.9,649.2) scale(1,1.05)" font-size="28" text-anchor="end">500</text>
<text transform="translate(1550.9,715.2) scale(1,1.05)" font-size="28" text-anchor="end">0</text>
<text transform="translate(1550.9,781.2) scale(1,1.05)" font-size="28" text-anchor="end">-500</text>
<text transform="translate(1550.9,847.2) scale(1,1.05)" font-size="28" text-anchor="end">-1000</text>
<text transform="translate(1550.9,913.2) scale(1,1.05)" font-size="28" text-anchor="end">-1500</text>
<text transform="translate(811.2,1005.7) scale(1,1.035)" font-size="48" text-anchor="middle">Time [min] from 2025-10-07 08:01:00 UTC</text>
<text transform="translate(59.2,506.5) rotate(-90) scale(1,1.035)" font-size="48" text-anchor="middle">Obs’d Gravity [nm/s<tspan font-size="34.5" dy="-15.5">2</tspan><tspan dy="15.5">]</tspan></text>
<text transform="translate(1627.2,309) rotate(-90) scale(1,1.035)" font-size="48" text-anchor="middle">Pressure [hPa]</text>
<text transform="translate(1613,704.8) rotate(-90) scale(1,1.035)" font-size="48" text-anchor="middle">Tide [nm/s<tspan font-size="34.5" dy="-15.5">2</tspan><tspan dy="15.5">]</tspan></text>
<text transform="translate(560.2,82.4) scale(1.0056,1.05)" font-size="32" font-weight="bold">SCG_054 gravimeter Onsala Space Observatory, Sweden</text>
<text transform="translate(192.2,888) scale(0.9935,1.05)" font-size="28" font-weight="bold">The latest 1-hour, 1-second sampling</text>
<text transform="translate(1430.8,888) scale(0.9947,1.05)" font-size="28" text-anchor="end" font-weight="bold">End at 2025-10-07 09:00:59 UTC</text>
<rect x="167" y="18.25" width="372.5" height="163.1" fill="#fff" stroke="#6e6e6e" stroke-width="1.1"/>
<path d="M204,39.25H260" stroke="#0000ff" stroke-width="0.6"/>
<circle cx="232.2" cy="39.25" r="4.3" fill="#0000ff"/>
<path d="M204,69.6H260" stroke="#00c5c5" stroke-width="0.6"/>
<circle cx="232.2" cy="69.6" r="4.3" fill="#00c5c5"/>
<path d="M204,100.4H260" stroke="#000" stroke-width="2.4"/>
<path d="M204,130.4H260" stroke="#bebebe" stroke-width="3"/>
<path d="M204,161.2H260" stroke="#ff0000" stroke-width="0.6"/>
<circle cx="232.2" cy="161.2" r="4.3" fill="#ff0000"/>
<text transform="translate(279,47.65) scale(1,1.04)" font-size="24">Pressure</text>
<text transform="translate(279,78) scale(1,1.04)" font-size="24">dP/dt low-passed</text>
<text transform="translate(279,109.4) scale(1,1.04)" font-size="24">Residual</text>
<text transform="translate(279,138.8) scale(1,1.04)" font-size="24">... last 10 min.</text>
<text transform="translate(279,169.6) scale(1,1.04)" font-size="24">Theor.Tide</text>
</svg></body></html>
